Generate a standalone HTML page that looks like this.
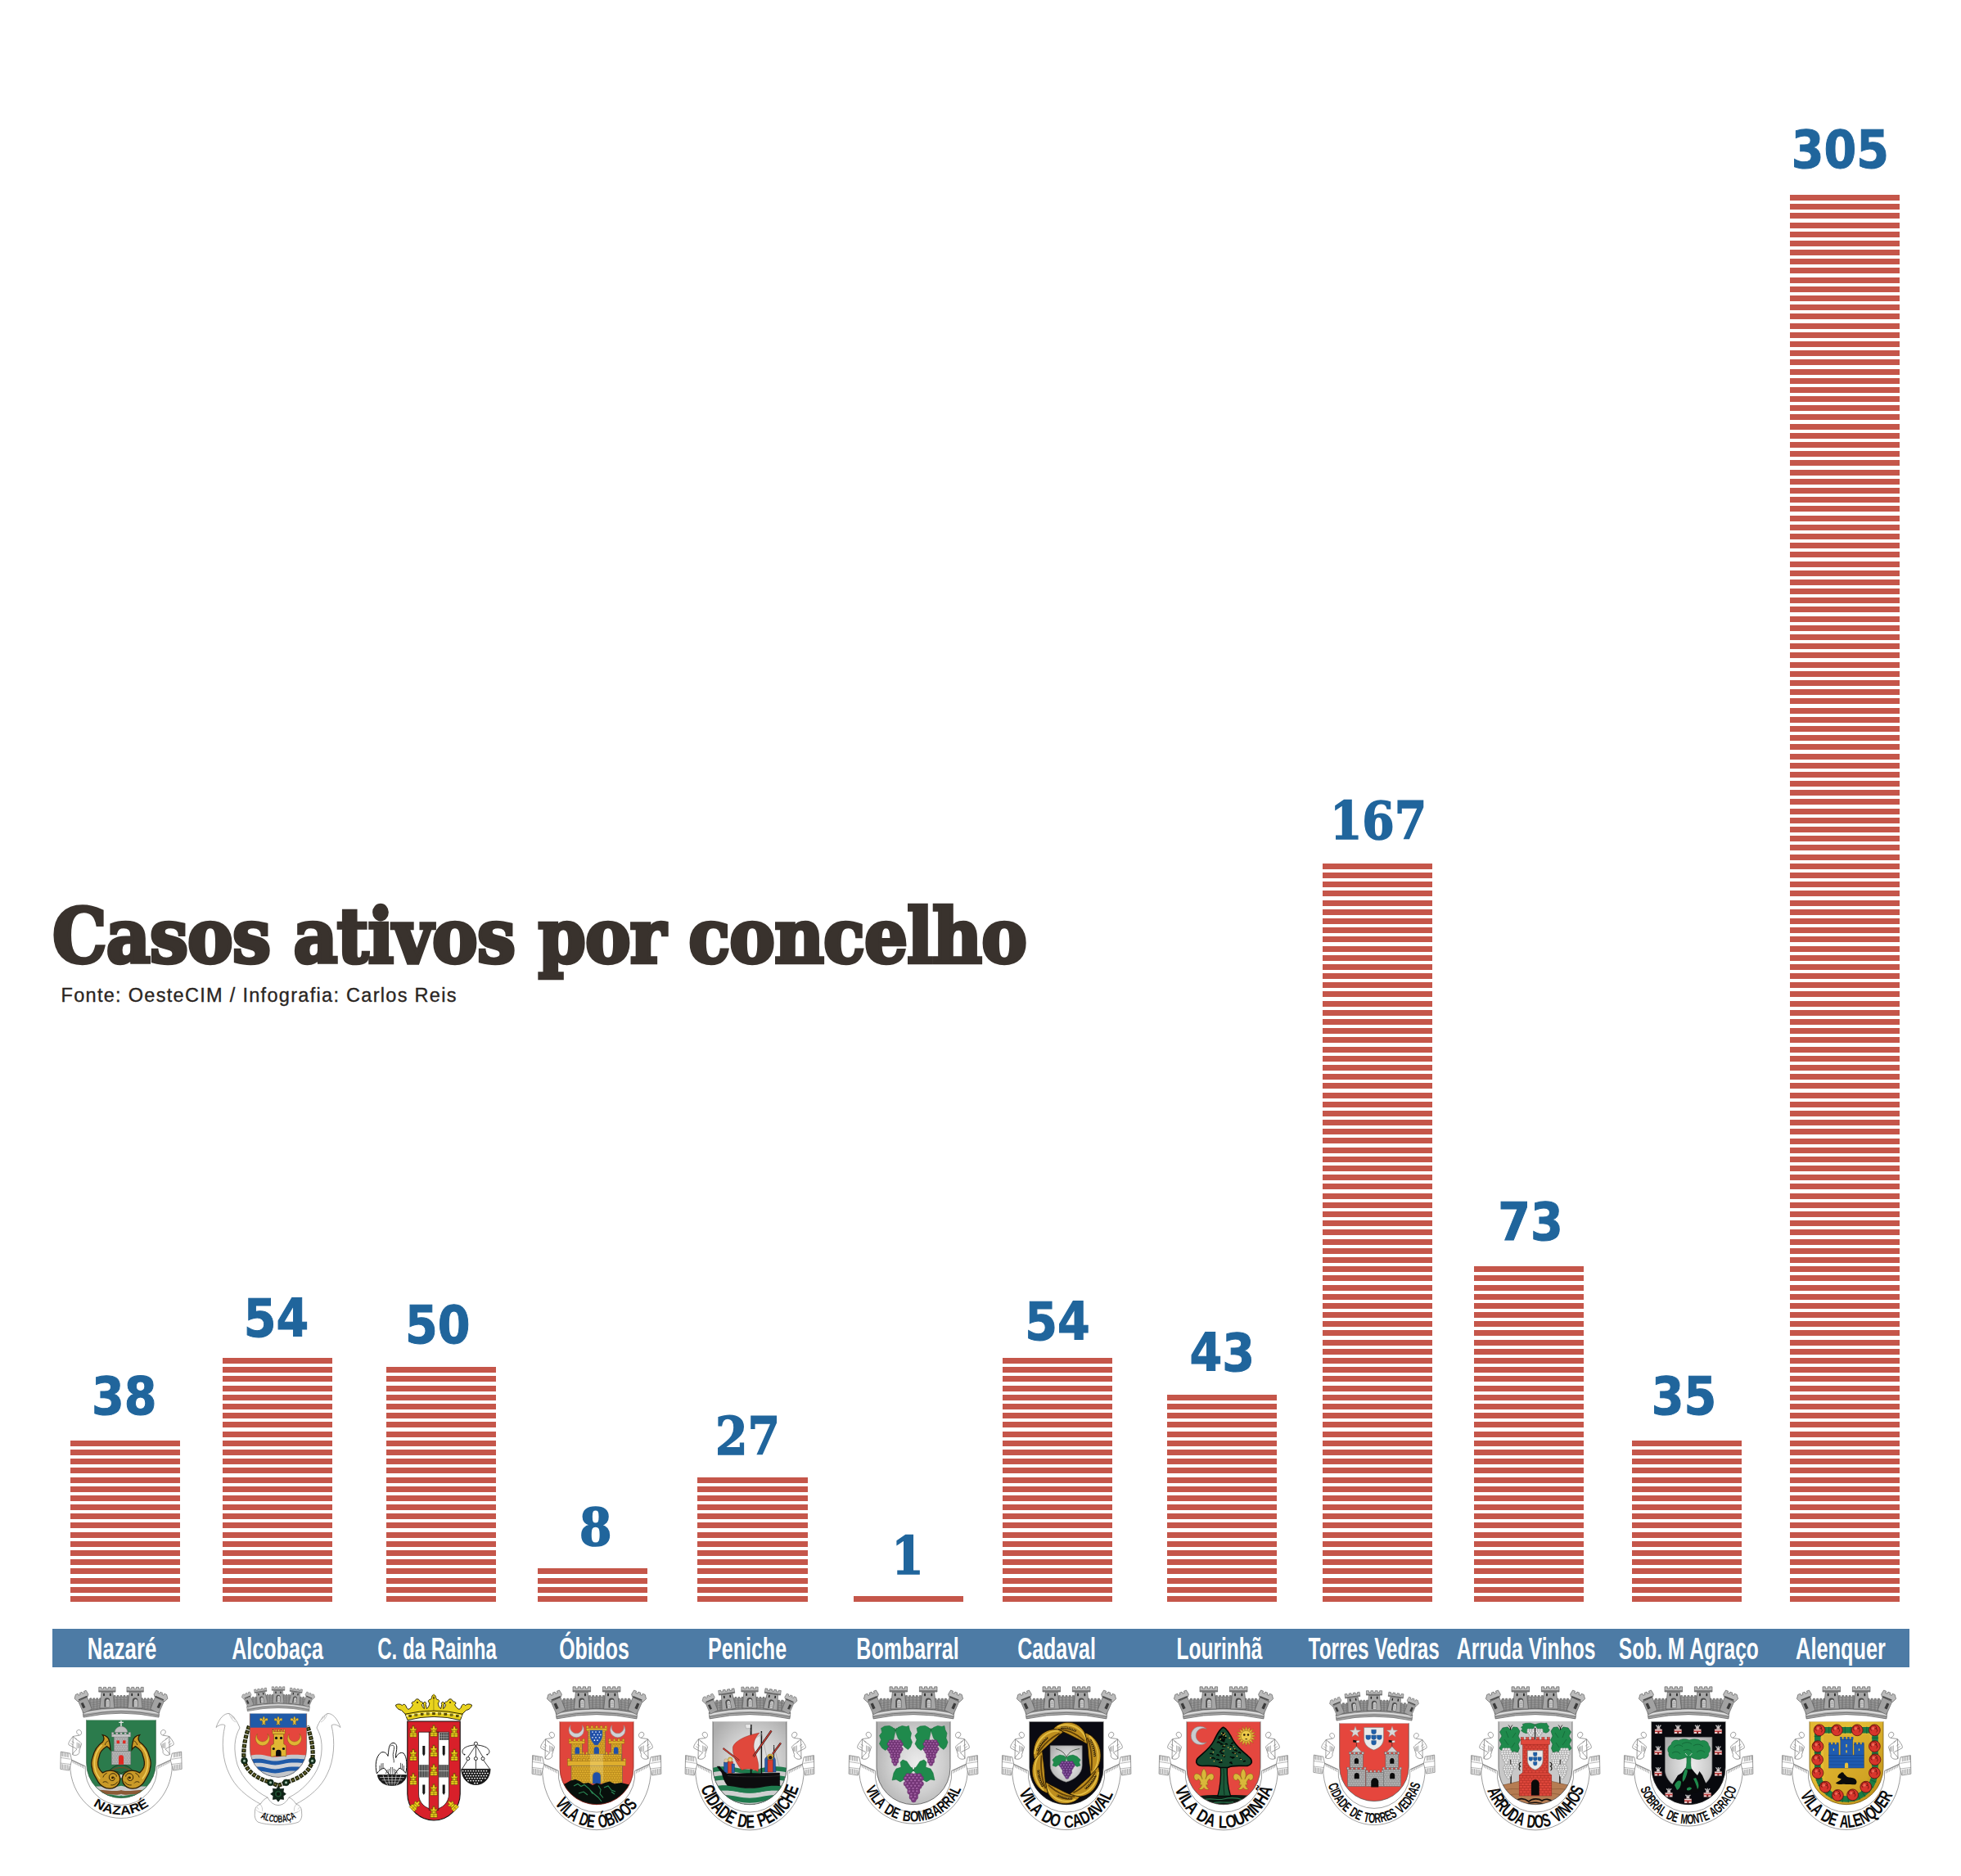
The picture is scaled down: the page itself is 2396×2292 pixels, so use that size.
<!DOCTYPE html><html lang="pt"><head><meta charset="utf-8"><title>Casos ativos por concelho</title><style>
html,body{margin:0;padding:0;background:#fff;}
#pg{position:relative;width:2396px;height:2292px;overflow:hidden;background:#fff;font-family:"Liberation Sans",sans-serif;}
.bar{position:absolute;width:134.3px;background:repeating-linear-gradient(to top,#c5564a 0,#c5564a 7.0px,rgba(255,255,255,0) 7.0px,rgba(255,255,255,0) 11.19px);}
#band{position:absolute;left:63.5px;top:1989.5px;width:2269px;height:47.7px;background:#4d7ba5;}
.lb{position:absolute;top:1993.4px;height:44px;line-height:44px;width:300px;margin-left:-150px;text-align:center;color:#fff;font-size:36px;white-space:nowrap;font-weight:700;}
.lb span{display:inline-block;transform:scaleX(.695);transform-origin:50% 50%;}
.num{position:absolute;width:300px;margin-left:-150px;text-align:center;color:#20659c;white-space:nowrap;line-height:1;}
.num.s{font-family:"DejaVu Sans Condensed","DejaVu Sans","Liberation Sans",sans-serif;font-weight:700;font-size:63.5px;-webkit-text-stroke:1px #20659c;}
.num.f{font-family:"DejaVu Serif Condensed","DejaVu Serif","Liberation Serif",serif;font-weight:700;font-size:63px;-webkit-text-stroke:1.5px #20659c;}
#title{position:absolute;left:64px;top:1089.6px;font-family:"DejaVu Serif","Liberation Serif",serif;font-weight:700;font-size:104px;line-height:normal;color:#39322d;white-space:nowrap;transform-origin:0 0;transform:scale(.8026,.875);-webkit-text-stroke:5.2px #39322d;letter-spacing:-1px;}
#src{position:absolute;left:74.5px;top:1205.2px;-webkit-text-stroke:.35px #2a2522;font-size:23.5px;line-height:1;color:#2a2522;white-space:nowrap;letter-spacing:1.3px;}
.coa{position:absolute;overflow:visible;}
</style></head><body><div id="pg">
<div id="title">Casos ativos por concelho</div>
<div id="src">Fonte: OesteCIM / Infografia: Carlos Reis</div>
<div class="bar" style="left:86.0px;top:1759.77px;height:197.23px"></div>
<div class="bar" style="left:272.0px;top:1659.06px;height:297.94px"></div>
<div class="bar" style="left:472.0px;top:1670.25px;height:286.75px"></div>
<div class="bar" style="left:656.6px;top:1916.43px;height:40.57px"></div>
<div class="bar" style="left:852.4px;top:1804.53px;height:152.47px"></div>
<div class="bar" style="left:1042.8px;top:1950.00px;height:7.00px"></div>
<div class="bar" style="left:1225.1px;top:1659.06px;height:297.94px"></div>
<div class="bar" style="left:1426.1px;top:1703.82px;height:253.18px"></div>
<div class="bar" style="left:1616.2px;top:1054.80px;height:902.20px"></div>
<div class="bar" style="left:1801.2px;top:1547.16px;height:409.84px"></div>
<div class="bar" style="left:1994.0px;top:1759.77px;height:197.23px"></div>
<div class="bar" style="left:2187.1px;top:237.93px;height:1719.07px"></div>
<div id="band"></div>
<div class="lb" style="left:148.9px"><span style="transform:scaleX(0.715)">Nazaré</span></div>
<div class="lb" style="left:339.3px"><span style="transform:scaleX(0.698)">Alcobaça</span></div>
<div class="lb" style="left:534.5px"><span style="transform:scaleX(0.668)">C. da Rainha</span></div>
<div class="lb" style="left:725.6px"><span style="transform:scaleX(0.69)">Óbidos</span></div>
<div class="lb" style="left:912.6px"><span style="transform:scaleX(0.696)">Peniche</span></div>
<div class="lb" style="left:1109.0px"><span style="transform:scaleX(0.696)">Bombarral</span></div>
<div class="lb" style="left:1291.5px"><span style="transform:scaleX(0.693)">Cadaval</span></div>
<div class="lb" style="left:1490.3px"><span style="transform:scaleX(0.682)">Lourinhã</span></div>
<div class="lb" style="left:1679.2px"><span style="transform:scaleX(0.675)">Torres Vedras</span></div>
<div class="lb" style="left:1865.2px"><span style="transform:scaleX(0.686)">Arruda Vinhos</span></div>
<div class="lb" style="left:2062.9px"><span style="transform:scaleX(0.682)">Sob. M Agraço</span></div>
<div class="lb" style="left:2249.5px"><span style="transform:scaleX(0.704)">Alenquer</span></div>
<div class="num s" style="left:151.8px;top:1675.4px">38</div>
<div class="num s" style="left:337.5px;top:1579.8px">54</div>
<div class="num s" style="left:534.8px;top:1588.0px">50</div>
<div class="num f" style="left:727.7px;top:1834.8px">8</div>
<div class="num f" style="left:913.4px;top:1723.7px">27</div>
<div class="num f" style="left:1109.0px;top:1869.8px">1</div>
<div class="num s" style="left:1292.0px;top:1584.4px">54</div>
<div class="num s" style="left:1493.3px;top:1621.7px">43</div>
<div class="num f" style="left:1684.1px;top:971.5px">167</div>
<div class="num s" style="left:1870.0px;top:1462.1px">73</div>
<div class="num s" style="left:2057.5px;top:1675.4px">35</div>
<div class="num s" style="left:2248.3px;top:152.0px">305</div>
<svg class="coa" style="left:42.7px;top:2036.2px" width="210" height="250" viewBox="-105 -65 210 250"><g transform="scale(0.94)"><path d="M-65.93,51.5 A66.3,69.3 0 1 0 65.93,51.5 L46.54,60.5 A46.7,46.7 0 1 1 -46.54,60.5 Z" fill="#fff" stroke="#6f6f6f" stroke-width=".7"/><g transform="scale(-1,1)" fill="#fff" stroke="#6e6e6e" stroke-width=".7" stroke-linejoin="round"><path d="M-66.2,43.8 L-78.4,41.6 L-78.9,64.2 L-67.8,66 L-64.2,53 Z"/><path d="M-77.6,42 v5.6 M-77.6,57.6 v6 M-76.05,42.28 v5.6 M-76.05,57.84 v6 M-74.5,42.56 v5.6 M-74.5,58.08 v6 M-72.95,42.84 v5.6 M-72.95,58.32 v6 M-71.4,43.12 v5.6 M-71.4,58.56 v6 M-69.85,43.4 v5.6 M-69.85,58.8 v6 M-68.3,43.68 v5.6 M-68.3,59.04 v6 " fill="none" stroke-width=".55"/><path d="M-78.6,49.4 L-65.4,51.4 M-78.8,56.4 L-65.6,58" fill="none" stroke-width=".5"/><path d="M-63,45.5 C-58,48 -53,44 -54.5,40.5 L-51.5,31.5 C-53,28 -58,27 -62.5,21.8 C-58,20.5 -54,21 -52.5,19.5 C-49.5,16 -54,11.5 -57,14 C-59,16 -57,19 -54.5,19.8 M-62.5,21.8 C-66,26 -69,30 -68.2,32.5 C-65,35 -60,36 -57.5,38.5 C-60,41 -63,43 -63,45.5Z"/><path d="M-57.4,29.4 v8 M-56,30 v7.4 M-54.6,30.6 v6.4 M-53.4,31.2 v5 M-66,30.5 l3.4,2.4 M-64.4,27.8 l3.6,2.6 M-60.5,23.6 l3,1.8" fill="none" stroke-width=".5"/><path d="M-63,53.6 l.7,3 M-61,54.6 l.7,3 M-59,55.6 l.7,3 M-57,56.6 l.7,3 M-55,57.6 l.7,3 M-53,58.6 l.7,3 M-51,59.6 l.7,3 M-49,60.6 l.7,3 " fill="none" stroke-width=".55"/><path d="M-64.5,52.6 C-60,54.5 -54,57.6 -47.8,60.4" fill="none"/></g><g transform="scale(1,1)" fill="#fff" stroke="#6e6e6e" stroke-width=".7" stroke-linejoin="round"><path d="M-66.2,43.8 L-78.4,41.6 L-78.9,64.2 L-67.8,66 L-64.2,53 Z"/><path d="M-77.6,42 v5.6 M-77.6,57.6 v6 M-76.05,42.28 v5.6 M-76.05,57.84 v6 M-74.5,42.56 v5.6 M-74.5,58.08 v6 M-72.95,42.84 v5.6 M-72.95,58.32 v6 M-71.4,43.12 v5.6 M-71.4,58.56 v6 M-69.85,43.4 v5.6 M-69.85,58.8 v6 M-68.3,43.68 v5.6 M-68.3,59.04 v6 " fill="none" stroke-width=".55"/><path d="M-78.6,49.4 L-65.4,51.4 M-78.8,56.4 L-65.6,58" fill="none" stroke-width=".5"/><path d="M-63,45.5 C-58,48 -53,44 -54.5,40.5 L-51.5,31.5 C-53,28 -58,27 -62.5,21.8 C-58,20.5 -54,21 -52.5,19.5 C-49.5,16 -54,11.5 -57,14 C-59,16 -57,19 -54.5,19.8 M-62.5,21.8 C-66,26 -69,30 -68.2,32.5 C-65,35 -60,36 -57.5,38.5 C-60,41 -63,43 -63,45.5Z"/><path d="M-57.4,29.4 v8 M-56,30 v7.4 M-54.6,30.6 v6.4 M-53.4,31.2 v5 M-66,30.5 l3.4,2.4 M-64.4,27.8 l3.6,2.6 M-60.5,23.6 l3,1.8" fill="none" stroke-width=".5"/><path d="M-63,53.6 l.7,3 M-61,54.6 l.7,3 M-59,55.6 l.7,3 M-57,56.6 l.7,3 M-55,57.6 l.7,3 M-53,58.6 l.7,3 M-51,59.6 l.7,3 M-49,60.6 l.7,3 " fill="none" stroke-width=".55"/><path d="M-64.5,52.6 C-60,54.5 -54,57.6 -47.8,60.4" fill="none"/></g><defs><clipPath id="ct1"><path d="M-45,0H45V56.7A45,45 0 0 1 -45,56.7Z"/></clipPath></defs><path d="M-45,0H45V56.7A45,45 0 0 1 -45,56.7Z" fill="#2b7b4c"/><g clip-path="url(#ct1)"><path d="M-46,88 C-30,85 -10,89 0,86 C10,89 30,85 46,88 V110 H-46Z" fill="#c9c9c9" /><path d="M-40,92 C-25,89 -8,95 0,91.5 C8,95 25,89 40,92 L34,98 C20,94 8,100 0,96.5 C-8,100 -20,94 -34,98Z" fill="#8a5a36" /><path d="M-24,98 C-12,95 -4,101 0,98.5 C4,101 12,95 24,98 L18,103 H-18Z" fill="#2f7d4f" /><path d="M-17,68 C-10,60 -4,58.5 0,58.5 C4,58.5 10,60 17,68 C10,66 4,67 0,70 C-4,67 -10,66 -17,68Z" fill="#2a6b3f" stroke="#1a2a18" stroke-width="0.8" /><path d="M-12,66 C-6,61 6,61 12,66" fill="none" stroke="#7a4a2a" stroke-width="1.2" /><ellipse cx="0" cy="73.5" rx="5" ry="2.2" fill="#dcdcdc" stroke="#777" stroke-width="0.4"/><rect x="-12.6" y="41" width="25.2" height="17.5" fill="#bcbcbc" stroke="#555" stroke-width="0.5" /><path d="M-12.6,43.5 h25.2 M-12.6,46 h25.2 M-12.6,48.5 h25.2 M-12.6,51 h25.2 M-12.6,53.5 h25.2 M-12.6,56 h25.2 M-9.45,41 v2.5 M-6.3,41 v2.5 M-3.15,41 v2.5 M0,41 v2.5 M3.15,41 v2.5 M6.3,41 v2.5 M9.45,41 v2.5 M-11.03,43.5 v2.5 M-7.87,43.5 v2.5 M-4.72,43.5 v2.5 M-1.58,43.5 v2.5 M1.57,43.5 v2.5 M4.73,43.5 v2.5 M7.87,43.5 v2.5 M11.03,43.5 v2.5 M-9.45,46 v2.5 M-6.3,46 v2.5 M-3.15,46 v2.5 M0,46 v2.5 M3.15,46 v2.5 M6.3,46 v2.5 M9.45,46 v2.5 M-11.03,48.5 v2.5 M-7.87,48.5 v2.5 M-4.72,48.5 v2.5 M-1.58,48.5 v2.5 M1.57,48.5 v2.5 M4.73,48.5 v2.5 M7.87,48.5 v2.5 M11.03,48.5 v2.5 M-9.45,51 v2.5 M-6.3,51 v2.5 M-3.15,51 v2.5 M0,51 v2.5 M3.15,51 v2.5 M6.3,51 v2.5 M9.45,51 v2.5 M-11.03,53.5 v2.5 M-7.87,53.5 v2.5 M-4.72,53.5 v2.5 M-1.58,53.5 v2.5 M1.57,53.5 v2.5 M4.73,53.5 v2.5 M7.87,53.5 v2.5 M11.03,53.5 v2.5 M-9.45,56 v2.5 M-6.3,56 v2.5 M-3.15,56 v2.5 M0,56 v2.5 M3.15,56 v2.5 M6.3,56 v2.5 M9.45,56 v2.5 " fill="none" stroke="#7a7a7a" stroke-width="0.35"/><rect x="-9.4" y="21.5" width="18.8" height="19.5" fill="#bcbcbc" stroke="#555" stroke-width="0.5" /><path d="M-9.4,23.94 h18.8 M-9.4,26.38 h18.8 M-9.4,28.81 h18.8 M-9.4,31.25 h18.8 M-9.4,33.69 h18.8 M-9.4,36.12 h18.8 M-9.4,38.56 h18.8 M-6.27,21.5 v2.44 M-3.13,21.5 v2.44 M0,21.5 v2.44 M3.13,21.5 v2.44 M6.27,21.5 v2.44 M-7.83,23.94 v2.44 M-4.7,23.94 v2.44 M-1.57,23.94 v2.44 M1.57,23.94 v2.44 M4.7,23.94 v2.44 M7.83,23.94 v2.44 M-6.27,26.38 v2.44 M-3.13,26.38 v2.44 M0,26.38 v2.44 M3.13,26.38 v2.44 M6.27,26.38 v2.44 M-7.83,28.81 v2.44 M-4.7,28.81 v2.44 M-1.57,28.81 v2.44 M1.57,28.81 v2.44 M4.7,28.81 v2.44 M7.83,28.81 v2.44 M-6.27,31.25 v2.44 M-3.13,31.25 v2.44 M0,31.25 v2.44 M3.13,31.25 v2.44 M6.27,31.25 v2.44 M-7.83,33.69 v2.44 M-4.7,33.69 v2.44 M-1.57,33.69 v2.44 M1.57,33.69 v2.44 M4.7,33.69 v2.44 M7.83,33.69 v2.44 M-6.27,36.12 v2.44 M-3.13,36.12 v2.44 M0,36.12 v2.44 M3.13,36.12 v2.44 M6.27,36.12 v2.44 M-7.83,38.56 v2.44 M-4.7,38.56 v2.44 M-1.57,38.56 v2.44 M1.57,38.56 v2.44 M4.7,38.56 v2.44 M7.83,38.56 v2.44 " fill="none" stroke="#7a7a7a" stroke-width="0.35"/><rect x="-12.4" y="19" width="24.8" height="3.4" fill="#c6c6c6" stroke="#666" stroke-width="0.4" /><rect x="-12.4" y="16.4" width="2.76" height="2.8" fill="#c6c6c6" stroke="#666" stroke-width="0.35" /><rect x="-6.89" y="16.4" width="2.76" height="2.8" fill="#c6c6c6" stroke="#666" stroke-width="0.35" /><rect x="-1.38" y="16.4" width="2.76" height="2.8" fill="#c6c6c6" stroke="#666" stroke-width="0.35" /><rect x="4.13" y="16.4" width="2.76" height="2.8" fill="#c6c6c6" stroke="#666" stroke-width="0.35" /><rect x="9.64" y="16.4" width="2.76" height="2.8" fill="#c6c6c6" stroke="#666" stroke-width="0.35" /><path d="M-8.6,16.6 C-8,11 -3,8.6 0,8.6 C3,8.6 8,11 8.6,16.6Z" fill="#bdbdbd" stroke="#666" stroke-width="0.5" /><path d="M0,8.6 V1.2 M-3,3.6 H3" fill="none" stroke="#e6e6e6" stroke-width="1.5" /><rect x="-5.8" y="27" width="3.6" height="4" fill="#e02a22" /><rect x="2.2" y="27" width="3.6" height="4" fill="#e02a22" /><path d="M-3.2,58.3 v-9.2 a3.2,3.2 0 0 1 6.4,0 v9.2Z" fill="#e02a22" /><g transform="scale(-1,1)"><path d="M24.1,19.8 C20,20.5 16.5,23 15.5,27.3 C14.5,31 14,35 13.9,39.1 C16,36.5 18,35 18.8,34.8 C24,38 28,43 28.4,47.7 C30.4,53 30.6,58 29.5,61.6 C28,65 26,67.5 24.1,69 C20,66.5 14,65.5 9,67 C4,69 1,73 1.5,78 C2,84 7,89.5 14,89.5 C18,89.8 21,88.8 23,87.4 C27,85 30,81.5 31.6,77.7 C35,72 37.6,68 37.5,63.8 C39.2,58 38.6,53 37,48.8 C35,40 30,33 24,29 C22,26 22,22.5 24.1,19.8Z" fill="#c99a28" stroke="#2a1c05" stroke-width="1.4" /><path d="M25,33 C31,39 34.5,47 34.6,55 C35,63 32.5,71 27.5,77" fill="none" stroke="#ecca58" stroke-width="1.8" /><path d="M6,74 C6,70.5 10,69 13,70.5 C16,72 16.5,76.5 14,78.5 C12,80 9,79.5 8.5,77 C8.2,75.4 9.6,74.2 11,74.6" fill="none" stroke="#2a1c05" stroke-width="1.0" /><path d="M17,82.5 C19,80 22.5,80 24,82 M4.5,80.5 C6.5,84 10,85.5 13.5,85 M18.5,69.5 C21,70.5 23,72.5 23.5,75" fill="none" stroke="#2a1c05" stroke-width="0.9" /><circle cx="11.2" cy="75.4" r="1.4" fill="#2a1c05"/><path d="M16.2,27.5 C18.5,28 20.5,30 21,33" fill="none" stroke="#2a1c05" stroke-width="0.8" /></g><g transform="scale(1,1)"><path d="M24.1,19.8 C20,20.5 16.5,23 15.5,27.3 C14.5,31 14,35 13.9,39.1 C16,36.5 18,35 18.8,34.8 C24,38 28,43 28.4,47.7 C30.4,53 30.6,58 29.5,61.6 C28,65 26,67.5 24.1,69 C20,66.5 14,65.5 9,67 C4,69 1,73 1.5,78 C2,84 7,89.5 14,89.5 C18,89.8 21,88.8 23,87.4 C27,85 30,81.5 31.6,77.7 C35,72 37.6,68 37.5,63.8 C39.2,58 38.6,53 37,48.8 C35,40 30,33 24,29 C22,26 22,22.5 24.1,19.8Z" fill="#c99a28" stroke="#2a1c05" stroke-width="1.4" /><path d="M25,33 C31,39 34.5,47 34.6,55 C35,63 32.5,71 27.5,77" fill="none" stroke="#ecca58" stroke-width="1.8" /><path d="M6,74 C6,70.5 10,69 13,70.5 C16,72 16.5,76.5 14,78.5 C12,80 9,79.5 8.5,77 C8.2,75.4 9.6,74.2 11,74.6" fill="none" stroke="#2a1c05" stroke-width="1.0" /><path d="M17,82.5 C19,80 22.5,80 24,82 M4.5,80.5 C6.5,84 10,85.5 13.5,85 M18.5,69.5 C21,70.5 23,72.5 23.5,75" fill="none" stroke="#2a1c05" stroke-width="0.9" /><circle cx="11.2" cy="75.4" r="1.4" fill="#2a1c05"/><path d="M16.2,27.5 C18.5,28 20.5,30 21,33" fill="none" stroke="#2a1c05" stroke-width="0.8" /></g></g><path d="M-45,0H45V56.7A45,45 0 0 1 -45,56.7Z" fill="none" stroke="#2d5a3c" stroke-width="0.8"/><g><path d="M-48.8,-3.2Q0,-13.6 48.8,-3.2L45,0.6H-45Z" fill="#fff"/><path d="M-49.5,-10 L-40.5,-27.8 h2.07 v1.7 h2.07 v-1.7 h2.07 v1.7 h2.07 v-1.7 h2.07 v1.7 h2.07 v-1.7 h2.07 L-26,-14 H-9.5 V-31.4 h2.11 v1.7 h2.11 v-1.7 h2.11 v1.7 h2.11 v-1.7 h2.11 v1.7 h2.11 v-1.7 h2.11 v1.7 h2.11 v-1.7 h2.11 V-14 H26 V-27.8 h2.07 v1.7 h2.07 v-1.7 h2.07 v1.7 h2.07 v-1.7 h2.07 v1.7 h2.07 v-1.7 h2.07 L49.5,-10 Q0,-20.5 -49.5,-10Z" fill="#989898" stroke="#5a5a5a" stroke-width=".6"/><clipPath id="cw4"><path d="M-49.5,-10 L-40.5,-27.8 h2.07 v1.7 h2.07 v-1.7 h2.07 v1.7 h2.07 v-1.7 h2.07 v1.7 h2.07 v-1.7 h2.07 L-26,-14 H-9.5 V-31.4 h2.11 v1.7 h2.11 v-1.7 h2.11 v1.7 h2.11 v-1.7 h2.11 v1.7 h2.11 v-1.7 h2.11 v1.7 h2.11 v-1.7 h2.11 V-14 H26 V-27.8 h2.07 v1.7 h2.07 v-1.7 h2.07 v1.7 h2.07 v-1.7 h2.07 v1.7 h2.07 v-1.7 h2.07 L49.5,-10 Q0,-20.5 -49.5,-10Z"/></clipPath><path d="M-45,-20.8 Q0,-31.2 45,-20.8 M-45,-18 Q0,-28.4 45,-18 M-45,-15.2 Q0,-25.6 45,-15.2 M-45,-12.4 Q0,-22.8 45,-12.4 M-45,-9.6 Q0,-20 45,-9.6 M-44,-12 v-20 M-40.7,-12 v-20 M-39.6,-12 v-20 M-36.3,-12 v-20 M-35.2,-12 v-20 M-31.9,-12 v-20 M-30.8,-12 v-20 M-27.5,-12 v-20 M-26.4,-12 v-20 M-23.1,-12 v-20 M-22,-12 v-20 M-18.7,-12 v-20 M-17.6,-12 v-20 M-14.3,-12 v-20 M-13.2,-12 v-20 M-9.9,-12 v-20 M-8.8,-12 v-20 M-5.5,-12 v-20 M-4.4,-12 v-20 M-1.1,-12 v-20 M0,-12 v-20 M3.3,-12 v-20 M4.4,-12 v-20 M7.7,-12 v-20 M8.8,-12 v-20 M12.1,-12 v-20 M13.2,-12 v-20 M16.5,-12 v-20 M17.6,-12 v-20 M20.9,-12 v-20 M22,-12 v-20 M25.3,-12 v-20 M26.4,-12 v-20 M29.7,-12 v-20 M30.8,-12 v-20 M34.1,-12 v-20 M35.2,-12 v-20 M38.5,-12 v-20 M39.6,-12 v-20 M42.9,-12 v-20 M44,-12 v-20 " fill="none" stroke="#6c6c6c" stroke-width=".5" clip-path="url(#cw4)"/><path d="M-49.8,-10.4 Q0,-21 49.8,-10.4 L48.9,-3.1 Q0,-13.6 -48.9,-3.1Z" fill="#acacac" stroke="#4e4e4e" stroke-width=".7"/><path d="M-49.4,-8.0 Q0,-18.5 49.4,-8.0" fill="none" stroke="#e4e4e4" stroke-width="1.4"/><path d="M-49.1,-5.4 Q0,-15.9 49.1,-5.4" fill="none" stroke="#747474" stroke-width="1"/><polygon points="48.9,-8.2 56,-24.5 44.2,-29.4 38,-13.6" fill="#a2a2a2" stroke="#505050" stroke-width=".6"/><polygon points="60.6,-27.4 59.2,-32.6 56.2,-33.8 55.4,-31.7 53.1,-32.6 53.9,-34.7 50.9,-35.9 50.1,-33.8 47.8,-34.7 48.6,-36.8 45.6,-38 42.6,-33 43.6,-29.8 56.4,-23.6" fill="#bcbcbc" stroke="#4c4c4c" stroke-width=".6"/><polygon points="49.6,-14.6 52.4,-21.2 49.4,-22.4 46.4,-16" fill="#3c3c3c"/><polygon points="55.6,-26.4 44.6,-31 44,-29.6 55,-25" fill="#4a4a4a"/><polygon points="-48.9,-8.2 -56,-24.5 -44.2,-29.4 -38,-13.6" fill="#a2a2a2" stroke="#505050" stroke-width=".6"/><polygon points="-60.6,-27.4 -59.2,-32.6 -56.2,-33.8 -55.4,-31.7 -53.1,-32.6 -53.9,-34.7 -50.9,-35.9 -50.1,-33.8 -47.8,-34.7 -48.6,-36.8 -45.6,-38 -42.6,-33 -43.6,-29.8 -56.4,-23.6" fill="#bcbcbc" stroke="#4c4c4c" stroke-width=".6"/><polygon points="-49.6,-14.6 -52.4,-21.2 -49.4,-22.4 -46.4,-16" fill="#3c3c3c"/><polygon points="-55.6,-26.4 -44.6,-31 -44,-29.6 -55,-25" fill="#4a4a4a"/><path d="M-27.8,-15 L-25.6,-36 H-10.8 L-8.6,-15Z" fill="#a6a6a6" stroke="#505050" stroke-width=".6"/><path d="M-29,-36 V-42.2 h3.3 v2.2 h2.8 v-2.2 h3.3 v2.2 h2.8 v-2.2 h3.3 v2.2 h2.8 v-2.2 h3.3 V-36Z" fill="#bababa" stroke="#4c4c4c" stroke-width=".6"/><rect x="-29" y="-37.8" width="21.6" height="1.6" fill="#6e6e6e"/><path d="M-21.8,-16.5 v-8 a3.6,4 0 0 1 7.2,0 v8Z" fill="#4e4e4e"/><path d="M-19.8,-16.8 v-7 a2.3,2.8 0 0 1 4.6,0 v7Z" fill="#cfcfcf"/><path d="M-19.2,-19h3.4M-19.2,-21.4h3.4M-19,-23.6h3" stroke="#777" stroke-width=".6" fill="none"/><rect x="-23.2" y="-34.2" width="1.7" height="3.4" fill="#222"/><rect x="-14.9" y="-34.2" width="1.7" height="3.4" fill="#222"/><path d="M8.6,-15 L10.8,-36 H25.6 L27.8,-15Z" fill="#a6a6a6" stroke="#505050" stroke-width=".6"/><path d="M7.4,-36 V-42.2 h3.3 v2.2 h2.8 v-2.2 h3.3 v2.2 h2.8 v-2.2 h3.3 v2.2 h2.8 v-2.2 h3.3 V-36Z" fill="#bababa" stroke="#4c4c4c" stroke-width=".6"/><rect x="7.4" y="-37.8" width="21.6" height="1.6" fill="#6e6e6e"/><path d="M14.6,-16.5 v-8 a3.6,4 0 0 1 7.2,0 v8Z" fill="#4e4e4e"/><path d="M16.6,-16.8 v-7 a2.3,2.8 0 0 1 4.6,0 v7Z" fill="#cfcfcf"/><path d="M17.2,-19h3.4M17.2,-21.4h3.4M17.4,-23.6h3" stroke="#777" stroke-width=".6" fill="none"/><rect x="13.2" y="-34.2" width="1.7" height="3.4" fill="#222"/><rect x="21.5" y="-34.2" width="1.7" height="3.4" fill="#222"/></g><path id="t1" d="M-47.85,100.78 A63.3,65.8 0 0 0 47.85,100.78" fill="none"/><text font-family="'Liberation Sans',sans-serif" font-size="16.4" font-weight="700" fill="#0c0c0c" text-anchor="middle" word-spacing="0"><textPath href="#t1" startOffset="50%" textLength="77.77" lengthAdjust="spacingAndGlyphs">NAZARÉ</textPath></text></g></svg>
<svg class="coa" style="left:623.7px;top:2038.2px" width="210" height="250" viewBox="-105 -65 210 250"><g transform="scale(1)"><path d="M-65.98,51.5 A66.3,73.9 0 1 0 65.98,51.5 L46.54,60.5 A46.7,46.7 0 1 1 -46.54,60.5 Z" fill="#fff" stroke="#6f6f6f" stroke-width=".7"/><g transform="scale(-1,1)" fill="#fff" stroke="#6e6e6e" stroke-width=".7" stroke-linejoin="round"><path d="M-66.2,43.8 L-78.4,41.6 L-78.9,64.2 L-67.8,66 L-64.2,53 Z"/><path d="M-77.6,42 v5.6 M-77.6,57.6 v6 M-76.05,42.28 v5.6 M-76.05,57.84 v6 M-74.5,42.56 v5.6 M-74.5,58.08 v6 M-72.95,42.84 v5.6 M-72.95,58.32 v6 M-71.4,43.12 v5.6 M-71.4,58.56 v6 M-69.85,43.4 v5.6 M-69.85,58.8 v6 M-68.3,43.68 v5.6 M-68.3,59.04 v6 " fill="none" stroke-width=".55"/><path d="M-78.6,49.4 L-65.4,51.4 M-78.8,56.4 L-65.6,58" fill="none" stroke-width=".5"/><path d="M-63,45.5 C-58,48 -53,44 -54.5,40.5 L-51.5,31.5 C-53,28 -58,27 -62.5,21.8 C-58,20.5 -54,21 -52.5,19.5 C-49.5,16 -54,11.5 -57,14 C-59,16 -57,19 -54.5,19.8 M-62.5,21.8 C-66,26 -69,30 -68.2,32.5 C-65,35 -60,36 -57.5,38.5 C-60,41 -63,43 -63,45.5Z"/><path d="M-57.4,29.4 v8 M-56,30 v7.4 M-54.6,30.6 v6.4 M-53.4,31.2 v5 M-66,30.5 l3.4,2.4 M-64.4,27.8 l3.6,2.6 M-60.5,23.6 l3,1.8" fill="none" stroke-width=".5"/><path d="M-63,53.6 l.7,3 M-61,54.6 l.7,3 M-59,55.6 l.7,3 M-57,56.6 l.7,3 M-55,57.6 l.7,3 M-53,58.6 l.7,3 M-51,59.6 l.7,3 M-49,60.6 l.7,3 " fill="none" stroke-width=".55"/><path d="M-64.5,52.6 C-60,54.5 -54,57.6 -47.8,60.4" fill="none"/></g><g transform="scale(1,1)" fill="#fff" stroke="#6e6e6e" stroke-width=".7" stroke-linejoin="round"><path d="M-66.2,43.8 L-78.4,41.6 L-78.9,64.2 L-67.8,66 L-64.2,53 Z"/><path d="M-77.6,42 v5.6 M-77.6,57.6 v6 M-76.05,42.28 v5.6 M-76.05,57.84 v6 M-74.5,42.56 v5.6 M-74.5,58.08 v6 M-72.95,42.84 v5.6 M-72.95,58.32 v6 M-71.4,43.12 v5.6 M-71.4,58.56 v6 M-69.85,43.4 v5.6 M-69.85,58.8 v6 M-68.3,43.68 v5.6 M-68.3,59.04 v6 " fill="none" stroke-width=".55"/><path d="M-78.6,49.4 L-65.4,51.4 M-78.8,56.4 L-65.6,58" fill="none" stroke-width=".5"/><path d="M-63,45.5 C-58,48 -53,44 -54.5,40.5 L-51.5,31.5 C-53,28 -58,27 -62.5,21.8 C-58,20.5 -54,21 -52.5,19.5 C-49.5,16 -54,11.5 -57,14 C-59,16 -57,19 -54.5,19.8 M-62.5,21.8 C-66,26 -69,30 -68.2,32.5 C-65,35 -60,36 -57.5,38.5 C-60,41 -63,43 -63,45.5Z"/><path d="M-57.4,29.4 v8 M-56,30 v7.4 M-54.6,30.6 v6.4 M-53.4,31.2 v5 M-66,30.5 l3.4,2.4 M-64.4,27.8 l3.6,2.6 M-60.5,23.6 l3,1.8" fill="none" stroke-width=".5"/><path d="M-63,53.6 l.7,3 M-61,54.6 l.7,3 M-59,55.6 l.7,3 M-57,56.6 l.7,3 M-55,57.6 l.7,3 M-53,58.6 l.7,3 M-51,59.6 l.7,3 M-49,60.6 l.7,3 " fill="none" stroke-width=".55"/><path d="M-64.5,52.6 C-60,54.5 -54,57.6 -47.8,60.4" fill="none"/></g><defs><clipPath id="ct4"><path d="M-45,0H45V56.7A45,45 0 0 1 -45,56.7Z"/></clipPath></defs><path d="M-45,0H45V56.7A45,45 0 0 1 -45,56.7Z" fill="#e0453c"/><g clip-path="url(#ct4)"><path d="M-7.11,-5.84 A9.2,9.2 0 1 0 7.11,-5.84 A7.54,7.54 0 1 1 -7.11,-5.84 Z" transform="translate(-24.8,10.6) rotate(0)" fill="#cfd2d6" stroke="#8a8a8a" stroke-width="0.5"/><path d="M-7.11,-5.84 A9.2,9.2 0 1 0 7.11,-5.84 A7.54,7.54 0 1 1 -7.11,-5.84 Z" transform="translate(25.8,10.6) rotate(0)" fill="#cfd2d6" stroke="#8a8a8a" stroke-width="0.5"/><rect x="-10.6" y="11" width="21.2" height="38" fill="#dfae2d" stroke="#555" stroke-width="0.5" /><path d="M-10.6,13.53 h21.2 M-10.6,16.07 h21.2 M-10.6,18.6 h21.2 M-10.6,21.13 h21.2 M-10.6,23.67 h21.2 M-10.6,26.2 h21.2 M-10.6,28.73 h21.2 M-10.6,31.27 h21.2 M-10.6,33.8 h21.2 M-10.6,36.33 h21.2 M-10.6,38.87 h21.2 M-10.6,41.4 h21.2 M-10.6,43.93 h21.2 M-10.6,46.47 h21.2 M-7.57,11 v2.53 M-4.54,11 v2.53 M-1.51,11 v2.53 M1.51,11 v2.53 M4.54,11 v2.53 M7.57,11 v2.53 M-9.09,13.53 v2.53 M-6.06,13.53 v2.53 M-3.03,13.53 v2.53 M0,13.53 v2.53 M3.03,13.53 v2.53 M6.06,13.53 v2.53 M9.09,13.53 v2.53 M-7.57,16.07 v2.53 M-4.54,16.07 v2.53 M-1.51,16.07 v2.53 M1.51,16.07 v2.53 M4.54,16.07 v2.53 M7.57,16.07 v2.53 M-9.09,18.6 v2.53 M-6.06,18.6 v2.53 M-3.03,18.6 v2.53 M0,18.6 v2.53 M3.03,18.6 v2.53 M6.06,18.6 v2.53 M9.09,18.6 v2.53 M-7.57,21.13 v2.53 M-4.54,21.13 v2.53 M-1.51,21.13 v2.53 M1.51,21.13 v2.53 M4.54,21.13 v2.53 M7.57,21.13 v2.53 M-9.09,23.67 v2.53 M-6.06,23.67 v2.53 M-3.03,23.67 v2.53 M0,23.67 v2.53 M3.03,23.67 v2.53 M6.06,23.67 v2.53 M9.09,23.67 v2.53 M-7.57,26.2 v2.53 M-4.54,26.2 v2.53 M-1.51,26.2 v2.53 M1.51,26.2 v2.53 M4.54,26.2 v2.53 M7.57,26.2 v2.53 M-9.09,28.73 v2.53 M-6.06,28.73 v2.53 M-3.03,28.73 v2.53 M0,28.73 v2.53 M3.03,28.73 v2.53 M6.06,28.73 v2.53 M9.09,28.73 v2.53 M-7.57,31.27 v2.53 M-4.54,31.27 v2.53 M-1.51,31.27 v2.53 M1.51,31.27 v2.53 M4.54,31.27 v2.53 M7.57,31.27 v2.53 M-9.09,33.8 v2.53 M-6.06,33.8 v2.53 M-3.03,33.8 v2.53 M0,33.8 v2.53 M3.03,33.8 v2.53 M6.06,33.8 v2.53 M9.09,33.8 v2.53 M-7.57,36.33 v2.53 M-4.54,36.33 v2.53 M-1.51,36.33 v2.53 M1.51,36.33 v2.53 M4.54,36.33 v2.53 M7.57,36.33 v2.53 M-9.09,38.87 v2.53 M-6.06,38.87 v2.53 M-3.03,38.87 v2.53 M0,38.87 v2.53 M3.03,38.87 v2.53 M6.06,38.87 v2.53 M9.09,38.87 v2.53 M-7.57,41.4 v2.53 M-4.54,41.4 v2.53 M-1.51,41.4 v2.53 M1.51,41.4 v2.53 M4.54,41.4 v2.53 M7.57,41.4 v2.53 M-9.09,43.93 v2.53 M-6.06,43.93 v2.53 M-3.03,43.93 v2.53 M0,43.93 v2.53 M3.03,43.93 v2.53 M6.06,43.93 v2.53 M9.09,43.93 v2.53 M-7.57,46.47 v2.53 M-4.54,46.47 v2.53 M-1.51,46.47 v2.53 M1.51,46.47 v2.53 M4.54,46.47 v2.53 M7.57,46.47 v2.53 " fill="none" stroke="#8a5f0c" stroke-width="0.35"/><rect x="-12.7" y="8.4" width="25.4" height="3.4" fill="#dfae2d" stroke="#8a5f0c" stroke-width="0.4" /><rect x="-12.7" y="5.6" width="2.82" height="3" fill="#dfae2d" stroke="#8a5f0c" stroke-width="0.35" /><rect x="-7.06" y="5.6" width="2.82" height="3" fill="#dfae2d" stroke="#8a5f0c" stroke-width="0.35" /><rect x="-1.41" y="5.6" width="2.82" height="3" fill="#dfae2d" stroke="#8a5f0c" stroke-width="0.35" /><rect x="4.23" y="5.6" width="2.82" height="3" fill="#dfae2d" stroke="#8a5f0c" stroke-width="0.35" /><rect x="9.88" y="5.6" width="2.82" height="3" fill="#dfae2d" stroke="#8a5f0c" stroke-width="0.35" /><rect x="-30.9" y="26.5" width="13.2" height="22.5" fill="#dfae2d" stroke="#555" stroke-width="0.5" /><path d="M-30.9,29 h13.2 M-30.9,31.5 h13.2 M-30.9,34 h13.2 M-30.9,36.5 h13.2 M-30.9,39 h13.2 M-30.9,41.5 h13.2 M-30.9,44 h13.2 M-30.9,46.5 h13.2 M-27.6,26.5 v2.5 M-24.3,26.5 v2.5 M-21,26.5 v2.5 M-29.25,29 v2.5 M-25.95,29 v2.5 M-22.65,29 v2.5 M-19.35,29 v2.5 M-27.6,31.5 v2.5 M-24.3,31.5 v2.5 M-21,31.5 v2.5 M-29.25,34 v2.5 M-25.95,34 v2.5 M-22.65,34 v2.5 M-19.35,34 v2.5 M-27.6,36.5 v2.5 M-24.3,36.5 v2.5 M-21,36.5 v2.5 M-29.25,39 v2.5 M-25.95,39 v2.5 M-22.65,39 v2.5 M-19.35,39 v2.5 M-27.6,41.5 v2.5 M-24.3,41.5 v2.5 M-21,41.5 v2.5 M-29.25,44 v2.5 M-25.95,44 v2.5 M-22.65,44 v2.5 M-19.35,44 v2.5 M-27.6,46.5 v2.5 M-24.3,46.5 v2.5 M-21,46.5 v2.5 " fill="none" stroke="#8a5f0c" stroke-width="0.35"/><rect x="-33.9" y="24" width="19.2" height="3.2" fill="#dfae2d" stroke="#8a5f0c" stroke-width="0.4" /><rect x="-33.9" y="21.4" width="2.74" height="2.8" fill="#dfae2d" stroke="#8a5f0c" stroke-width="0.35" /><rect x="-28.41" y="21.4" width="2.74" height="2.8" fill="#dfae2d" stroke="#8a5f0c" stroke-width="0.35" /><rect x="-22.93" y="21.4" width="2.74" height="2.8" fill="#dfae2d" stroke="#8a5f0c" stroke-width="0.35" /><rect x="-17.44" y="21.4" width="2.74" height="2.8" fill="#dfae2d" stroke="#8a5f0c" stroke-width="0.35" /><path d="M-26.5,39.8 v-5.6 a2.8,2.8 0 0 1 5.6,0 v5.6Z" fill="#1f4fa8" /><rect x="17.7" y="26.5" width="13.2" height="22.5" fill="#dfae2d" stroke="#555" stroke-width="0.5" /><path d="M17.7,29 h13.2 M17.7,31.5 h13.2 M17.7,34 h13.2 M17.7,36.5 h13.2 M17.7,39 h13.2 M17.7,41.5 h13.2 M17.7,44 h13.2 M17.7,46.5 h13.2 M21,26.5 v2.5 M24.3,26.5 v2.5 M27.6,26.5 v2.5 M19.35,29 v2.5 M22.65,29 v2.5 M25.95,29 v2.5 M29.25,29 v2.5 M21,31.5 v2.5 M24.3,31.5 v2.5 M27.6,31.5 v2.5 M19.35,34 v2.5 M22.65,34 v2.5 M25.95,34 v2.5 M29.25,34 v2.5 M21,36.5 v2.5 M24.3,36.5 v2.5 M27.6,36.5 v2.5 M19.35,39 v2.5 M22.65,39 v2.5 M25.95,39 v2.5 M29.25,39 v2.5 M21,41.5 v2.5 M24.3,41.5 v2.5 M27.6,41.5 v2.5 M19.35,44 v2.5 M22.65,44 v2.5 M25.95,44 v2.5 M29.25,44 v2.5 M21,46.5 v2.5 M24.3,46.5 v2.5 M27.6,46.5 v2.5 " fill="none" stroke="#8a5f0c" stroke-width="0.35"/><rect x="14.7" y="24" width="19.2" height="3.2" fill="#dfae2d" stroke="#8a5f0c" stroke-width="0.4" /><rect x="14.7" y="21.4" width="2.74" height="2.8" fill="#dfae2d" stroke="#8a5f0c" stroke-width="0.35" /><rect x="20.19" y="21.4" width="2.74" height="2.8" fill="#dfae2d" stroke="#8a5f0c" stroke-width="0.35" /><rect x="25.67" y="21.4" width="2.74" height="2.8" fill="#dfae2d" stroke="#8a5f0c" stroke-width="0.35" /><rect x="31.16" y="21.4" width="2.74" height="2.8" fill="#dfae2d" stroke="#8a5f0c" stroke-width="0.35" /><path d="M20.9,39.8 v-5.6 a2.8,2.8 0 0 1 5.6,0 v5.6Z" fill="#1f4fa8" /><rect x="-30.2" y="40.5" width="60.4" height="8.5" fill="#dfae2d" stroke="#555" stroke-width="0.5" /><path d="M-30.2,43.33 h60.4 M-30.2,46.17 h60.4 M-27.02,40.5 v2.83 M-23.84,40.5 v2.83 M-20.66,40.5 v2.83 M-17.48,40.5 v2.83 M-14.31,40.5 v2.83 M-11.13,40.5 v2.83 M-7.95,40.5 v2.83 M-4.77,40.5 v2.83 M-1.59,40.5 v2.83 M1.59,40.5 v2.83 M4.77,40.5 v2.83 M7.95,40.5 v2.83 M11.13,40.5 v2.83 M14.31,40.5 v2.83 M17.48,40.5 v2.83 M20.66,40.5 v2.83 M23.84,40.5 v2.83 M27.02,40.5 v2.83 M-28.61,43.33 v2.83 M-25.43,43.33 v2.83 M-22.25,43.33 v2.83 M-19.07,43.33 v2.83 M-15.89,43.33 v2.83 M-12.72,43.33 v2.83 M-9.54,43.33 v2.83 M-6.36,43.33 v2.83 M-3.18,43.33 v2.83 M0,43.33 v2.83 M3.18,43.33 v2.83 M6.36,43.33 v2.83 M9.54,43.33 v2.83 M12.72,43.33 v2.83 M15.89,43.33 v2.83 M19.07,43.33 v2.83 M22.25,43.33 v2.83 M25.43,43.33 v2.83 M28.61,43.33 v2.83 M-27.02,46.17 v2.83 M-23.84,46.17 v2.83 M-20.66,46.17 v2.83 M-17.48,46.17 v2.83 M-14.31,46.17 v2.83 M-11.13,46.17 v2.83 M-7.95,46.17 v2.83 M-4.77,46.17 v2.83 M-1.59,46.17 v2.83 M1.59,46.17 v2.83 M4.77,46.17 v2.83 M7.95,46.17 v2.83 M11.13,46.17 v2.83 M14.31,46.17 v2.83 M17.48,46.17 v2.83 M20.66,46.17 v2.83 M23.84,46.17 v2.83 M27.02,46.17 v2.83 " fill="none" stroke="#8a5f0c" stroke-width="0.35"/><rect x="-17.5" y="37.6" width="2.17" height="3" fill="#dfae2d" stroke="#8a5f0c" stroke-width="0.35" /><rect x="-13.17" y="37.6" width="2.17" height="3" fill="#dfae2d" stroke="#8a5f0c" stroke-width="0.35" /><rect x="11" y="37.6" width="2.17" height="3" fill="#dfae2d" stroke="#8a5f0c" stroke-width="0.35" /><rect x="15.33" y="37.6" width="2.17" height="3" fill="#dfae2d" stroke="#8a5f0c" stroke-width="0.35" /><rect x="-35.6" y="48.4" width="71.2" height="6" fill="#dfae2d" stroke="#8a5f0c" stroke-width="0.5" /><rect x="-35.6" y="45.6" width="3.1" height="3" fill="#dfae2d" stroke="#8a5f0c" stroke-width="0.35" /><rect x="-29.41" y="45.6" width="3.1" height="3" fill="#dfae2d" stroke="#8a5f0c" stroke-width="0.35" /><rect x="-23.22" y="45.6" width="3.1" height="3" fill="#dfae2d" stroke="#8a5f0c" stroke-width="0.35" /><rect x="-17.03" y="45.6" width="3.1" height="3" fill="#dfae2d" stroke="#8a5f0c" stroke-width="0.35" /><rect x="-10.83" y="45.6" width="3.1" height="3" fill="#dfae2d" stroke="#8a5f0c" stroke-width="0.35" /><rect x="-4.64" y="45.6" width="3.1" height="3" fill="#dfae2d" stroke="#8a5f0c" stroke-width="0.35" /><rect x="1.55" y="45.6" width="3.1" height="3" fill="#dfae2d" stroke="#8a5f0c" stroke-width="0.35" /><rect x="7.74" y="45.6" width="3.1" height="3" fill="#dfae2d" stroke="#8a5f0c" stroke-width="0.35" /><rect x="13.93" y="45.6" width="3.1" height="3" fill="#dfae2d" stroke="#8a5f0c" stroke-width="0.35" /><rect x="20.12" y="45.6" width="3.1" height="3" fill="#dfae2d" stroke="#8a5f0c" stroke-width="0.35" /><rect x="26.31" y="45.6" width="3.1" height="3" fill="#dfae2d" stroke="#8a5f0c" stroke-width="0.35" /><rect x="32.5" y="45.6" width="3.1" height="3" fill="#dfae2d" stroke="#8a5f0c" stroke-width="0.35" /><rect x="-31" y="54.2" width="62.4" height="21.8" fill="#dfae2d" stroke="#555" stroke-width="0.5" /><path d="M-31,56.93 h62.4 M-31,59.65 h62.4 M-31,62.38 h62.4 M-31,65.1 h62.4 M-31,67.83 h62.4 M-31,70.55 h62.4 M-31,73.28 h62.4 M-27.88,54.2 v2.72 M-24.76,54.2 v2.72 M-21.64,54.2 v2.72 M-18.52,54.2 v2.72 M-15.4,54.2 v2.72 M-12.28,54.2 v2.72 M-9.16,54.2 v2.72 M-6.04,54.2 v2.72 M-2.92,54.2 v2.72 M0.2,54.2 v2.72 M3.32,54.2 v2.72 M6.44,54.2 v2.72 M9.56,54.2 v2.72 M12.68,54.2 v2.72 M15.8,54.2 v2.72 M18.92,54.2 v2.72 M22.04,54.2 v2.72 M25.16,54.2 v2.72 M28.28,54.2 v2.72 M-29.44,56.93 v2.72 M-26.32,56.93 v2.72 M-23.2,56.93 v2.72 M-20.08,56.93 v2.72 M-16.96,56.93 v2.72 M-13.84,56.93 v2.72 M-10.72,56.93 v2.72 M-7.6,56.93 v2.72 M-4.48,56.93 v2.72 M-1.36,56.93 v2.72 M1.76,56.93 v2.72 M4.88,56.93 v2.72 M8,56.93 v2.72 M11.12,56.93 v2.72 M14.24,56.93 v2.72 M17.36,56.93 v2.72 M20.48,56.93 v2.72 M23.6,56.93 v2.72 M26.72,56.93 v2.72 M29.84,56.93 v2.72 M-27.88,59.65 v2.72 M-24.76,59.65 v2.72 M-21.64,59.65 v2.72 M-18.52,59.65 v2.72 M-15.4,59.65 v2.72 M-12.28,59.65 v2.72 M-9.16,59.65 v2.72 M-6.04,59.65 v2.72 M-2.92,59.65 v2.72 M0.2,59.65 v2.72 M3.32,59.65 v2.72 M6.44,59.65 v2.72 M9.56,59.65 v2.72 M12.68,59.65 v2.72 M15.8,59.65 v2.72 M18.92,59.65 v2.72 M22.04,59.65 v2.72 M25.16,59.65 v2.72 M28.28,59.65 v2.72 M-29.44,62.38 v2.72 M-26.32,62.38 v2.72 M-23.2,62.38 v2.72 M-20.08,62.38 v2.72 M-16.96,62.38 v2.72 M-13.84,62.38 v2.72 M-10.72,62.38 v2.72 M-7.6,62.38 v2.72 M-4.48,62.38 v2.72 M-1.36,62.38 v2.72 M1.76,62.38 v2.72 M4.88,62.38 v2.72 M8,62.38 v2.72 M11.12,62.38 v2.72 M14.24,62.38 v2.72 M17.36,62.38 v2.72 M20.48,62.38 v2.72 M23.6,62.38 v2.72 M26.72,62.38 v2.72 M29.84,62.38 v2.72 M-27.88,65.1 v2.72 M-24.76,65.1 v2.72 M-21.64,65.1 v2.72 M-18.52,65.1 v2.72 M-15.4,65.1 v2.72 M-12.28,65.1 v2.72 M-9.16,65.1 v2.72 M-6.04,65.1 v2.72 M-2.92,65.1 v2.72 M0.2,65.1 v2.72 M3.32,65.1 v2.72 M6.44,65.1 v2.72 M9.56,65.1 v2.72 M12.68,65.1 v2.72 M15.8,65.1 v2.72 M18.92,65.1 v2.72 M22.04,65.1 v2.72 M25.16,65.1 v2.72 M28.28,65.1 v2.72 M-29.44,67.83 v2.72 M-26.32,67.83 v2.72 M-23.2,67.83 v2.72 M-20.08,67.83 v2.72 M-16.96,67.83 v2.72 M-13.84,67.83 v2.72 M-10.72,67.83 v2.72 M-7.6,67.83 v2.72 M-4.48,67.83 v2.72 M-1.36,67.83 v2.72 M1.76,67.83 v2.72 M4.88,67.83 v2.72 M8,67.83 v2.72 M11.12,67.83 v2.72 M14.24,67.83 v2.72 M17.36,67.83 v2.72 M20.48,67.83 v2.72 M23.6,67.83 v2.72 M26.72,67.83 v2.72 M29.84,67.83 v2.72 M-27.88,70.55 v2.72 M-24.76,70.55 v2.72 M-21.64,70.55 v2.72 M-18.52,70.55 v2.72 M-15.4,70.55 v2.72 M-12.28,70.55 v2.72 M-9.16,70.55 v2.72 M-6.04,70.55 v2.72 M-2.92,70.55 v2.72 M0.2,70.55 v2.72 M3.32,70.55 v2.72 M6.44,70.55 v2.72 M9.56,70.55 v2.72 M12.68,70.55 v2.72 M15.8,70.55 v2.72 M18.92,70.55 v2.72 M22.04,70.55 v2.72 M25.16,70.55 v2.72 M28.28,70.55 v2.72 M-29.44,73.28 v2.72 M-26.32,73.28 v2.72 M-23.2,73.28 v2.72 M-20.08,73.28 v2.72 M-16.96,73.28 v2.72 M-13.84,73.28 v2.72 M-10.72,73.28 v2.72 M-7.6,73.28 v2.72 M-4.48,73.28 v2.72 M-1.36,73.28 v2.72 M1.76,73.28 v2.72 M4.88,73.28 v2.72 M8,73.28 v2.72 M11.12,73.28 v2.72 M14.24,73.28 v2.72 M17.36,73.28 v2.72 M20.48,73.28 v2.72 M23.6,73.28 v2.72 M26.72,73.28 v2.72 M29.84,73.28 v2.72 " fill="none" stroke="#8a5f0c" stroke-width="0.35"/><path d="M-8,40 H8 V74 H-8Z" fill="#fff3b0" opacity=".28"/><path d="M-8.6,10.4 H7.4 V17 C7.4,23 3.4,26 1.6,29.4 H-2.8 C-4.6,26 -8.6,23 -8.6,17Z" fill="#1f4fa8" stroke="#c9a23a" stroke-width="0.8" /><circle cx="-5" cy="13" r="0.85" fill="#e9eef8"/><circle cx="-1" cy="13" r="0.85" fill="#e9eef8"/><circle cx="3.4" cy="13" r="0.85" fill="#e9eef8"/><circle cx="-3" cy="16.4" r="0.85" fill="#e9eef8"/><circle cx="1.4" cy="16.4" r="0.85" fill="#e9eef8"/><circle cx="5" cy="16.4" r="0.85" fill="#e9eef8"/><circle cx="-5" cy="19.8" r="0.85" fill="#e9eef8"/><circle cx="-1" cy="19.8" r="0.85" fill="#e9eef8"/><circle cx="3.4" cy="19.8" r="0.85" fill="#e9eef8"/><circle cx="-2.6" cy="23.2" r="0.85" fill="#e9eef8"/><circle cx="1" cy="23.2" r="0.85" fill="#e9eef8"/><path d="M-3.3,39.8 v-5.5 a3.1,3.1 0 0 1 6.2,0 v5.5Z" fill="#1f4fa8" /><path d="M-6.2,76 v-9.2 a6.2,6.2 0 0 1 12.4,0 v9.2Z" fill="#c9a23a" /><path d="M-4.8,76 v-9 a4.8,4.8 0 0 1 9.6,0 v9Z" fill="#1f4fa8" /><path d="M-46,78 L-38,76 L-32,72.5 L-26,71 L-21,73 L-16,76 L-10,75 L-5,78 L0,75.5 L6,77 L10,75 L16,73.5 L22,76.5 L30,75 L38,77 L46,76 V110 H-46Z" fill="#08100c" /><path d="M-28,79 l5,-2.5 l4,3 l4,-2 l6,5 l4,6 M-22,88 l6,-2 l5,4 M2,78.5 l3,5 l-1,5 l4,5 M9,81 l5,-2 l4,5 l5,2 M-8,84 l4,4 l6,5 l4,5 M18,86 l4,3" fill="none" stroke="#2b8a55" stroke-width="1.1" /></g><path d="M-45,0H45V56.7A45,45 0 0 1 -45,56.7Z" fill="none" stroke="#8a2a22" stroke-width="0.8"/><g><path d="M-48.8,-3.2Q0,-13.6 48.8,-3.2L45,0.6H-45Z" fill="#fff"/><path d="M-49.5,-10 L-40.5,-27.8 h2.07 v1.7 h2.07 v-1.7 h2.07 v1.7 h2.07 v-1.7 h2.07 v1.7 h2.07 v-1.7 h2.07 L-26,-14 H-9.5 V-31.4 h2.11 v1.7 h2.11 v-1.7 h2.11 v1.7 h2.11 v-1.7 h2.11 v1.7 h2.11 v-1.7 h2.11 v1.7 h2.11 v-1.7 h2.11 V-14 H26 V-27.8 h2.07 v1.7 h2.07 v-1.7 h2.07 v1.7 h2.07 v-1.7 h2.07 v1.7 h2.07 v-1.7 h2.07 L49.5,-10 Q0,-20.5 -49.5,-10Z" fill="#989898" stroke="#5a5a5a" stroke-width=".6"/><clipPath id="cw4"><path d="M-49.5,-10 L-40.5,-27.8 h2.07 v1.7 h2.07 v-1.7 h2.07 v1.7 h2.07 v-1.7 h2.07 v1.7 h2.07 v-1.7 h2.07 L-26,-14 H-9.5 V-31.4 h2.11 v1.7 h2.11 v-1.7 h2.11 v1.7 h2.11 v-1.7 h2.11 v1.7 h2.11 v-1.7 h2.11 v1.7 h2.11 v-1.7 h2.11 V-14 H26 V-27.8 h2.07 v1.7 h2.07 v-1.7 h2.07 v1.7 h2.07 v-1.7 h2.07 v1.7 h2.07 v-1.7 h2.07 L49.5,-10 Q0,-20.5 -49.5,-10Z"/></clipPath><path d="M-45,-20.8 Q0,-31.2 45,-20.8 M-45,-18 Q0,-28.4 45,-18 M-45,-15.2 Q0,-25.6 45,-15.2 M-45,-12.4 Q0,-22.8 45,-12.4 M-45,-9.6 Q0,-20 45,-9.6 M-44,-12 v-20 M-40.7,-12 v-20 M-39.6,-12 v-20 M-36.3,-12 v-20 M-35.2,-12 v-20 M-31.9,-12 v-20 M-30.8,-12 v-20 M-27.5,-12 v-20 M-26.4,-12 v-20 M-23.1,-12 v-20 M-22,-12 v-20 M-18.7,-12 v-20 M-17.6,-12 v-20 M-14.3,-12 v-20 M-13.2,-12 v-20 M-9.9,-12 v-20 M-8.8,-12 v-20 M-5.5,-12 v-20 M-4.4,-12 v-20 M-1.1,-12 v-20 M0,-12 v-20 M3.3,-12 v-20 M4.4,-12 v-20 M7.7,-12 v-20 M8.8,-12 v-20 M12.1,-12 v-20 M13.2,-12 v-20 M16.5,-12 v-20 M17.6,-12 v-20 M20.9,-12 v-20 M22,-12 v-20 M25.3,-12 v-20 M26.4,-12 v-20 M29.7,-12 v-20 M30.8,-12 v-20 M34.1,-12 v-20 M35.2,-12 v-20 M38.5,-12 v-20 M39.6,-12 v-20 M42.9,-12 v-20 M44,-12 v-20 " fill="none" stroke="#6c6c6c" stroke-width=".5" clip-path="url(#cw4)"/><path d="M-49.8,-10.4 Q0,-21 49.8,-10.4 L48.9,-3.1 Q0,-13.6 -48.9,-3.1Z" fill="#acacac" stroke="#4e4e4e" stroke-width=".7"/><path d="M-49.4,-8.0 Q0,-18.5 49.4,-8.0" fill="none" stroke="#e4e4e4" stroke-width="1.4"/><path d="M-49.1,-5.4 Q0,-15.9 49.1,-5.4" fill="none" stroke="#747474" stroke-width="1"/><polygon points="48.9,-8.2 56,-24.5 44.2,-29.4 38,-13.6" fill="#a2a2a2" stroke="#505050" stroke-width=".6"/><polygon points="60.6,-27.4 59.2,-32.6 56.2,-33.8 55.4,-31.7 53.1,-32.6 53.9,-34.7 50.9,-35.9 50.1,-33.8 47.8,-34.7 48.6,-36.8 45.6,-38 42.6,-33 43.6,-29.8 56.4,-23.6" fill="#bcbcbc" stroke="#4c4c4c" stroke-width=".6"/><polygon points="49.6,-14.6 52.4,-21.2 49.4,-22.4 46.4,-16" fill="#3c3c3c"/><polygon points="55.6,-26.4 44.6,-31 44,-29.6 55,-25" fill="#4a4a4a"/><polygon points="-48.9,-8.2 -56,-24.5 -44.2,-29.4 -38,-13.6" fill="#a2a2a2" stroke="#505050" stroke-width=".6"/><polygon points="-60.6,-27.4 -59.2,-32.6 -56.2,-33.8 -55.4,-31.7 -53.1,-32.6 -53.9,-34.7 -50.9,-35.9 -50.1,-33.8 -47.8,-34.7 -48.6,-36.8 -45.6,-38 -42.6,-33 -43.6,-29.8 -56.4,-23.6" fill="#bcbcbc" stroke="#4c4c4c" stroke-width=".6"/><polygon points="-49.6,-14.6 -52.4,-21.2 -49.4,-22.4 -46.4,-16" fill="#3c3c3c"/><polygon points="-55.6,-26.4 -44.6,-31 -44,-29.6 -55,-25" fill="#4a4a4a"/><path d="M-27.8,-15 L-25.6,-36 H-10.8 L-8.6,-15Z" fill="#a6a6a6" stroke="#505050" stroke-width=".6"/><path d="M-29,-36 V-42.2 h3.3 v2.2 h2.8 v-2.2 h3.3 v2.2 h2.8 v-2.2 h3.3 v2.2 h2.8 v-2.2 h3.3 V-36Z" fill="#bababa" stroke="#4c4c4c" stroke-width=".6"/><rect x="-29" y="-37.8" width="21.6" height="1.6" fill="#6e6e6e"/><path d="M-21.8,-16.5 v-8 a3.6,4 0 0 1 7.2,0 v8Z" fill="#4e4e4e"/><path d="M-19.8,-16.8 v-7 a2.3,2.8 0 0 1 4.6,0 v7Z" fill="#cfcfcf"/><path d="M-19.2,-19h3.4M-19.2,-21.4h3.4M-19,-23.6h3" stroke="#777" stroke-width=".6" fill="none"/><rect x="-23.2" y="-34.2" width="1.7" height="3.4" fill="#222"/><rect x="-14.9" y="-34.2" width="1.7" height="3.4" fill="#222"/><path d="M8.6,-15 L10.8,-36 H25.6 L27.8,-15Z" fill="#a6a6a6" stroke="#505050" stroke-width=".6"/><path d="M7.4,-36 V-42.2 h3.3 v2.2 h2.8 v-2.2 h3.3 v2.2 h2.8 v-2.2 h3.3 v2.2 h2.8 v-2.2 h3.3 V-36Z" fill="#bababa" stroke="#4c4c4c" stroke-width=".6"/><rect x="7.4" y="-37.8" width="21.6" height="1.6" fill="#6e6e6e"/><path d="M14.6,-16.5 v-8 a3.6,4 0 0 1 7.2,0 v8Z" fill="#4e4e4e"/><path d="M16.6,-16.8 v-7 a2.3,2.8 0 0 1 4.6,0 v7Z" fill="#cfcfcf"/><path d="M17.2,-19h3.4M17.2,-21.4h3.4M17.4,-23.6h3" stroke="#777" stroke-width=".6" fill="none"/><rect x="13.2" y="-34.2" width="1.7" height="3.4" fill="#222"/><rect x="21.5" y="-34.2" width="1.7" height="3.4" fill="#222"/></g><path id="t4" d="M-58.31,85.89 A63.3,72.4 0 0 0 57.74,87.37" fill="none"/><text font-family="'Liberation Sans',sans-serif" font-size="22.6" font-weight="700" fill="#0c0c0c" text-anchor="middle" word-spacing="3"><textPath href="#t4" startOffset="50%" textLength="121.92" lengthAdjust="spacingAndGlyphs">VILA DE ÓBIDOS</textPath></text></g></svg>
<svg class="coa" style="left:235.2px;top:2038px" width="210" height="260" viewBox="-105 -55 210 260"><g transform="scale(1)"><path d="M-47,18 C-50,10 -55,3 -60,.5 C-66,0 -72,6 -76,17.5 C-72,14 -68,13 -65,15 C-70,35 -68,58 -60,74 C-53,90 -38,103 -20,112 L-13,103 C-28,96 -44,80 -50,63 C-55,45 -54,30 -47,18Z" fill="#fff" stroke="#8a8a8a" stroke-width="0.7" /><path d="M-47,18 C-50,10 -55,3 -60,.5 C-66,0 -72,6 -76,17.5 C-72,14 -68,13 -65,15 C-70,35 -68,58 -60,74 C-53,90 -38,103 -20,112 L-13,103 C-28,96 -44,80 -50,63 C-55,45 -54,30 -47,18Z" fill="#fff" stroke="#8a8a8a" stroke-width="0.7" transform="scale(-1,1)"/><path d="M-60,.8 C-58,6 -56,9 -52,11 M-57,2.5 l1.2,4 M-54.6,4.2 l1.2,3.6" fill="none" stroke="#9a9a9a" stroke-width="0.5" /><path d="M60,.8 C58,6 56,9 52,11 M57,2.5 l-1.2,4 M54.6,4.2 l-1.2,3.6" fill="none" stroke="#9a9a9a" stroke-width="0.5" /><path d="M-28.6,122 C-29,116 -26,112 -22,111.5 C-20,108 -17,104.5 -13,103 C-10,109 -5,112.5 0,112.5 C5,112.5 10,109 13,103 C17,104.5 20,108 22,111.5 C26,112 29,116 28.6,122 C29.4,127 27.5,131 25,133 C15,137.6 -15,137.6 -25,133 C-27.5,131 -29.4,127 -28.6,122Z" fill="#fff" stroke="#8a8a8a" stroke-width="0.7" /><path d="M-22,111.5 c2,2 3,5 2.5,8 M22,111.5 c-2,2 -3,5 -2.5,8 M-26,115 l2,2.6 M-27.4,118 l2.2,2 M26,115 l-2,2.6 M27.4,118 l-2.2,2" fill="none" stroke="#9a9a9a" stroke-width="0.5" /><path d="M-24.5,120.5 C-14,125.5 14,125.5 24.5,120.5" fill="none" stroke="#8a8a8a" stroke-width="0.6" /><path d="M-35.5,15.7 C-41,30 -43.5,48 -41.5,58 C-39,72 -25,80 -9,85 L0,88.5 L9,85 C25,80 39,72 41.5,58 C43.5,48 41,30 35.5,15.7" fill="none" stroke="#23280f" stroke-width="5.2" stroke-dasharray="4.6 1.1"/><path d="M-35.5,15.7 C-41,30 -43.5,48 -41.5,58 C-39,72 -25,80 -9,85 L0,88.5 L9,85 C25,80 39,72 41.5,58 C43.5,48 41,30 35.5,15.7" fill="none" stroke="#6f6a2c" stroke-width="2.0" stroke-dasharray="2.2 3.5" stroke-dashoffset="-1.2"/><circle cx="-41.5" cy="58.2" r="3.9" fill="#12301c" stroke="#0a140c" stroke-width="0.6"/><circle cx="-41.5" cy="58.2" r="1.5" fill="#a8c0ae"/><circle cx="41.5" cy="58.2" r="3.9" fill="#12301c" stroke="#0a140c" stroke-width="0.6"/><circle cx="41.5" cy="58.2" r="1.5" fill="#a8c0ae"/><circle cx="-9.5" cy="84.8" r="3.9" fill="#12301c" stroke="#0a140c" stroke-width="0.6"/><circle cx="-9.5" cy="84.8" r="1.5" fill="#a8c0ae"/><circle cx="9.5" cy="84.8" r="3.9" fill="#12301c" stroke="#0a140c" stroke-width="0.6"/><circle cx="9.5" cy="84.8" r="1.5" fill="#a8c0ae"/><polygon points="9.4,98.8 6.1,101.33 6.65,105.45 2.53,104.9 0,108.2 -2.53,104.9 -6.65,105.45 -6.1,101.33 -9.4,98.8 -6.1,96.27 -6.65,92.15 -2.53,92.7 -0,89.4 2.53,92.7 6.65,92.15 6.1,96.27" fill="#10281a" stroke="#060c08" stroke-width="0.6" /><circle cx="0" cy="98.8" r="4.6" fill="#1d4a2e" stroke="#060c08" stroke-width="0.6"/><circle cx="0" cy="98.8" r="2.2" fill="#0a140c"/><path d="M0,88.5 V91" fill="none" stroke="#23280f" stroke-width="1.6" /><g transform="scale(.77)"><defs><clipPath id="ct2"><path d="M-45,0H45V56.7A45,45 0 0 1 -45,56.7Z"/></clipPath></defs><path d="M-45,0H45V56.7A45,45 0 0 1 -45,56.7Z" fill="#e5463d"/><g clip-path="url(#ct2)"><rect x="-46" y="0" width="92" height="23" fill="#1f5aa8" /><path d="M0,-8 C2.2,-5.5 2.4,-2.5 1.2,0 C2,-2.5 4,-4.5 6,-4 C8,-3.4 8,0 6,.8 C5,1.2 4.2,.6 4.4,-.2 C3.2,.4 2.6,1.8 2.4,3 H3 V4.4 H1.6 C2,6 3,7 4,7.4 C2.6,8.4 1,8 0,6.6 C-1,8 -2.6,8.4 -4,7.4 C-3,7 -2,6 -1.6,4.4 H-3 V3 H-2.4 C-2.6,1.8 -3.2,.4 -4.4,-.2 C-4.2,.6 -5,1.2 -6,.8 C-8,0 -8,-3.4 -6,-4 C-4,-4.5 -2,-2.5 -1.2,0 C-2.4,-2.5 -2.2,-5.5 0,-8Z" transform="translate(-23,11.6) scale(0.86)" fill="#e3bd3a" stroke="#6b4a08" stroke-width="0.47"/><path d="M0,-8 C2.2,-5.5 2.4,-2.5 1.2,0 C2,-2.5 4,-4.5 6,-4 C8,-3.4 8,0 6,.8 C5,1.2 4.2,.6 4.4,-.2 C3.2,.4 2.6,1.8 2.4,3 H3 V4.4 H1.6 C2,6 3,7 4,7.4 C2.6,8.4 1,8 0,6.6 C-1,8 -2.6,8.4 -4,7.4 C-3,7 -2,6 -1.6,4.4 H-3 V3 H-2.4 C-2.6,1.8 -3.2,.4 -4.4,-.2 C-4.2,.6 -5,1.2 -6,.8 C-8,0 -8,-3.4 -6,-4 C-4,-4.5 -2,-2.5 -1.2,0 C-2.4,-2.5 -2.2,-5.5 0,-8Z" transform="translate(0,11.6) scale(0.86)" fill="#e3bd3a" stroke="#6b4a08" stroke-width="0.47"/><path d="M0,-8 C2.2,-5.5 2.4,-2.5 1.2,0 C2,-2.5 4,-4.5 6,-4 C8,-3.4 8,0 6,.8 C5,1.2 4.2,.6 4.4,-.2 C3.2,.4 2.6,1.8 2.4,3 H3 V4.4 H1.6 C2,6 3,7 4,7.4 C2.6,8.4 1,8 0,6.6 C-1,8 -2.6,8.4 -4,7.4 C-3,7 -2,6 -1.6,4.4 H-3 V3 H-2.4 C-2.6,1.8 -3.2,.4 -4.4,-.2 C-4.2,.6 -5,1.2 -6,.8 C-8,0 -8,-3.4 -6,-4 C-4,-4.5 -2,-2.5 -1.2,0 C-2.4,-2.5 -2.2,-5.5 0,-8Z" transform="translate(25.7,11.6) scale(0.86)" fill="#e3bd3a" stroke="#6b4a08" stroke-width="0.47"/><path d="M-46,67.8 C-36,65.4 -28,65.4 -18,67.8 S-2,70.2 8,67.8 S28,65.4 46,66.84 V110 H-46Z" fill="#c4c6ca" /><path d="M-46,74.2 C-36,71.8 -28,71.8 -18,74.2 S-2,76.6 8,74.2 S28,71.8 46,73.24 V110 H-46Z" fill="#1f5aa8" /><path d="M-46,80.6 C-36,78.2 -28,78.2 -18,80.6 S-2,83 8,80.6 S28,78.2 46,79.64 V110 H-46Z" fill="#d0d2d6" /><path d="M-46,87 C-36,84.6 -28,84.6 -18,87 S-2,89.4 8,87 S28,84.6 46,86.04 V110 H-46Z" fill="#1f5aa8" /><path d="M-46,93.6 C-36,91.2 -28,91.2 -18,93.6 S-2,96 8,93.6 S28,91.2 46,92.64 V110 H-46Z" fill="#c4c6ca" /><path d="M-8.21,-7.62 A11.2,11.2 0 1 0 8.21,-7.62 A8.96,8.96 0 1 1 -8.21,-7.62 Z" transform="translate(-25,40.4) rotate(0)" fill="#e0b634" stroke="#7a5c10" stroke-width="0.5"/><path d="M-8.21,-7.62 A11.2,11.2 0 1 0 8.21,-7.62 A8.96,8.96 0 1 1 -8.21,-7.62 Z" transform="translate(25.7,40.4) rotate(0)" fill="#e0b634" stroke="#7a5c10" stroke-width="0.5"/><path d="M-11.8,68.8 V51.5 L-7.2,48.8 V33 H8.6 V48.8 L12.5,51.5 V68.8 C8,66.5 4,69.5 0,68 C-4,66.5 -8,70 -11.8,68.8Z" fill="#e0b634" stroke="#6b4a08" stroke-width="0.6" /><rect x="-9.2" y="29.4" width="19.7" height="3.8" fill="#e0b634" stroke="#6b4a08" stroke-width="0.5" /><rect x="-9.2" y="25.8" width="2.19" height="3.8" fill="#e0b634" stroke="#6b4a08" stroke-width="0.4" /><rect x="-4.82" y="25.8" width="2.19" height="3.8" fill="#e0b634" stroke="#6b4a08" stroke-width="0.4" /><rect x="-0.44" y="25.8" width="2.19" height="3.8" fill="#e0b634" stroke="#6b4a08" stroke-width="0.4" /><rect x="3.93" y="25.8" width="2.19" height="3.8" fill="#e0b634" stroke="#6b4a08" stroke-width="0.4" /><rect x="8.31" y="25.8" width="2.19" height="3.8" fill="#e0b634" stroke="#6b4a08" stroke-width="0.4" /><circle cx="-3.2" cy="39.5" r="2.1" fill="#111"/><circle cx="4.6" cy="39.5" r="2.1" fill="#111"/><circle cx="-7.4" cy="56.5" r="2.1" fill="#111"/><circle cx="8.4" cy="56.5" r="2.1" fill="#111"/><path d="M-3.8,68.6 v-6.2 a4.2,4.2 0 0 1 8.4,0 v6.2Z" fill="#0c0c0c" /></g><path d="M-45,0H45V56.7A45,45 0 0 1 -45,56.7Z" fill="none" stroke="#5a5a5a" stroke-width="0.8"/><g><path d="M-48.8,-3.2Q0,-13.6 48.8,-3.2L45,0.6H-45Z" fill="#fff"/><path d="M-49.5,-10 L-41,-25.8 h2.2 v1.7 h2.2 v-1.7 h2.2 v1.7 h2.2 v-1.7 h2.2  V-14 H-22 V-29.6 h2 v1.7 h2 v-1.7 h2 v1.7 h2 v-1.7 h2 v1.7 h2 v-1.7 h2  V-14 H8 V-29.6 h2 v1.7 h2 v-1.7 h2 v1.7 h2 v-1.7 h2 v1.7 h2 v-1.7 h2 V-14 H30 V-25.8 h2.2 v1.7 h2.2 v-1.7 h2.2 v1.7 h2.2 v-1.7 h2.2  L49.5,-10 Q0,-20.5 -49.5,-10Z" fill="#989898" stroke="#5a5a5a" stroke-width=".6"/><clipPath id="cw5"><path d="M-49.5,-10 L-41,-25.8 h2.2 v1.7 h2.2 v-1.7 h2.2 v1.7 h2.2 v-1.7 h2.2  V-14 H-22 V-29.6 h2 v1.7 h2 v-1.7 h2 v1.7 h2 v-1.7 h2 v1.7 h2 v-1.7 h2  V-14 H8 V-29.6 h2 v1.7 h2 v-1.7 h2 v1.7 h2 v-1.7 h2 v1.7 h2 v-1.7 h2 V-14 H30 V-25.8 h2.2 v1.7 h2.2 v-1.7 h2.2 v1.7 h2.2 v-1.7 h2.2  L49.5,-10 Q0,-20.5 -49.5,-10Z"/></clipPath><path d="M-45,-20.8 Q0,-31.2 45,-20.8 M-45,-18 Q0,-28.4 45,-18 M-45,-15.2 Q0,-25.6 45,-15.2 M-45,-12.4 Q0,-22.8 45,-12.4 M-45,-9.6 Q0,-20 45,-9.6 M-44,-12 v-20 M-40.7,-12 v-20 M-39.6,-12 v-20 M-36.3,-12 v-20 M-35.2,-12 v-20 M-31.9,-12 v-20 M-30.8,-12 v-20 M-27.5,-12 v-20 M-26.4,-12 v-20 M-23.1,-12 v-20 M-22,-12 v-20 M-18.7,-12 v-20 M-17.6,-12 v-20 M-14.3,-12 v-20 M-13.2,-12 v-20 M-9.9,-12 v-20 M-8.8,-12 v-20 M-5.5,-12 v-20 M-4.4,-12 v-20 M-1.1,-12 v-20 M0,-12 v-20 M3.3,-12 v-20 M4.4,-12 v-20 M7.7,-12 v-20 M8.8,-12 v-20 M12.1,-12 v-20 M13.2,-12 v-20 M16.5,-12 v-20 M17.6,-12 v-20 M20.9,-12 v-20 M22,-12 v-20 M25.3,-12 v-20 M26.4,-12 v-20 M29.7,-12 v-20 M30.8,-12 v-20 M34.1,-12 v-20 M35.2,-12 v-20 M38.5,-12 v-20 M39.6,-12 v-20 M42.9,-12 v-20 M44,-12 v-20 " fill="none" stroke="#6c6c6c" stroke-width=".5" clip-path="url(#cw5)"/><path d="M-49.8,-10.4 Q0,-21 49.8,-10.4 L48.9,-3.1 Q0,-13.6 -48.9,-3.1Z" fill="#acacac" stroke="#4e4e4e" stroke-width=".7"/><path d="M-49.4,-8.0 Q0,-18.5 49.4,-8.0" fill="none" stroke="#e4e4e4" stroke-width="1.4"/><path d="M-49.1,-5.4 Q0,-15.9 49.1,-5.4" fill="none" stroke="#747474" stroke-width="1"/><g transform="translate(-44,-12) scale(.84) translate(44,12)"><polygon points="-48.9,-8.2 -56,-24.5 -44.2,-29.4 -38,-13.6" fill="#a2a2a2" stroke="#505050" stroke-width=".6"/><polygon points="-60.6,-27.4 -59.2,-32.6 -56.2,-33.8 -55.4,-31.7 -53.1,-32.6 -53.9,-34.7 -50.9,-35.9 -50.1,-33.8 -47.8,-34.7 -48.6,-36.8 -45.6,-38 -42.6,-33 -43.6,-29.8 -56.4,-23.6" fill="#bcbcbc" stroke="#4c4c4c" stroke-width=".6"/><polygon points="-49.6,-14.6 -52.4,-21.2 -49.4,-22.4 -46.4,-16" fill="#3c3c3c"/><polygon points="-55.6,-26.4 -44.6,-31 -44,-29.6 -55,-25" fill="#4a4a4a"/></g><g transform="translate(44,-12) scale(.84) translate(-44,12)"><polygon points="48.9,-8.2 56,-24.5 44.2,-29.4 38,-13.6" fill="#a2a2a2" stroke="#505050" stroke-width=".6"/><polygon points="60.6,-27.4 59.2,-32.6 56.2,-33.8 55.4,-31.7 53.1,-32.6 53.9,-34.7 50.9,-35.9 50.1,-33.8 47.8,-34.7 48.6,-36.8 45.6,-38 42.6,-33 43.6,-29.8 56.4,-23.6" fill="#bcbcbc" stroke="#4c4c4c" stroke-width=".6"/><polygon points="49.6,-14.6 52.4,-21.2 49.4,-22.4 46.4,-16" fill="#3c3c3c"/><polygon points="55.6,-26.4 44.6,-31 44,-29.6 55,-25" fill="#4a4a4a"/></g><g transform="translate(-23.4,-1.2) rotate(-8) scale(.9)"><path d="M-9.6,-15 L-7.4,-36 H7.4 L9.6,-15Z" fill="#a6a6a6" stroke="#505050" stroke-width=".6"/><path d="M-10.8,-36 V-42.2 h3.3 v2.2 h2.8 v-2.2 h3.3 v2.2 h2.8 v-2.2 h3.3 v2.2 h2.8 v-2.2 h3.3 V-36Z" fill="#bababa" stroke="#4c4c4c" stroke-width=".6"/><rect x="-10.8" y="-37.8" width="21.6" height="1.6" fill="#6e6e6e"/><path d="M-3.6,-16.5 v-8 a3.6,4 0 0 1 7.2,0 v8Z" fill="#4e4e4e"/><path d="M-1.6,-16.8 v-7 a2.3,2.8 0 0 1 4.6,0 v7Z" fill="#cfcfcf"/><path d="M-1,-19h3.4M-1,-21.4h3.4M-0.8,-23.6h3" stroke="#777" stroke-width=".6" fill="none"/><rect x="-5" y="-34.2" width="1.7" height="3.4" fill="#222"/><rect x="3.3" y="-34.2" width="1.7" height="3.4" fill="#222"/></g><g transform="translate(23.4,-1.2) rotate(8) scale(.9)"><path d="M-9.6,-15 L-7.4,-36 H7.4 L9.6,-15Z" fill="#a6a6a6" stroke="#505050" stroke-width=".6"/><path d="M-10.8,-36 V-42.2 h3.3 v2.2 h2.8 v-2.2 h3.3 v2.2 h2.8 v-2.2 h3.3 v2.2 h2.8 v-2.2 h3.3 V-36Z" fill="#bababa" stroke="#4c4c4c" stroke-width=".6"/><rect x="-10.8" y="-37.8" width="21.6" height="1.6" fill="#6e6e6e"/><path d="M-3.6,-16.5 v-8 a3.6,4 0 0 1 7.2,0 v8Z" fill="#4e4e4e"/><path d="M-1.6,-16.8 v-7 a2.3,2.8 0 0 1 4.6,0 v7Z" fill="#cfcfcf"/><path d="M-1,-19h3.4M-1,-21.4h3.4M-0.8,-23.6h3" stroke="#777" stroke-width=".6" fill="none"/><rect x="-5" y="-34.2" width="1.7" height="3.4" fill="#222"/><rect x="3.3" y="-34.2" width="1.7" height="3.4" fill="#222"/></g><g transform="translate(0,-2.2) scale(.94)"><path d="M-9.6,-15 L-7.4,-36 H7.4 L9.6,-15Z" fill="#a6a6a6" stroke="#505050" stroke-width=".6"/><path d="M-10.8,-36 V-42.2 h3.3 v2.2 h2.8 v-2.2 h3.3 v2.2 h2.8 v-2.2 h3.3 v2.2 h2.8 v-2.2 h3.3 V-36Z" fill="#bababa" stroke="#4c4c4c" stroke-width=".6"/><rect x="-10.8" y="-37.8" width="21.6" height="1.6" fill="#6e6e6e"/><path d="M-3.6,-16.5 v-8 a3.6,4 0 0 1 7.2,0 v8Z" fill="#4e4e4e"/><path d="M-1.6,-16.8 v-7 a2.3,2.8 0 0 1 4.6,0 v7Z" fill="#cfcfcf"/><path d="M-1,-19h3.4M-1,-21.4h3.4M-0.8,-23.6h3" stroke="#777" stroke-width=".6" fill="none"/><rect x="-5" y="-34.2" width="1.7" height="3.4" fill="#222"/><rect x="3.3" y="-34.2" width="1.7" height="3.4" fill="#222"/></g></g></g><path id="t2" d="M-28.31,123.54 A44.5,44.5 0 0 0 28.31,123.54" fill="none"/><text font-family="'Liberation Sans',sans-serif" font-size="12.2" font-weight="700" fill="#0c0c0c" text-anchor="middle" word-spacing="0"><textPath href="#t2" startOffset="50%" textLength="45.82" lengthAdjust="spacingAndGlyphs">ALCOBAÇA</textPath></text></g></svg>
<svg class="coa" style="left:424.9px;top:2038.2px" width="210" height="250" viewBox="-105 -65 210 250"><g transform="scale(1)"><path d="M-32.2,0 H32.2 V88.8 A32.2,32.2 0 0 1 -32.2,88.8Z" fill="#d8202a" stroke="#111" stroke-width="1.1" /><path d="M-18.5,13.2 H18.5 V89 A18.5,18.5 0 0 1 -18.5,89Z" fill="#fff" stroke="#111" stroke-width="0.7" /><rect x="-5.9" y="13.2" width="11.8" height="95.2" fill="#d8202a" stroke="#111" stroke-width="0.6" /><path d="M-13.7,29.9 h3 v10 l-1.5,2.6 l-1.5,-2.6Z" fill="#151515" /><path d="M-13.7,77.5 h3 v10 l-1.5,2.6 l-1.5,-2.6Z" fill="#151515" /><rect x="-18.4" y="53.2" width="12.2" height="15.2" fill="#2a2a2a" /><path d="M-17.4,53.2 v15.2 M-15.35,53.2 v15.2 M-13.3,53.2 v15.2 M-11.25,53.2 v15.2 M-9.2,53.2 v15.2 M-7.15,53.2 v15.2" fill="none" stroke="#fff" stroke-width="0.55" /><path d="M-18.4,60.6 h12.2" fill="none" stroke="#fff" stroke-width="0.5" /><path d="M10.7,29.9 h3 v10 l-1.5,2.6 l-1.5,-2.6Z" fill="#151515" /><path d="M10.7,77.5 h3 v10 l-1.5,2.6 l-1.5,-2.6Z" fill="#151515" /><rect x="6" y="53.2" width="12.2" height="15.2" fill="#2a2a2a" /><path d="M7,53.2 v15.2 M9.05,53.2 v15.2 M11.1,53.2 v15.2 M13.15,53.2 v15.2 M15.2,53.2 v15.2 M17.25,53.2 v15.2" fill="none" stroke="#fff" stroke-width="0.55" /><path d="M6,60.6 h12.2" fill="none" stroke="#fff" stroke-width="0.5" /><rect x="6.8" y="14.2" width="11.2" height="8.6" fill="#222" /><path d="M7.7,14.2 v8.6 M9.56,14.2 v8.6 M11.42,14.2 v8.6 M13.28,14.2 v8.6 M15.14,14.2 v8.6 M17,14.2 v8.6 M6.8,17 h11.2 M6.8,20 h11.2" fill="none" stroke="#fff" stroke-width="0.45" /><g transform="translate(-25.1,12.2) rotate(0) scale(1)"><path d="M-4,7 V1.5 H-2.6 V-2 H-3.6 V-4.6 H-2.4 V-3.6 H-1.2 V-4.6 H-.4 V-7 H-1.6 V-4.6 H-.4 M-4,7 H4 V1.5 H2.6 V-2 H3.6 V-4.6 H2.4 V-3.6 H1.2 V-4.6 H-1.2" fill="none" /><polygon points="-4.2,7 -4.2,2 -2.8,2 -2.8,-1 -3.8,-1 -3.8,-4 -2.6,-4 -2.6,-3 -1.6,-3 -1.6,-4 -1.2,-4 -1.2,-7 -0.4,-7 -0.4,-6 0.4,-6 0.4,-7 1.2,-7 1.2,-4 1.6,-4 1.6,-3 2.6,-3 2.6,-4 3.8,-4 3.8,-1 2.8,-1 2.8,2 4.2,2 4.2,7" fill="#f0d21c" stroke="#3a2a00" stroke-width="0.45" /><path d="M-2.8,2 H2.8 M-2.8,-1 H2.8 M-4.2,4.4 H4.2 M0,2 V7 M-1.4,-1 V2 M1.4,-1 V2" fill="none" stroke="#3a2a00" stroke-width="0.4" /></g><g transform="translate(-25.1,41) rotate(0) scale(1)"><path d="M-4,7 V1.5 H-2.6 V-2 H-3.6 V-4.6 H-2.4 V-3.6 H-1.2 V-4.6 H-.4 V-7 H-1.6 V-4.6 H-.4 M-4,7 H4 V1.5 H2.6 V-2 H3.6 V-4.6 H2.4 V-3.6 H1.2 V-4.6 H-1.2" fill="none" /><polygon points="-4.2,7 -4.2,2 -2.8,2 -2.8,-1 -3.8,-1 -3.8,-4 -2.6,-4 -2.6,-3 -1.6,-3 -1.6,-4 -1.2,-4 -1.2,-7 -0.4,-7 -0.4,-6 0.4,-6 0.4,-7 1.2,-7 1.2,-4 1.6,-4 1.6,-3 2.6,-3 2.6,-4 3.8,-4 3.8,-1 2.8,-1 2.8,2 4.2,2 4.2,7" fill="#f0d21c" stroke="#3a2a00" stroke-width="0.45" /><path d="M-2.8,2 H2.8 M-2.8,-1 H2.8 M-4.2,4.4 H4.2 M0,2 V7 M-1.4,-1 V2 M1.4,-1 V2" fill="none" stroke="#3a2a00" stroke-width="0.4" /></g><g transform="translate(-25.1,70.4) rotate(0) scale(1)"><path d="M-4,7 V1.5 H-2.6 V-2 H-3.6 V-4.6 H-2.4 V-3.6 H-1.2 V-4.6 H-.4 V-7 H-1.6 V-4.6 H-.4 M-4,7 H4 V1.5 H2.6 V-2 H3.6 V-4.6 H2.4 V-3.6 H1.2 V-4.6 H-1.2" fill="none" /><polygon points="-4.2,7 -4.2,2 -2.8,2 -2.8,-1 -3.8,-1 -3.8,-4 -2.6,-4 -2.6,-3 -1.6,-3 -1.6,-4 -1.2,-4 -1.2,-7 -0.4,-7 -0.4,-6 0.4,-6 0.4,-7 1.2,-7 1.2,-4 1.6,-4 1.6,-3 2.6,-3 2.6,-4 3.8,-4 3.8,-1 2.8,-1 2.8,2 4.2,2 4.2,7" fill="#f0d21c" stroke="#3a2a00" stroke-width="0.45" /><path d="M-2.8,2 H2.8 M-2.8,-1 H2.8 M-4.2,4.4 H4.2 M0,2 V7 M-1.4,-1 V2 M1.4,-1 V2" fill="none" stroke="#3a2a00" stroke-width="0.4" /></g><g transform="translate(-22,102.6) rotate(45) scale(1)"><path d="M-4,7 V1.5 H-2.6 V-2 H-3.6 V-4.6 H-2.4 V-3.6 H-1.2 V-4.6 H-.4 V-7 H-1.6 V-4.6 H-.4 M-4,7 H4 V1.5 H2.6 V-2 H3.6 V-4.6 H2.4 V-3.6 H1.2 V-4.6 H-1.2" fill="none" /><polygon points="-4.2,7 -4.2,2 -2.8,2 -2.8,-1 -3.8,-1 -3.8,-4 -2.6,-4 -2.6,-3 -1.6,-3 -1.6,-4 -1.2,-4 -1.2,-7 -0.4,-7 -0.4,-6 0.4,-6 0.4,-7 1.2,-7 1.2,-4 1.6,-4 1.6,-3 2.6,-3 2.6,-4 3.8,-4 3.8,-1 2.8,-1 2.8,2 4.2,2 4.2,7" fill="#f0d21c" stroke="#3a2a00" stroke-width="0.45" /><path d="M-2.8,2 H2.8 M-2.8,-1 H2.8 M-4.2,4.4 H4.2 M0,2 V7 M-1.4,-1 V2 M1.4,-1 V2" fill="none" stroke="#3a2a00" stroke-width="0.4" /></g><g transform="translate(0,11.6) rotate(0) scale(1)"><path d="M-4,7 V1.5 H-2.6 V-2 H-3.6 V-4.6 H-2.4 V-3.6 H-1.2 V-4.6 H-.4 V-7 H-1.6 V-4.6 H-.4 M-4,7 H4 V1.5 H2.6 V-2 H3.6 V-4.6 H2.4 V-3.6 H1.2 V-4.6 H-1.2" fill="none" /><polygon points="-4.2,7 -4.2,2 -2.8,2 -2.8,-1 -3.8,-1 -3.8,-4 -2.6,-4 -2.6,-3 -1.6,-3 -1.6,-4 -1.2,-4 -1.2,-7 -0.4,-7 -0.4,-6 0.4,-6 0.4,-7 1.2,-7 1.2,-4 1.6,-4 1.6,-3 2.6,-3 2.6,-4 3.8,-4 3.8,-1 2.8,-1 2.8,2 4.2,2 4.2,7" fill="#f0d21c" stroke="#3a2a00" stroke-width="0.45" /><path d="M-2.8,2 H2.8 M-2.8,-1 H2.8 M-4.2,4.4 H4.2 M0,2 V7 M-1.4,-1 V2 M1.4,-1 V2" fill="none" stroke="#3a2a00" stroke-width="0.4" /></g><g transform="translate(0,36) rotate(0) scale(1)"><path d="M-4,7 V1.5 H-2.6 V-2 H-3.6 V-4.6 H-2.4 V-3.6 H-1.2 V-4.6 H-.4 V-7 H-1.6 V-4.6 H-.4 M-4,7 H4 V1.5 H2.6 V-2 H3.6 V-4.6 H2.4 V-3.6 H1.2 V-4.6 H-1.2" fill="none" /><polygon points="-4.2,7 -4.2,2 -2.8,2 -2.8,-1 -3.8,-1 -3.8,-4 -2.6,-4 -2.6,-3 -1.6,-3 -1.6,-4 -1.2,-4 -1.2,-7 -0.4,-7 -0.4,-6 0.4,-6 0.4,-7 1.2,-7 1.2,-4 1.6,-4 1.6,-3 2.6,-3 2.6,-4 3.8,-4 3.8,-1 2.8,-1 2.8,2 4.2,2 4.2,7" fill="#f0d21c" stroke="#3a2a00" stroke-width="0.45" /><path d="M-2.8,2 H2.8 M-2.8,-1 H2.8 M-4.2,4.4 H4.2 M0,2 V7 M-1.4,-1 V2 M1.4,-1 V2" fill="none" stroke="#3a2a00" stroke-width="0.4" /></g><g transform="translate(0,59.3) rotate(0) scale(1)"><path d="M-4,7 V1.5 H-2.6 V-2 H-3.6 V-4.6 H-2.4 V-3.6 H-1.2 V-4.6 H-.4 V-7 H-1.6 V-4.6 H-.4 M-4,7 H4 V1.5 H2.6 V-2 H3.6 V-4.6 H2.4 V-3.6 H1.2 V-4.6 H-1.2" fill="none" /><polygon points="-4.2,7 -4.2,2 -2.8,2 -2.8,-1 -3.8,-1 -3.8,-4 -2.6,-4 -2.6,-3 -1.6,-3 -1.6,-4 -1.2,-4 -1.2,-7 -0.4,-7 -0.4,-6 0.4,-6 0.4,-7 1.2,-7 1.2,-4 1.6,-4 1.6,-3 2.6,-3 2.6,-4 3.8,-4 3.8,-1 2.8,-1 2.8,2 4.2,2 4.2,7" fill="#f0d21c" stroke="#3a2a00" stroke-width="0.45" /><path d="M-2.8,2 H2.8 M-2.8,-1 H2.8 M-4.2,4.4 H4.2 M0,2 V7 M-1.4,-1 V2 M1.4,-1 V2" fill="none" stroke="#3a2a00" stroke-width="0.4" /></g><g transform="translate(0,83.6) rotate(0) scale(1)"><path d="M-4,7 V1.5 H-2.6 V-2 H-3.6 V-4.6 H-2.4 V-3.6 H-1.2 V-4.6 H-.4 V-7 H-1.6 V-4.6 H-.4 M-4,7 H4 V1.5 H2.6 V-2 H3.6 V-4.6 H2.4 V-3.6 H1.2 V-4.6 H-1.2" fill="none" /><polygon points="-4.2,7 -4.2,2 -2.8,2 -2.8,-1 -3.8,-1 -3.8,-4 -2.6,-4 -2.6,-3 -1.6,-3 -1.6,-4 -1.2,-4 -1.2,-7 -0.4,-7 -0.4,-6 0.4,-6 0.4,-7 1.2,-7 1.2,-4 1.6,-4 1.6,-3 2.6,-3 2.6,-4 3.8,-4 3.8,-1 2.8,-1 2.8,2 4.2,2 4.2,7" fill="#f0d21c" stroke="#3a2a00" stroke-width="0.45" /><path d="M-2.8,2 H2.8 M-2.8,-1 H2.8 M-4.2,4.4 H4.2 M0,2 V7 M-1.4,-1 V2 M1.4,-1 V2" fill="none" stroke="#3a2a00" stroke-width="0.4" /></g><g transform="translate(0,110.6) rotate(0) scale(1)"><path d="M-4,7 V1.5 H-2.6 V-2 H-3.6 V-4.6 H-2.4 V-3.6 H-1.2 V-4.6 H-.4 V-7 H-1.6 V-4.6 H-.4 M-4,7 H4 V1.5 H2.6 V-2 H3.6 V-4.6 H2.4 V-3.6 H1.2 V-4.6 H-1.2" fill="none" /><polygon points="-4.2,7 -4.2,2 -2.8,2 -2.8,-1 -3.8,-1 -3.8,-4 -2.6,-4 -2.6,-3 -1.6,-3 -1.6,-4 -1.2,-4 -1.2,-7 -0.4,-7 -0.4,-6 0.4,-6 0.4,-7 1.2,-7 1.2,-4 1.6,-4 1.6,-3 2.6,-3 2.6,-4 3.8,-4 3.8,-1 2.8,-1 2.8,2 4.2,2 4.2,7" fill="#f0d21c" stroke="#3a2a00" stroke-width="0.45" /><path d="M-2.8,2 H2.8 M-2.8,-1 H2.8 M-4.2,4.4 H4.2 M0,2 V7 M-1.4,-1 V2 M1.4,-1 V2" fill="none" stroke="#3a2a00" stroke-width="0.4" /></g><g transform="translate(25.1,12.2) rotate(0) scale(1)"><path d="M-4,7 V1.5 H-2.6 V-2 H-3.6 V-4.6 H-2.4 V-3.6 H-1.2 V-4.6 H-.4 V-7 H-1.6 V-4.6 H-.4 M-4,7 H4 V1.5 H2.6 V-2 H3.6 V-4.6 H2.4 V-3.6 H1.2 V-4.6 H-1.2" fill="none" /><polygon points="-4.2,7 -4.2,2 -2.8,2 -2.8,-1 -3.8,-1 -3.8,-4 -2.6,-4 -2.6,-3 -1.6,-3 -1.6,-4 -1.2,-4 -1.2,-7 -0.4,-7 -0.4,-6 0.4,-6 0.4,-7 1.2,-7 1.2,-4 1.6,-4 1.6,-3 2.6,-3 2.6,-4 3.8,-4 3.8,-1 2.8,-1 2.8,2 4.2,2 4.2,7" fill="#f0d21c" stroke="#3a2a00" stroke-width="0.45" /><path d="M-2.8,2 H2.8 M-2.8,-1 H2.8 M-4.2,4.4 H4.2 M0,2 V7 M-1.4,-1 V2 M1.4,-1 V2" fill="none" stroke="#3a2a00" stroke-width="0.4" /></g><g transform="translate(25.1,41) rotate(0) scale(1)"><path d="M-4,7 V1.5 H-2.6 V-2 H-3.6 V-4.6 H-2.4 V-3.6 H-1.2 V-4.6 H-.4 V-7 H-1.6 V-4.6 H-.4 M-4,7 H4 V1.5 H2.6 V-2 H3.6 V-4.6 H2.4 V-3.6 H1.2 V-4.6 H-1.2" fill="none" /><polygon points="-4.2,7 -4.2,2 -2.8,2 -2.8,-1 -3.8,-1 -3.8,-4 -2.6,-4 -2.6,-3 -1.6,-3 -1.6,-4 -1.2,-4 -1.2,-7 -0.4,-7 -0.4,-6 0.4,-6 0.4,-7 1.2,-7 1.2,-4 1.6,-4 1.6,-3 2.6,-3 2.6,-4 3.8,-4 3.8,-1 2.8,-1 2.8,2 4.2,2 4.2,7" fill="#f0d21c" stroke="#3a2a00" stroke-width="0.45" /><path d="M-2.8,2 H2.8 M-2.8,-1 H2.8 M-4.2,4.4 H4.2 M0,2 V7 M-1.4,-1 V2 M1.4,-1 V2" fill="none" stroke="#3a2a00" stroke-width="0.4" /></g><g transform="translate(25.1,70.4) rotate(0) scale(1)"><path d="M-4,7 V1.5 H-2.6 V-2 H-3.6 V-4.6 H-2.4 V-3.6 H-1.2 V-4.6 H-.4 V-7 H-1.6 V-4.6 H-.4 M-4,7 H4 V1.5 H2.6 V-2 H3.6 V-4.6 H2.4 V-3.6 H1.2 V-4.6 H-1.2" fill="none" /><polygon points="-4.2,7 -4.2,2 -2.8,2 -2.8,-1 -3.8,-1 -3.8,-4 -2.6,-4 -2.6,-3 -1.6,-3 -1.6,-4 -1.2,-4 -1.2,-7 -0.4,-7 -0.4,-6 0.4,-6 0.4,-7 1.2,-7 1.2,-4 1.6,-4 1.6,-3 2.6,-3 2.6,-4 3.8,-4 3.8,-1 2.8,-1 2.8,2 4.2,2 4.2,7" fill="#f0d21c" stroke="#3a2a00" stroke-width="0.45" /><path d="M-2.8,2 H2.8 M-2.8,-1 H2.8 M-4.2,4.4 H4.2 M0,2 V7 M-1.4,-1 V2 M1.4,-1 V2" fill="none" stroke="#3a2a00" stroke-width="0.4" /></g><g transform="translate(22.5,102.6) rotate(-45) scale(1)"><path d="M-4,7 V1.5 H-2.6 V-2 H-3.6 V-4.6 H-2.4 V-3.6 H-1.2 V-4.6 H-.4 V-7 H-1.6 V-4.6 H-.4 M-4,7 H4 V1.5 H2.6 V-2 H3.6 V-4.6 H2.4 V-3.6 H1.2 V-4.6 H-1.2" fill="none" /><polygon points="-4.2,7 -4.2,2 -2.8,2 -2.8,-1 -3.8,-1 -3.8,-4 -2.6,-4 -2.6,-3 -1.6,-3 -1.6,-4 -1.2,-4 -1.2,-7 -0.4,-7 -0.4,-6 0.4,-6 0.4,-7 1.2,-7 1.2,-4 1.6,-4 1.6,-3 2.6,-3 2.6,-4 3.8,-4 3.8,-1 2.8,-1 2.8,2 4.2,2 4.2,7" fill="#f0d21c" stroke="#3a2a00" stroke-width="0.45" /><path d="M-2.8,2 H2.8 M-2.8,-1 H2.8 M-4.2,4.4 H4.2 M0,2 V7 M-1.4,-1 V2 M1.4,-1 V2" fill="none" stroke="#3a2a00" stroke-width="0.4" /></g><g id="crw"><path d="M-34.7,-8.6 L-39.5,-13.5 C-43,-14 -46,-16.5 -46.6,-19.8 C-44,-21.6 -40.5,-21.4 -38.6,-19.4 C-37.6,-21 -35.4,-21.2 -34.4,-19.6 C-33.6,-17.6 -33,-15.6 -31,-14.6 C-28.5,-15.6 -26.6,-17.8 -25.6,-20.4 C-27.2,-21 -27.4,-23 -25.8,-23.8 C-24.2,-23.6 -23,-24.6 -22.6,-26 C-21.4,-27.6 -19,-27.6 -17.6,-26 C-17.2,-24.6 -16,-23.6 -14.4,-23.8 C-12.8,-23 -13,-21 -14.6,-20.4 C-14.2,-18 -13.2,-16.4 -11.6,-15.4 L-12.4,-20.6 C-13.4,-22 -12.4,-23.8 -10.8,-23.6 C-9.4,-23.4 -8.8,-21.6 -9.8,-20.6 L-8.6,-15.4 C-6.6,-16.6 -5.4,-19.4 -5.2,-22.4 C-7,-23.2 -7.2,-25.6 -5.4,-26.4 C-3.6,-26.4 -2.6,-27.8 -2.6,-29.4 C-2,-31.6 -.8,-32.6 0,-33 L0,-8 Z" fill="#e9d31e" stroke="#1a1400" stroke-width="0.9" /><g transform="scale(-1,1)"><path d="M-34.7,-8.6 L-39.5,-13.5 C-43,-14 -46,-16.5 -46.6,-19.8 C-44,-21.6 -40.5,-21.4 -38.6,-19.4 C-37.6,-21 -35.4,-21.2 -34.4,-19.6 C-33.6,-17.6 -33,-15.6 -31,-14.6 C-28.5,-15.6 -26.6,-17.8 -25.6,-20.4 C-27.2,-21 -27.4,-23 -25.8,-23.8 C-24.2,-23.6 -23,-24.6 -22.6,-26 C-21.4,-27.6 -19,-27.6 -17.6,-26 C-17.2,-24.6 -16,-23.6 -14.4,-23.8 C-12.8,-23 -13,-21 -14.6,-20.4 C-14.2,-18 -13.2,-16.4 -11.6,-15.4 L-12.4,-20.6 C-13.4,-22 -12.4,-23.8 -10.8,-23.6 C-9.4,-23.4 -8.8,-21.6 -9.8,-20.6 L-8.6,-15.4 C-6.6,-16.6 -5.4,-19.4 -5.2,-22.4 C-7,-23.2 -7.2,-25.6 -5.4,-26.4 C-3.6,-26.4 -2.6,-27.8 -2.6,-29.4 C-2,-31.6 -.8,-32.6 0,-33 L0,-8 Z" fill="#e9d31e" stroke="#1a1400" stroke-width="0.9" /></g><path d="M0,-33 V-8" fill="none" stroke="#e9d31e" stroke-width="1.4" /></g><path d="M-34.9,-8.8 Q0,-17 35.2,-8.8 L32.4,-1.4 Q0,-9.8 -32,-1.4Z" fill="#e9d31e" stroke="#1a1400" stroke-width="0.9" /><path d="M-34,-6.4 Q0,-14.6 34.2,-6.4" fill="none" stroke="#f7f2c2" stroke-width="1.2" /><rect x="-30.4" y="-7.76" width="3.2" height="2.6" fill="#5a4a00" stroke="#1a1400" stroke-width="0.3" /><rect x="-23.2" y="-9.05" width="3.2" height="2.6" fill="#8a7a10" stroke="#1a1400" stroke-width="0.3" /><rect x="-16" y="-9.96" width="3.2" height="2.6" fill="#5a4a00" stroke="#1a1400" stroke-width="0.3" /><rect x="-8.8" y="-10.52" width="3.2" height="2.6" fill="#8a7a10" stroke="#1a1400" stroke-width="0.3" /><rect x="-1.6" y="-10.7" width="3.2" height="2.6" fill="#5a4a00" stroke="#1a1400" stroke-width="0.3" /><rect x="5.6" y="-10.52" width="3.2" height="2.6" fill="#8a7a10" stroke="#1a1400" stroke-width="0.3" /><rect x="12.8" y="-9.96" width="3.2" height="2.6" fill="#5a4a00" stroke="#1a1400" stroke-width="0.3" /><rect x="20" y="-9.05" width="3.2" height="2.6" fill="#8a7a10" stroke="#1a1400" stroke-width="0.3" /><rect x="27.2" y="-7.76" width="3.2" height="2.6" fill="#5a4a00" stroke="#1a1400" stroke-width="0.3" /><circle cx="0" cy="-28.5" r="1.1" fill="#3a2a00"/><circle cx="-20" cy="-23" r="1.1" fill="#3a2a00"/><circle cx="20" cy="-23" r="1.1" fill="#3a2a00"/><path d="M-68.6,65.6 H-33.4 C-34,73.5 -41.5,78.5 -51,78.5 C-60.5,78.5 -68,73.5 -68.6,65.6Z" fill="#1a1a1a" stroke="#111" stroke-width="0.8" /><path d="M-66,68.6 H-36 M-63.4,71.8 H-38.6 M-59,75 H-43 M-62,65.6 C-61,70 -59,75 -56,78 M-56,65.6 C-55.6,70 -54.6,75 -53.4,78.4 M-51,65.6 V78.5 M-46,65.6 C-46.4,70 -47.4,75 -48.6,78.4 M-40,65.6 C-41,70 -43,75 -46,78" fill="none" stroke="#f4f4f4" stroke-width="0.6" /><path d="M-69.6,64 C-72,54 -71,43 -64.5,38.2 C-61,36.6 -57.5,38.6 -56,42.5 C-55,37 -55.6,31 -52.4,27.6 C-49.4,25 -45.6,27 -45.2,31 C-44.8,36 -47.2,40.5 -46.4,44.6 C-44.6,40 -40.6,37.2 -37,39 C-32.6,43 -32.4,55 -34.2,63.4 C-36.6,60 -39.6,57.6 -42.2,57.2 C-44,60 -46.4,62.4 -48.4,65.4 H-54 C-56,62.4 -58.6,60 -60.6,57.2 C-63.6,57.6 -67,60 -69.6,64Z" fill="#fff" stroke="#111" stroke-width="1.0" /><path d="M-52.6,30.4 C-51.4,28.6 -48.8,29 -48.4,31.4 C-48.2,35.4 -50.6,39.4 -49.6,43.6 C-49.2,46 -48.4,48 -48.8,50.4" fill="none" stroke="#111" stroke-width="0.8" /><path d="M-66,60 v-6 M-64,58 v-6.6 M-62,57 v-6 M-40.4,57.4 v-6.6 M-38.4,58.4 v-6.6 M-36.6,60 v-6 M-56,65 l1.6,-7 M-53,65 l.6,-9 M-50,65 l-.4,-9 M-47,65 l-1.6,-7 M-58.6,64 l2,-5 M-44.6,64 l-2,-5" fill="none" stroke="#111" stroke-width="0.7" /><path d="M33.7,58.4 H69.1 C68.6,70 61,77.5 51.4,77.5 C41.8,77.5 34.2,70 33.7,58.4Z" fill="#171717" stroke="#111" stroke-width="0.8" /><circle cx="35.6" cy="60.6" r="0.95" fill="#fff"/><circle cx="38.8" cy="60.6" r="0.95" fill="#fff"/><circle cx="42" cy="60.6" r="0.95" fill="#fff"/><circle cx="45.2" cy="60.6" r="0.95" fill="#fff"/><circle cx="48.4" cy="60.6" r="0.95" fill="#fff"/><circle cx="51.6" cy="60.6" r="0.95" fill="#fff"/><circle cx="54.8" cy="60.6" r="0.95" fill="#fff"/><circle cx="58" cy="60.6" r="0.95" fill="#fff"/><circle cx="61.2" cy="60.6" r="0.95" fill="#fff"/><circle cx="64.4" cy="60.6" r="0.95" fill="#fff"/><circle cx="37.2" cy="63.6" r="0.95" fill="#fff"/><circle cx="40.4" cy="63.6" r="0.95" fill="#fff"/><circle cx="43.6" cy="63.6" r="0.95" fill="#fff"/><circle cx="46.8" cy="63.6" r="0.95" fill="#fff"/><circle cx="50" cy="63.6" r="0.95" fill="#fff"/><circle cx="53.2" cy="63.6" r="0.95" fill="#fff"/><circle cx="56.4" cy="63.6" r="0.95" fill="#fff"/><circle cx="59.6" cy="63.6" r="0.95" fill="#fff"/><circle cx="62.8" cy="63.6" r="0.95" fill="#fff"/><circle cx="66" cy="63.6" r="0.95" fill="#fff"/><circle cx="38.8" cy="66.6" r="0.95" fill="#fff"/><circle cx="42" cy="66.6" r="0.95" fill="#fff"/><circle cx="45.2" cy="66.6" r="0.95" fill="#fff"/><circle cx="48.4" cy="66.6" r="0.95" fill="#fff"/><circle cx="51.6" cy="66.6" r="0.95" fill="#fff"/><circle cx="54.8" cy="66.6" r="0.95" fill="#fff"/><circle cx="58" cy="66.6" r="0.95" fill="#fff"/><circle cx="61.2" cy="66.6" r="0.95" fill="#fff"/><circle cx="64.4" cy="66.6" r="0.95" fill="#fff"/><circle cx="40.4" cy="69.6" r="0.95" fill="#fff"/><circle cx="43.6" cy="69.6" r="0.95" fill="#fff"/><circle cx="46.8" cy="69.6" r="0.95" fill="#fff"/><circle cx="50" cy="69.6" r="0.95" fill="#fff"/><circle cx="53.2" cy="69.6" r="0.95" fill="#fff"/><circle cx="56.4" cy="69.6" r="0.95" fill="#fff"/><circle cx="59.6" cy="69.6" r="0.95" fill="#fff"/><circle cx="62.8" cy="69.6" r="0.95" fill="#fff"/><circle cx="42" cy="72.6" r="0.95" fill="#fff"/><circle cx="45.2" cy="72.6" r="0.95" fill="#fff"/><circle cx="48.4" cy="72.6" r="0.95" fill="#fff"/><circle cx="51.6" cy="72.6" r="0.95" fill="#fff"/><circle cx="54.8" cy="72.6" r="0.95" fill="#fff"/><circle cx="58" cy="72.6" r="0.95" fill="#fff"/><circle cx="50" cy="75.6" r="0.95" fill="#fff"/><circle cx="53.2" cy="75.6" r="0.95" fill="#fff"/><path d="M51.4,29.4 L41.8,43.6 M51.4,29.4 V43.6 M51.4,29.4 L60,43.6 M41.4,47.4 L34.6,58.2 M51.4,47.6 V58.2 M60.6,47.4 L68.4,58.2" fill="none" stroke="#111" stroke-width="0.8" /><circle cx="51.4" cy="27.3" r="2.1" fill="#fff" stroke="#111" stroke-width="0.9"/><circle cx="41.8" cy="45.6" r="2" fill="#fff" stroke="#111" stroke-width="0.9"/><circle cx="51.4" cy="45.6" r="2" fill="#fff" stroke="#111" stroke-width="0.9"/><circle cx="60" cy="45.6" r="2" fill="#fff" stroke="#111" stroke-width="0.9"/><path d="M49.4,29 C44,29.5 38,31 35.6,34.6 C34,37.4 35.4,40 37.4,40.6 M53.4,29 C58.6,29.5 64.6,31 67.2,34.6 C68.8,37.4 67.4,40 65.4,40.6" fill="none" stroke="#111" stroke-width="0.9" /><circle cx="37.6" cy="40.6" r="0.9" fill="#111"/><circle cx="65.2" cy="40.6" r="0.9" fill="#111"/></g></svg>
<svg class="coa" style="left:811.1px;top:2038px" width="210" height="250" viewBox="-105 -65 210 250"><g transform="scale(1)"><path d="M-65.98,51.5 A66.3,74.1 0 1 0 65.98,51.5 L46.54,60.5 A46.7,46.7 0 1 1 -46.54,60.5 Z" fill="#fff" stroke="#6f6f6f" stroke-width=".7"/><g transform="scale(-1,1)" fill="#fff" stroke="#6e6e6e" stroke-width=".7" stroke-linejoin="round"><path d="M-66.2,43.8 L-78.4,41.6 L-78.9,64.2 L-67.8,66 L-64.2,53 Z"/><path d="M-77.6,42 v5.6 M-77.6,57.6 v6 M-76.05,42.28 v5.6 M-76.05,57.84 v6 M-74.5,42.56 v5.6 M-74.5,58.08 v6 M-72.95,42.84 v5.6 M-72.95,58.32 v6 M-71.4,43.12 v5.6 M-71.4,58.56 v6 M-69.85,43.4 v5.6 M-69.85,58.8 v6 M-68.3,43.68 v5.6 M-68.3,59.04 v6 " fill="none" stroke-width=".55"/><path d="M-78.6,49.4 L-65.4,51.4 M-78.8,56.4 L-65.6,58" fill="none" stroke-width=".5"/><path d="M-63,45.5 C-58,48 -53,44 -54.5,40.5 L-51.5,31.5 C-53,28 -58,27 -62.5,21.8 C-58,20.5 -54,21 -52.5,19.5 C-49.5,16 -54,11.5 -57,14 C-59,16 -57,19 -54.5,19.8 M-62.5,21.8 C-66,26 -69,30 -68.2,32.5 C-65,35 -60,36 -57.5,38.5 C-60,41 -63,43 -63,45.5Z"/><path d="M-57.4,29.4 v8 M-56,30 v7.4 M-54.6,30.6 v6.4 M-53.4,31.2 v5 M-66,30.5 l3.4,2.4 M-64.4,27.8 l3.6,2.6 M-60.5,23.6 l3,1.8" fill="none" stroke-width=".5"/><path d="M-63,53.6 l.7,3 M-61,54.6 l.7,3 M-59,55.6 l.7,3 M-57,56.6 l.7,3 M-55,57.6 l.7,3 M-53,58.6 l.7,3 M-51,59.6 l.7,3 M-49,60.6 l.7,3 " fill="none" stroke-width=".55"/><path d="M-64.5,52.6 C-60,54.5 -54,57.6 -47.8,60.4" fill="none"/></g><g transform="scale(1,1)" fill="#fff" stroke="#6e6e6e" stroke-width=".7" stroke-linejoin="round"><path d="M-66.2,43.8 L-78.4,41.6 L-78.9,64.2 L-67.8,66 L-64.2,53 Z"/><path d="M-77.6,42 v5.6 M-77.6,57.6 v6 M-76.05,42.28 v5.6 M-76.05,57.84 v6 M-74.5,42.56 v5.6 M-74.5,58.08 v6 M-72.95,42.84 v5.6 M-72.95,58.32 v6 M-71.4,43.12 v5.6 M-71.4,58.56 v6 M-69.85,43.4 v5.6 M-69.85,58.8 v6 M-68.3,43.68 v5.6 M-68.3,59.04 v6 " fill="none" stroke-width=".55"/><path d="M-78.6,49.4 L-65.4,51.4 M-78.8,56.4 L-65.6,58" fill="none" stroke-width=".5"/><path d="M-63,45.5 C-58,48 -53,44 -54.5,40.5 L-51.5,31.5 C-53,28 -58,27 -62.5,21.8 C-58,20.5 -54,21 -52.5,19.5 C-49.5,16 -54,11.5 -57,14 C-59,16 -57,19 -54.5,19.8 M-62.5,21.8 C-66,26 -69,30 -68.2,32.5 C-65,35 -60,36 -57.5,38.5 C-60,41 -63,43 -63,45.5Z"/><path d="M-57.4,29.4 v8 M-56,30 v7.4 M-54.6,30.6 v6.4 M-53.4,31.2 v5 M-66,30.5 l3.4,2.4 M-64.4,27.8 l3.6,2.6 M-60.5,23.6 l3,1.8" fill="none" stroke-width=".5"/><path d="M-63,53.6 l.7,3 M-61,54.6 l.7,3 M-59,55.6 l.7,3 M-57,56.6 l.7,3 M-55,57.6 l.7,3 M-53,58.6 l.7,3 M-51,59.6 l.7,3 M-49,60.6 l.7,3 " fill="none" stroke-width=".55"/><path d="M-64.5,52.6 C-60,54.5 -54,57.6 -47.8,60.4" fill="none"/></g><defs><clipPath id="ct5"><path d="M-45,0H45V56.7A45,45 0 0 1 -45,56.7Z"/></clipPath><radialGradient id="sg5" cx="55%" cy="50%" r="65%"><stop offset="0" stop-color="#ececec"/><stop offset=".55" stop-color="#cfcfcf"/><stop offset="1" stop-color="#adadad"/></radialGradient></defs><path d="M-45,0H45V56.7A45,45 0 0 1 -45,56.7Z" fill="url(#sg5)"/><g clip-path="url(#ct5)"><path d="M-46,57 C-34,54.8 -26,54.8 -15,57 S4,59.2 15,57 S34,54.8 46,57 V110 H-46Z" fill="#1f7a4d" /><path d="M-46,62.5 C-34,60.3 -26,60.3 -15,62.5 S4,64.7 15,62.5 S34,60.3 46,62.5 V110 H-46Z" fill="#c9c9c9" /><path d="M-46,68 C-34,65.8 -26,65.8 -15,68 S4,70.2 15,68 S34,65.8 46,68 V110 H-46Z" fill="#1f7a4d" /><path d="M-46,73.5 C-34,71.3 -26,71.3 -15,73.5 S4,75.7 15,73.5 S34,71.3 46,73.5 V110 H-46Z" fill="#d2d2d2" /><path d="M-46,80 C-34,77.8 -26,77.8 -15,80 S4,82.2 15,80 S34,77.8 46,80 V110 H-46Z" fill="#1f7a4d" /><path d="M-46,86 C-34,83.8 -26,83.8 -15,86 S4,88.2 15,86 S34,83.8 46,86 V110 H-46Z" fill="#cfcfcf" /><path d="M-46,92 C-34,89.8 -26,89.8 -15,92 S4,94.2 15,92 S34,89.8 46,92 V110 H-46Z" fill="#1f7a4d" /><path d="M-46,98 C-34,95.8 -26,95.8 -15,98 S4,100.2 15,98 S34,95.8 46,98 V110 H-46Z" fill="#c4c4c4" /><path d="M1.6,4 V66" fill="none" stroke="#111" stroke-width="1.8" /><path d="M14.4,12 V64" fill="none" stroke="#111" stroke-width="1.4" /><path d="M29.6,29 V60" fill="none" stroke="#222" stroke-width="1" /><polygon points="-5.6,4 1,3.4 1,8.4 -4.4,8.8" fill="#e8e8e8" stroke="#888" stroke-width="0.4" /><path d="M14.4,14 L24,58 M14.4,14 L6,58 M29.6,30 L36,55 M1.6,10 L11,58" fill="none" stroke="#8d8d8d" stroke-width="0.5" /><polygon points="5,22 13,17 12.5,58 4.5,60" fill="#e4e4e4" stroke="#9a9a9a" stroke-width="0.4" /><path d="M11.8,14.2 C-4,17 -19,24 -20.6,32 C-21,44 -14,55 -9.5,59.5 C-3,57 5,58 10,61.5 C13,52 7,40 5,33 C4,26 7,19 11.8,14.2Z" fill="#e0483c" stroke="#9b2a22" stroke-width="0.5" /><path d="M-32.5,33 L-13,48" fill="none" stroke="#2a1010" stroke-width="2.2" /><path d="M-32.5,33 L-13,48" fill="none" stroke="#e0483c" stroke-width="1.2" /><path d="M4.5,43 L26.5,11.5" fill="none" stroke="#2a1010" stroke-width="2.4" /><path d="M4.5,43 L26.5,11.5" fill="none" stroke="#e0483c" stroke-width="1.3" /><path d="M28,40 L38,26.5" fill="none" stroke="#2a1010" stroke-width="2.2" /><path d="M28,40 L38,26.5" fill="none" stroke="#e0483c" stroke-width="1.2" /><rect x="-31.5" y="50" width="5" height="13" fill="#2b5aa6" stroke="#16305c" stroke-width="0.4" /><circle cx="-29" cy="48" r="2.2" fill="#e8c9a0" stroke="#775" stroke-width="0.3"/><rect x="-26.8" y="49" width="6.2" height="14.5" fill="#d8402f" stroke="#7a1d14" stroke-width="0.4" /><circle cx="-23.8" cy="46.6" r="2.8" fill="#d9b23a" stroke="#775" stroke-width="0.3"/><circle cx="-23.8" cy="47" r="1.7" fill="#e8c9a0"/><rect x="-22" y="52" width="3.5" height="11" fill="#2b5aa6" stroke="#16305c" stroke-width="0.4" /><path d="M18.5,48 C18,44 22,42 25,42 C29,42 32,45 31.5,49 L32,62 H18.5Z" fill="#2b5aa6" stroke="#16305c" stroke-width="0.4" /><rect x="22" y="47" width="6.2" height="15" fill="#d8402f" stroke="#7a1d14" stroke-width="0.4" /><circle cx="25.2" cy="43.5" r="3.6" fill="#d9b23a" stroke="#7a5c10" stroke-width="0.4"/><circle cx="25.2" cy="44.2" r="2.2" fill="#2a1a10"/><path d="M-40,55.2 L-36.8,55 C-33,60 -30,63 -27,64 L36.6,63 L36.8,79 C20,82.5 -10,82.5 -26,80 C-30,76 -33,68 -34,63 Z" fill="#0c0c0e" stroke="#000" stroke-width="0.4" /><path d="M-27,66.5 C-10,68.5 20,68 36.6,66.5" fill="none" stroke="#3a3a3a" stroke-width="0.6" /><path d="M-46,80.5 C-34,78.1 -26,78.1 -15,80.5 S4,82.9 15,80.5 S34,78.1 46,80.5 L46,86 C34,84 26,84 15,86 S-4,88 -15,86 S-34,84 -46,86Z" fill="#1f7a4d" /></g><path d="M-45,0H45V56.7A45,45 0 0 1 -45,56.7Z" fill="none" stroke="#555" stroke-width="0.8"/><g><path d="M-48.8,-3.2Q0,-13.6 48.8,-3.2L45,0.6H-45Z" fill="#fff"/><path d="M-49.5,-10 L-41,-25.8 h2.2 v1.7 h2.2 v-1.7 h2.2 v1.7 h2.2 v-1.7 h2.2  V-14 H-22 V-29.6 h2 v1.7 h2 v-1.7 h2 v1.7 h2 v-1.7 h2 v1.7 h2 v-1.7 h2  V-14 H8 V-29.6 h2 v1.7 h2 v-1.7 h2 v1.7 h2 v-1.7 h2 v1.7 h2 v-1.7 h2 V-14 H30 V-25.8 h2.2 v1.7 h2.2 v-1.7 h2.2 v1.7 h2.2 v-1.7 h2.2  L49.5,-10 Q0,-20.5 -49.5,-10Z" fill="#989898" stroke="#5a5a5a" stroke-width=".6"/><clipPath id="cw5"><path d="M-49.5,-10 L-41,-25.8 h2.2 v1.7 h2.2 v-1.7 h2.2 v1.7 h2.2 v-1.7 h2.2  V-14 H-22 V-29.6 h2 v1.7 h2 v-1.7 h2 v1.7 h2 v-1.7 h2 v1.7 h2 v-1.7 h2  V-14 H8 V-29.6 h2 v1.7 h2 v-1.7 h2 v1.7 h2 v-1.7 h2 v1.7 h2 v-1.7 h2 V-14 H30 V-25.8 h2.2 v1.7 h2.2 v-1.7 h2.2 v1.7 h2.2 v-1.7 h2.2  L49.5,-10 Q0,-20.5 -49.5,-10Z"/></clipPath><path d="M-45,-20.8 Q0,-31.2 45,-20.8 M-45,-18 Q0,-28.4 45,-18 M-45,-15.2 Q0,-25.6 45,-15.2 M-45,-12.4 Q0,-22.8 45,-12.4 M-45,-9.6 Q0,-20 45,-9.6 M-44,-12 v-20 M-40.7,-12 v-20 M-39.6,-12 v-20 M-36.3,-12 v-20 M-35.2,-12 v-20 M-31.9,-12 v-20 M-30.8,-12 v-20 M-27.5,-12 v-20 M-26.4,-12 v-20 M-23.1,-12 v-20 M-22,-12 v-20 M-18.7,-12 v-20 M-17.6,-12 v-20 M-14.3,-12 v-20 M-13.2,-12 v-20 M-9.9,-12 v-20 M-8.8,-12 v-20 M-5.5,-12 v-20 M-4.4,-12 v-20 M-1.1,-12 v-20 M0,-12 v-20 M3.3,-12 v-20 M4.4,-12 v-20 M7.7,-12 v-20 M8.8,-12 v-20 M12.1,-12 v-20 M13.2,-12 v-20 M16.5,-12 v-20 M17.6,-12 v-20 M20.9,-12 v-20 M22,-12 v-20 M25.3,-12 v-20 M26.4,-12 v-20 M29.7,-12 v-20 M30.8,-12 v-20 M34.1,-12 v-20 M35.2,-12 v-20 M38.5,-12 v-20 M39.6,-12 v-20 M42.9,-12 v-20 M44,-12 v-20 " fill="none" stroke="#6c6c6c" stroke-width=".5" clip-path="url(#cw5)"/><path d="M-49.8,-10.4 Q0,-21 49.8,-10.4 L48.9,-3.1 Q0,-13.6 -48.9,-3.1Z" fill="#acacac" stroke="#4e4e4e" stroke-width=".7"/><path d="M-49.4,-8.0 Q0,-18.5 49.4,-8.0" fill="none" stroke="#e4e4e4" stroke-width="1.4"/><path d="M-49.1,-5.4 Q0,-15.9 49.1,-5.4" fill="none" stroke="#747474" stroke-width="1"/><g transform="translate(-44,-12) scale(.84) translate(44,12)"><polygon points="-48.9,-8.2 -56,-24.5 -44.2,-29.4 -38,-13.6" fill="#a2a2a2" stroke="#505050" stroke-width=".6"/><polygon points="-60.6,-27.4 -59.2,-32.6 -56.2,-33.8 -55.4,-31.7 -53.1,-32.6 -53.9,-34.7 -50.9,-35.9 -50.1,-33.8 -47.8,-34.7 -48.6,-36.8 -45.6,-38 -42.6,-33 -43.6,-29.8 -56.4,-23.6" fill="#bcbcbc" stroke="#4c4c4c" stroke-width=".6"/><polygon points="-49.6,-14.6 -52.4,-21.2 -49.4,-22.4 -46.4,-16" fill="#3c3c3c"/><polygon points="-55.6,-26.4 -44.6,-31 -44,-29.6 -55,-25" fill="#4a4a4a"/></g><g transform="translate(44,-12) scale(.84) translate(-44,12)"><polygon points="48.9,-8.2 56,-24.5 44.2,-29.4 38,-13.6" fill="#a2a2a2" stroke="#505050" stroke-width=".6"/><polygon points="60.6,-27.4 59.2,-32.6 56.2,-33.8 55.4,-31.7 53.1,-32.6 53.9,-34.7 50.9,-35.9 50.1,-33.8 47.8,-34.7 48.6,-36.8 45.6,-38 42.6,-33 43.6,-29.8 56.4,-23.6" fill="#bcbcbc" stroke="#4c4c4c" stroke-width=".6"/><polygon points="49.6,-14.6 52.4,-21.2 49.4,-22.4 46.4,-16" fill="#3c3c3c"/><polygon points="55.6,-26.4 44.6,-31 44,-29.6 55,-25" fill="#4a4a4a"/></g><g transform="translate(-23.4,-1.2) rotate(-8) scale(.9)"><path d="M-9.6,-15 L-7.4,-36 H7.4 L9.6,-15Z" fill="#a6a6a6" stroke="#505050" stroke-width=".6"/><path d="M-10.8,-36 V-42.2 h3.3 v2.2 h2.8 v-2.2 h3.3 v2.2 h2.8 v-2.2 h3.3 v2.2 h2.8 v-2.2 h3.3 V-36Z" fill="#bababa" stroke="#4c4c4c" stroke-width=".6"/><rect x="-10.8" y="-37.8" width="21.6" height="1.6" fill="#6e6e6e"/><path d="M-3.6,-16.5 v-8 a3.6,4 0 0 1 7.2,0 v8Z" fill="#4e4e4e"/><path d="M-1.6,-16.8 v-7 a2.3,2.8 0 0 1 4.6,0 v7Z" fill="#cfcfcf"/><path d="M-1,-19h3.4M-1,-21.4h3.4M-0.8,-23.6h3" stroke="#777" stroke-width=".6" fill="none"/><rect x="-5" y="-34.2" width="1.7" height="3.4" fill="#222"/><rect x="3.3" y="-34.2" width="1.7" height="3.4" fill="#222"/></g><g transform="translate(23.4,-1.2) rotate(8) scale(.9)"><path d="M-9.6,-15 L-7.4,-36 H7.4 L9.6,-15Z" fill="#a6a6a6" stroke="#505050" stroke-width=".6"/><path d="M-10.8,-36 V-42.2 h3.3 v2.2 h2.8 v-2.2 h3.3 v2.2 h2.8 v-2.2 h3.3 v2.2 h2.8 v-2.2 h3.3 V-36Z" fill="#bababa" stroke="#4c4c4c" stroke-width=".6"/><rect x="-10.8" y="-37.8" width="21.6" height="1.6" fill="#6e6e6e"/><path d="M-3.6,-16.5 v-8 a3.6,4 0 0 1 7.2,0 v8Z" fill="#4e4e4e"/><path d="M-1.6,-16.8 v-7 a2.3,2.8 0 0 1 4.6,0 v7Z" fill="#cfcfcf"/><path d="M-1,-19h3.4M-1,-21.4h3.4M-0.8,-23.6h3" stroke="#777" stroke-width=".6" fill="none"/><rect x="-5" y="-34.2" width="1.7" height="3.4" fill="#222"/><rect x="3.3" y="-34.2" width="1.7" height="3.4" fill="#222"/></g><g transform="translate(0,-2.2) scale(.94)"><path d="M-9.6,-15 L-7.4,-36 H7.4 L9.6,-15Z" fill="#a6a6a6" stroke="#505050" stroke-width=".6"/><path d="M-10.8,-36 V-42.2 h3.3 v2.2 h2.8 v-2.2 h3.3 v2.2 h2.8 v-2.2 h3.3 v2.2 h2.8 v-2.2 h3.3 V-36Z" fill="#bababa" stroke="#4c4c4c" stroke-width=".6"/><rect x="-10.8" y="-37.8" width="21.6" height="1.6" fill="#6e6e6e"/><path d="M-3.6,-16.5 v-8 a3.6,4 0 0 1 7.2,0 v8Z" fill="#4e4e4e"/><path d="M-1.6,-16.8 v-7 a2.3,2.8 0 0 1 4.6,0 v7Z" fill="#cfcfcf"/><path d="M-1,-19h3.4M-1,-21.4h3.4M-0.8,-23.6h3" stroke="#777" stroke-width=".6" fill="none"/><rect x="-5" y="-34.2" width="1.7" height="3.4" fill="#222"/><rect x="3.3" y="-34.2" width="1.7" height="3.4" fill="#222"/></g></g><path id="t5" d="M-62.89,65.98 A63.3,72.6 0 0 0 62.89,65.98" fill="none"/><text font-family="'Liberation Sans',sans-serif" font-size="23" font-weight="700" fill="#0c0c0c" text-anchor="middle" word-spacing="3"><textPath href="#t5" startOffset="50%" textLength="165.89" lengthAdjust="spacingAndGlyphs">CIDADE DE PENICHE</textPath></text></g></svg>
<svg class="coa" style="left:1011px;top:2038px" width="210" height="250" viewBox="-105 -65 210 250"><g transform="scale(1)"><path d="M-65.9,51.5 A66.3,66.3 0 1 0 65.9,51.5 L46.54,60.5 A46.7,46.7 0 1 1 -46.54,60.5 Z" fill="#fff" stroke="#6f6f6f" stroke-width=".7"/><g transform="scale(-1,1)" fill="#fff" stroke="#6e6e6e" stroke-width=".7" stroke-linejoin="round"><path d="M-66.2,43.8 L-78.4,41.6 L-78.9,64.2 L-67.8,66 L-64.2,53 Z"/><path d="M-77.6,42 v5.6 M-77.6,57.6 v6 M-76.05,42.28 v5.6 M-76.05,57.84 v6 M-74.5,42.56 v5.6 M-74.5,58.08 v6 M-72.95,42.84 v5.6 M-72.95,58.32 v6 M-71.4,43.12 v5.6 M-71.4,58.56 v6 M-69.85,43.4 v5.6 M-69.85,58.8 v6 M-68.3,43.68 v5.6 M-68.3,59.04 v6 " fill="none" stroke-width=".55"/><path d="M-78.6,49.4 L-65.4,51.4 M-78.8,56.4 L-65.6,58" fill="none" stroke-width=".5"/><path d="M-63,45.5 C-58,48 -53,44 -54.5,40.5 L-51.5,31.5 C-53,28 -58,27 -62.5,21.8 C-58,20.5 -54,21 -52.5,19.5 C-49.5,16 -54,11.5 -57,14 C-59,16 -57,19 -54.5,19.8 M-62.5,21.8 C-66,26 -69,30 -68.2,32.5 C-65,35 -60,36 -57.5,38.5 C-60,41 -63,43 -63,45.5Z"/><path d="M-57.4,29.4 v8 M-56,30 v7.4 M-54.6,30.6 v6.4 M-53.4,31.2 v5 M-66,30.5 l3.4,2.4 M-64.4,27.8 l3.6,2.6 M-60.5,23.6 l3,1.8" fill="none" stroke-width=".5"/><path d="M-63,53.6 l.7,3 M-61,54.6 l.7,3 M-59,55.6 l.7,3 M-57,56.6 l.7,3 M-55,57.6 l.7,3 M-53,58.6 l.7,3 M-51,59.6 l.7,3 M-49,60.6 l.7,3 " fill="none" stroke-width=".55"/><path d="M-64.5,52.6 C-60,54.5 -54,57.6 -47.8,60.4" fill="none"/></g><g transform="scale(1,1)" fill="#fff" stroke="#6e6e6e" stroke-width=".7" stroke-linejoin="round"><path d="M-66.2,43.8 L-78.4,41.6 L-78.9,64.2 L-67.8,66 L-64.2,53 Z"/><path d="M-77.6,42 v5.6 M-77.6,57.6 v6 M-76.05,42.28 v5.6 M-76.05,57.84 v6 M-74.5,42.56 v5.6 M-74.5,58.08 v6 M-72.95,42.84 v5.6 M-72.95,58.32 v6 M-71.4,43.12 v5.6 M-71.4,58.56 v6 M-69.85,43.4 v5.6 M-69.85,58.8 v6 M-68.3,43.68 v5.6 M-68.3,59.04 v6 " fill="none" stroke-width=".55"/><path d="M-78.6,49.4 L-65.4,51.4 M-78.8,56.4 L-65.6,58" fill="none" stroke-width=".5"/><path d="M-63,45.5 C-58,48 -53,44 -54.5,40.5 L-51.5,31.5 C-53,28 -58,27 -62.5,21.8 C-58,20.5 -54,21 -52.5,19.5 C-49.5,16 -54,11.5 -57,14 C-59,16 -57,19 -54.5,19.8 M-62.5,21.8 C-66,26 -69,30 -68.2,32.5 C-65,35 -60,36 -57.5,38.5 C-60,41 -63,43 -63,45.5Z"/><path d="M-57.4,29.4 v8 M-56,30 v7.4 M-54.6,30.6 v6.4 M-53.4,31.2 v5 M-66,30.5 l3.4,2.4 M-64.4,27.8 l3.6,2.6 M-60.5,23.6 l3,1.8" fill="none" stroke-width=".5"/><path d="M-63,53.6 l.7,3 M-61,54.6 l.7,3 M-59,55.6 l.7,3 M-57,56.6 l.7,3 M-55,57.6 l.7,3 M-53,58.6 l.7,3 M-51,59.6 l.7,3 M-49,60.6 l.7,3 " fill="none" stroke-width=".55"/><path d="M-64.5,52.6 C-60,54.5 -54,57.6 -47.8,60.4" fill="none"/></g><defs><clipPath id="ct6"><path d="M-45,0H45V56.7A45,45 0 0 1 -45,56.7Z"/></clipPath><radialGradient id="sg6" cx="55%" cy="50%" r="65%"><stop offset="0" stop-color="#ececec"/><stop offset=".55" stop-color="#cfcfcf"/><stop offset="1" stop-color="#adadad"/></radialGradient></defs><path d="M-45,0H45V56.7A45,45 0 0 1 -45,56.7Z" fill="url(#sg6)"/><g clip-path="url(#ct6)"><polygon points="-22,11.5 -25.08,7.5 -29.18,5.5 -35.34,6 -39.45,8.5 -38.42,13.5 -41.5,17.5 -39.45,22.5 -41.5,27.5 -38.42,32.5 -34.32,35.5 -30.21,32.5 -27.13,27.5 -24.05,21.5" fill="#1f8a4c" stroke="#126b36" stroke-width="0.5" /><polygon points="-22,11.5 -18.92,7.5 -13.79,5.5 -8.66,6.5 -5.58,5.5 -4.55,10.5 -2.5,14.5 -3.53,20.5 -1.47,25.5 -3.53,31.5 -6.61,34.5 -10.71,31.5 -14.82,26.5 -18.92,20.5" fill="#1f8a4c" stroke="#126b36" stroke-width="0.5" /><path d="M-22,11.5 l-2.05,-3.5 M-22,11.5 l2.05,-3.5 M-22,11.5 v-3" fill="none" stroke="#126b36" stroke-width="0.9236842105263159" /><polygon points="21.5,11.5 18.42,7.5 14.32,5.5 8.16,6 4.05,8.5 5.08,13.5 2,17.5 4.05,22.5 2,27.5 5.08,32.5 9.18,35.5 13.29,32.5 16.37,27.5 19.45,21.5" fill="#1f8a4c" stroke="#126b36" stroke-width="0.5" /><polygon points="21.5,11.5 24.58,7.5 29.71,5.5 34.84,6.5 37.92,5.5 38.95,10.5 41,14.5 39.97,20.5 42.03,25.5 39.97,31.5 36.89,34.5 32.79,31.5 28.68,26.5 24.58,20.5" fill="#1f8a4c" stroke="#126b36" stroke-width="0.5" /><path d="M21.5,11.5 l-2.05,-3.5 M21.5,11.5 l2.05,-3.5 M21.5,11.5 v-3" fill="none" stroke="#126b36" stroke-width="0.9236842105263159" /><g><circle cx="-27.78" cy="24.94" r="2.44" fill="#7d3c80" stroke="#5a2a5e" stroke-width="0.35"/><circle cx="-28.32" cy="24.33" r="0.93" fill="#a566a6"/><circle cx="-24.13" cy="24.94" r="2.44" fill="#7d3c80" stroke="#5a2a5e" stroke-width="0.35"/><circle cx="-24.66" cy="24.33" r="0.93" fill="#a566a6"/><circle cx="-20.47" cy="24.94" r="2.44" fill="#7d3c80" stroke="#5a2a5e" stroke-width="0.35"/><circle cx="-21.01" cy="24.33" r="0.93" fill="#a566a6"/><circle cx="-16.82" cy="24.94" r="2.44" fill="#7d3c80" stroke="#5a2a5e" stroke-width="0.35"/><circle cx="-17.35" cy="24.33" r="0.93" fill="#a566a6"/><circle cx="-29.61" cy="27.95" r="2.44" fill="#7d3c80" stroke="#5a2a5e" stroke-width="0.35"/><circle cx="-30.15" cy="27.34" r="0.93" fill="#a566a6"/><circle cx="-25.96" cy="27.95" r="2.44" fill="#7d3c80" stroke="#5a2a5e" stroke-width="0.35"/><circle cx="-26.49" cy="27.34" r="0.93" fill="#a566a6"/><circle cx="-22.3" cy="27.95" r="2.44" fill="#7d3c80" stroke="#5a2a5e" stroke-width="0.35"/><circle cx="-22.84" cy="27.34" r="0.93" fill="#a566a6"/><circle cx="-18.64" cy="27.95" r="2.44" fill="#7d3c80" stroke="#5a2a5e" stroke-width="0.35"/><circle cx="-19.18" cy="27.34" r="0.93" fill="#a566a6"/><circle cx="-14.99" cy="27.95" r="2.44" fill="#7d3c80" stroke="#5a2a5e" stroke-width="0.35"/><circle cx="-15.52" cy="27.34" r="0.93" fill="#a566a6"/><circle cx="-27.78" cy="30.97" r="2.44" fill="#7d3c80" stroke="#5a2a5e" stroke-width="0.35"/><circle cx="-28.32" cy="30.36" r="0.93" fill="#a566a6"/><circle cx="-24.13" cy="30.97" r="2.44" fill="#7d3c80" stroke="#5a2a5e" stroke-width="0.35"/><circle cx="-24.66" cy="30.36" r="0.93" fill="#a566a6"/><circle cx="-20.47" cy="30.97" r="2.44" fill="#7d3c80" stroke="#5a2a5e" stroke-width="0.35"/><circle cx="-21.01" cy="30.36" r="0.93" fill="#a566a6"/><circle cx="-16.82" cy="30.97" r="2.44" fill="#7d3c80" stroke="#5a2a5e" stroke-width="0.35"/><circle cx="-17.35" cy="30.36" r="0.93" fill="#a566a6"/><circle cx="-29.61" cy="33.98" r="2.44" fill="#7d3c80" stroke="#5a2a5e" stroke-width="0.35"/><circle cx="-30.15" cy="33.37" r="0.93" fill="#a566a6"/><circle cx="-25.96" cy="33.98" r="2.44" fill="#7d3c80" stroke="#5a2a5e" stroke-width="0.35"/><circle cx="-26.49" cy="33.37" r="0.93" fill="#a566a6"/><circle cx="-22.3" cy="33.98" r="2.44" fill="#7d3c80" stroke="#5a2a5e" stroke-width="0.35"/><circle cx="-22.84" cy="33.37" r="0.93" fill="#a566a6"/><circle cx="-18.64" cy="33.98" r="2.44" fill="#7d3c80" stroke="#5a2a5e" stroke-width="0.35"/><circle cx="-19.18" cy="33.37" r="0.93" fill="#a566a6"/><circle cx="-14.99" cy="33.98" r="2.44" fill="#7d3c80" stroke="#5a2a5e" stroke-width="0.35"/><circle cx="-15.52" cy="33.37" r="0.93" fill="#a566a6"/><circle cx="-27.78" cy="36.99" r="2.44" fill="#7d3c80" stroke="#5a2a5e" stroke-width="0.35"/><circle cx="-28.32" cy="36.38" r="0.93" fill="#a566a6"/><circle cx="-24.13" cy="36.99" r="2.44" fill="#7d3c80" stroke="#5a2a5e" stroke-width="0.35"/><circle cx="-24.66" cy="36.38" r="0.93" fill="#a566a6"/><circle cx="-20.47" cy="36.99" r="2.44" fill="#7d3c80" stroke="#5a2a5e" stroke-width="0.35"/><circle cx="-21.01" cy="36.38" r="0.93" fill="#a566a6"/><circle cx="-16.82" cy="36.99" r="2.44" fill="#7d3c80" stroke="#5a2a5e" stroke-width="0.35"/><circle cx="-17.35" cy="36.38" r="0.93" fill="#a566a6"/><circle cx="-25.96" cy="40.01" r="2.44" fill="#7d3c80" stroke="#5a2a5e" stroke-width="0.35"/><circle cx="-26.49" cy="39.4" r="0.93" fill="#a566a6"/><circle cx="-22.3" cy="40.01" r="2.44" fill="#7d3c80" stroke="#5a2a5e" stroke-width="0.35"/><circle cx="-22.84" cy="39.4" r="0.93" fill="#a566a6"/><circle cx="-18.64" cy="40.01" r="2.44" fill="#7d3c80" stroke="#5a2a5e" stroke-width="0.35"/><circle cx="-19.18" cy="39.4" r="0.93" fill="#a566a6"/><circle cx="-25.96" cy="43.02" r="2.44" fill="#7d3c80" stroke="#5a2a5e" stroke-width="0.35"/><circle cx="-26.49" cy="42.41" r="0.93" fill="#a566a6"/><circle cx="-22.3" cy="43.02" r="2.44" fill="#7d3c80" stroke="#5a2a5e" stroke-width="0.35"/><circle cx="-22.84" cy="42.41" r="0.93" fill="#a566a6"/><circle cx="-18.64" cy="43.02" r="2.44" fill="#7d3c80" stroke="#5a2a5e" stroke-width="0.35"/><circle cx="-19.18" cy="42.41" r="0.93" fill="#a566a6"/><circle cx="-24.13" cy="46.03" r="2.44" fill="#7d3c80" stroke="#5a2a5e" stroke-width="0.35"/><circle cx="-24.66" cy="45.43" r="0.93" fill="#a566a6"/><circle cx="-20.47" cy="46.03" r="2.44" fill="#7d3c80" stroke="#5a2a5e" stroke-width="0.35"/><circle cx="-21.01" cy="45.43" r="0.93" fill="#a566a6"/><circle cx="-24.13" cy="49.05" r="2.44" fill="#7d3c80" stroke="#5a2a5e" stroke-width="0.35"/><circle cx="-24.66" cy="48.44" r="0.93" fill="#a566a6"/><circle cx="-20.47" cy="49.05" r="2.44" fill="#7d3c80" stroke="#5a2a5e" stroke-width="0.35"/><circle cx="-21.01" cy="48.44" r="0.93" fill="#a566a6"/><circle cx="-22.3" cy="52.06" r="2.44" fill="#7d3c80" stroke="#5a2a5e" stroke-width="0.35"/><circle cx="-22.84" cy="51.45" r="0.93" fill="#a566a6"/></g><g><circle cx="16.02" cy="24.94" r="2.44" fill="#7d3c80" stroke="#5a2a5e" stroke-width="0.35"/><circle cx="15.48" cy="24.33" r="0.93" fill="#a566a6"/><circle cx="19.67" cy="24.94" r="2.44" fill="#7d3c80" stroke="#5a2a5e" stroke-width="0.35"/><circle cx="19.14" cy="24.33" r="0.93" fill="#a566a6"/><circle cx="23.33" cy="24.94" r="2.44" fill="#7d3c80" stroke="#5a2a5e" stroke-width="0.35"/><circle cx="22.79" cy="24.33" r="0.93" fill="#a566a6"/><circle cx="26.98" cy="24.94" r="2.44" fill="#7d3c80" stroke="#5a2a5e" stroke-width="0.35"/><circle cx="26.45" cy="24.33" r="0.93" fill="#a566a6"/><circle cx="14.19" cy="27.95" r="2.44" fill="#7d3c80" stroke="#5a2a5e" stroke-width="0.35"/><circle cx="13.65" cy="27.34" r="0.93" fill="#a566a6"/><circle cx="17.84" cy="27.95" r="2.44" fill="#7d3c80" stroke="#5a2a5e" stroke-width="0.35"/><circle cx="17.31" cy="27.34" r="0.93" fill="#a566a6"/><circle cx="21.5" cy="27.95" r="2.44" fill="#7d3c80" stroke="#5a2a5e" stroke-width="0.35"/><circle cx="20.96" cy="27.34" r="0.93" fill="#a566a6"/><circle cx="25.16" cy="27.95" r="2.44" fill="#7d3c80" stroke="#5a2a5e" stroke-width="0.35"/><circle cx="24.62" cy="27.34" r="0.93" fill="#a566a6"/><circle cx="28.81" cy="27.95" r="2.44" fill="#7d3c80" stroke="#5a2a5e" stroke-width="0.35"/><circle cx="28.28" cy="27.34" r="0.93" fill="#a566a6"/><circle cx="16.02" cy="30.97" r="2.44" fill="#7d3c80" stroke="#5a2a5e" stroke-width="0.35"/><circle cx="15.48" cy="30.36" r="0.93" fill="#a566a6"/><circle cx="19.67" cy="30.97" r="2.44" fill="#7d3c80" stroke="#5a2a5e" stroke-width="0.35"/><circle cx="19.14" cy="30.36" r="0.93" fill="#a566a6"/><circle cx="23.33" cy="30.97" r="2.44" fill="#7d3c80" stroke="#5a2a5e" stroke-width="0.35"/><circle cx="22.79" cy="30.36" r="0.93" fill="#a566a6"/><circle cx="26.98" cy="30.97" r="2.44" fill="#7d3c80" stroke="#5a2a5e" stroke-width="0.35"/><circle cx="26.45" cy="30.36" r="0.93" fill="#a566a6"/><circle cx="14.19" cy="33.98" r="2.44" fill="#7d3c80" stroke="#5a2a5e" stroke-width="0.35"/><circle cx="13.65" cy="33.37" r="0.93" fill="#a566a6"/><circle cx="17.84" cy="33.98" r="2.44" fill="#7d3c80" stroke="#5a2a5e" stroke-width="0.35"/><circle cx="17.31" cy="33.37" r="0.93" fill="#a566a6"/><circle cx="21.5" cy="33.98" r="2.44" fill="#7d3c80" stroke="#5a2a5e" stroke-width="0.35"/><circle cx="20.96" cy="33.37" r="0.93" fill="#a566a6"/><circle cx="25.16" cy="33.98" r="2.44" fill="#7d3c80" stroke="#5a2a5e" stroke-width="0.35"/><circle cx="24.62" cy="33.37" r="0.93" fill="#a566a6"/><circle cx="28.81" cy="33.98" r="2.44" fill="#7d3c80" stroke="#5a2a5e" stroke-width="0.35"/><circle cx="28.28" cy="33.37" r="0.93" fill="#a566a6"/><circle cx="16.02" cy="36.99" r="2.44" fill="#7d3c80" stroke="#5a2a5e" stroke-width="0.35"/><circle cx="15.48" cy="36.38" r="0.93" fill="#a566a6"/><circle cx="19.67" cy="36.99" r="2.44" fill="#7d3c80" stroke="#5a2a5e" stroke-width="0.35"/><circle cx="19.14" cy="36.38" r="0.93" fill="#a566a6"/><circle cx="23.33" cy="36.99" r="2.44" fill="#7d3c80" stroke="#5a2a5e" stroke-width="0.35"/><circle cx="22.79" cy="36.38" r="0.93" fill="#a566a6"/><circle cx="26.98" cy="36.99" r="2.44" fill="#7d3c80" stroke="#5a2a5e" stroke-width="0.35"/><circle cx="26.45" cy="36.38" r="0.93" fill="#a566a6"/><circle cx="17.84" cy="40.01" r="2.44" fill="#7d3c80" stroke="#5a2a5e" stroke-width="0.35"/><circle cx="17.31" cy="39.4" r="0.93" fill="#a566a6"/><circle cx="21.5" cy="40.01" r="2.44" fill="#7d3c80" stroke="#5a2a5e" stroke-width="0.35"/><circle cx="20.96" cy="39.4" r="0.93" fill="#a566a6"/><circle cx="25.16" cy="40.01" r="2.44" fill="#7d3c80" stroke="#5a2a5e" stroke-width="0.35"/><circle cx="24.62" cy="39.4" r="0.93" fill="#a566a6"/><circle cx="17.84" cy="43.02" r="2.44" fill="#7d3c80" stroke="#5a2a5e" stroke-width="0.35"/><circle cx="17.31" cy="42.41" r="0.93" fill="#a566a6"/><circle cx="21.5" cy="43.02" r="2.44" fill="#7d3c80" stroke="#5a2a5e" stroke-width="0.35"/><circle cx="20.96" cy="42.41" r="0.93" fill="#a566a6"/><circle cx="25.16" cy="43.02" r="2.44" fill="#7d3c80" stroke="#5a2a5e" stroke-width="0.35"/><circle cx="24.62" cy="42.41" r="0.93" fill="#a566a6"/><circle cx="19.67" cy="46.03" r="2.44" fill="#7d3c80" stroke="#5a2a5e" stroke-width="0.35"/><circle cx="19.14" cy="45.43" r="0.93" fill="#a566a6"/><circle cx="23.33" cy="46.03" r="2.44" fill="#7d3c80" stroke="#5a2a5e" stroke-width="0.35"/><circle cx="22.79" cy="45.43" r="0.93" fill="#a566a6"/><circle cx="19.67" cy="49.05" r="2.44" fill="#7d3c80" stroke="#5a2a5e" stroke-width="0.35"/><circle cx="19.14" cy="48.44" r="0.93" fill="#a566a6"/><circle cx="23.33" cy="49.05" r="2.44" fill="#7d3c80" stroke="#5a2a5e" stroke-width="0.35"/><circle cx="22.79" cy="48.44" r="0.93" fill="#a566a6"/><circle cx="21.5" cy="52.06" r="2.44" fill="#7d3c80" stroke="#5a2a5e" stroke-width="0.35"/><circle cx="20.96" cy="51.45" r="0.93" fill="#a566a6"/></g><polygon points="0,60 -4,55 -8,49 -13,47 -16,50 -15,56 -21,58 -24,63 -26,72 -21,71 -16,74 -11,71 -6,67" fill="#1f8a4c" stroke="#126b36" stroke-width="0.5" /><polygon points="0,60 4,55 8,49 13,47 16,50 15,56 21,58 24,63 26,72 21,71 16,74 11,71 6,67" fill="#1f8a4c" stroke="#126b36" stroke-width="0.5" /><path d="M0,61 l-2.2,-5 M0,61 l2.2,-5" fill="none" stroke="#126b36" stroke-width="0.9" /><g><circle cx="-6.59" cy="66.56" r="3.06" fill="#7d3c80" stroke="#5a2a5e" stroke-width="0.35"/><circle cx="-7.26" cy="65.8" r="1.16" fill="#a566a6"/><circle cx="-2" cy="66.56" r="3.06" fill="#7d3c80" stroke="#5a2a5e" stroke-width="0.35"/><circle cx="-2.67" cy="65.8" r="1.16" fill="#a566a6"/><circle cx="2.6" cy="66.56" r="3.06" fill="#7d3c80" stroke="#5a2a5e" stroke-width="0.35"/><circle cx="1.92" cy="65.8" r="1.16" fill="#a566a6"/><circle cx="7.19" cy="66.56" r="3.06" fill="#7d3c80" stroke="#5a2a5e" stroke-width="0.35"/><circle cx="6.52" cy="65.8" r="1.16" fill="#a566a6"/><circle cx="-8.89" cy="69.83" r="3.06" fill="#7d3c80" stroke="#5a2a5e" stroke-width="0.35"/><circle cx="-9.56" cy="69.06" r="1.16" fill="#a566a6"/><circle cx="-4.29" cy="69.83" r="3.06" fill="#7d3c80" stroke="#5a2a5e" stroke-width="0.35"/><circle cx="-4.97" cy="69.06" r="1.16" fill="#a566a6"/><circle cx="0.3" cy="69.83" r="3.06" fill="#7d3c80" stroke="#5a2a5e" stroke-width="0.35"/><circle cx="-0.37" cy="69.06" r="1.16" fill="#a566a6"/><circle cx="4.89" cy="69.83" r="3.06" fill="#7d3c80" stroke="#5a2a5e" stroke-width="0.35"/><circle cx="4.22" cy="69.06" r="1.16" fill="#a566a6"/><circle cx="9.49" cy="69.83" r="3.06" fill="#7d3c80" stroke="#5a2a5e" stroke-width="0.35"/><circle cx="8.81" cy="69.06" r="1.16" fill="#a566a6"/><circle cx="-6.59" cy="73.09" r="3.06" fill="#7d3c80" stroke="#5a2a5e" stroke-width="0.35"/><circle cx="-7.26" cy="72.32" r="1.16" fill="#a566a6"/><circle cx="-2" cy="73.09" r="3.06" fill="#7d3c80" stroke="#5a2a5e" stroke-width="0.35"/><circle cx="-2.67" cy="72.32" r="1.16" fill="#a566a6"/><circle cx="2.6" cy="73.09" r="3.06" fill="#7d3c80" stroke="#5a2a5e" stroke-width="0.35"/><circle cx="1.92" cy="72.32" r="1.16" fill="#a566a6"/><circle cx="7.19" cy="73.09" r="3.06" fill="#7d3c80" stroke="#5a2a5e" stroke-width="0.35"/><circle cx="6.52" cy="72.32" r="1.16" fill="#a566a6"/><circle cx="-8.89" cy="76.35" r="3.06" fill="#7d3c80" stroke="#5a2a5e" stroke-width="0.35"/><circle cx="-9.56" cy="75.59" r="1.16" fill="#a566a6"/><circle cx="-4.29" cy="76.35" r="3.06" fill="#7d3c80" stroke="#5a2a5e" stroke-width="0.35"/><circle cx="-4.97" cy="75.59" r="1.16" fill="#a566a6"/><circle cx="0.3" cy="76.35" r="3.06" fill="#7d3c80" stroke="#5a2a5e" stroke-width="0.35"/><circle cx="-0.37" cy="75.59" r="1.16" fill="#a566a6"/><circle cx="4.89" cy="76.35" r="3.06" fill="#7d3c80" stroke="#5a2a5e" stroke-width="0.35"/><circle cx="4.22" cy="75.59" r="1.16" fill="#a566a6"/><circle cx="9.49" cy="76.35" r="3.06" fill="#7d3c80" stroke="#5a2a5e" stroke-width="0.35"/><circle cx="8.81" cy="75.59" r="1.16" fill="#a566a6"/><circle cx="-6.59" cy="79.62" r="3.06" fill="#7d3c80" stroke="#5a2a5e" stroke-width="0.35"/><circle cx="-7.26" cy="78.85" r="1.16" fill="#a566a6"/><circle cx="-2" cy="79.62" r="3.06" fill="#7d3c80" stroke="#5a2a5e" stroke-width="0.35"/><circle cx="-2.67" cy="78.85" r="1.16" fill="#a566a6"/><circle cx="2.6" cy="79.62" r="3.06" fill="#7d3c80" stroke="#5a2a5e" stroke-width="0.35"/><circle cx="1.92" cy="78.85" r="1.16" fill="#a566a6"/><circle cx="7.19" cy="79.62" r="3.06" fill="#7d3c80" stroke="#5a2a5e" stroke-width="0.35"/><circle cx="6.52" cy="78.85" r="1.16" fill="#a566a6"/><circle cx="-4.29" cy="82.88" r="3.06" fill="#7d3c80" stroke="#5a2a5e" stroke-width="0.35"/><circle cx="-4.97" cy="82.12" r="1.16" fill="#a566a6"/><circle cx="0.3" cy="82.88" r="3.06" fill="#7d3c80" stroke="#5a2a5e" stroke-width="0.35"/><circle cx="-0.37" cy="82.12" r="1.16" fill="#a566a6"/><circle cx="4.89" cy="82.88" r="3.06" fill="#7d3c80" stroke="#5a2a5e" stroke-width="0.35"/><circle cx="4.22" cy="82.12" r="1.16" fill="#a566a6"/><circle cx="-4.29" cy="86.15" r="3.06" fill="#7d3c80" stroke="#5a2a5e" stroke-width="0.35"/><circle cx="-4.97" cy="85.38" r="1.16" fill="#a566a6"/><circle cx="0.3" cy="86.15" r="3.06" fill="#7d3c80" stroke="#5a2a5e" stroke-width="0.35"/><circle cx="-0.37" cy="85.38" r="1.16" fill="#a566a6"/><circle cx="4.89" cy="86.15" r="3.06" fill="#7d3c80" stroke="#5a2a5e" stroke-width="0.35"/><circle cx="4.22" cy="85.38" r="1.16" fill="#a566a6"/><circle cx="-2" cy="89.41" r="3.06" fill="#7d3c80" stroke="#5a2a5e" stroke-width="0.35"/><circle cx="-2.67" cy="88.64" r="1.16" fill="#a566a6"/><circle cx="2.6" cy="89.41" r="3.06" fill="#7d3c80" stroke="#5a2a5e" stroke-width="0.35"/><circle cx="1.92" cy="88.64" r="1.16" fill="#a566a6"/><circle cx="-2" cy="92.67" r="3.06" fill="#7d3c80" stroke="#5a2a5e" stroke-width="0.35"/><circle cx="-2.67" cy="91.91" r="1.16" fill="#a566a6"/><circle cx="2.6" cy="92.67" r="3.06" fill="#7d3c80" stroke="#5a2a5e" stroke-width="0.35"/><circle cx="1.92" cy="91.91" r="1.16" fill="#a566a6"/><circle cx="0.3" cy="95.94" r="3.06" fill="#7d3c80" stroke="#5a2a5e" stroke-width="0.35"/><circle cx="-0.37" cy="95.17" r="1.16" fill="#a566a6"/></g></g><path d="M-45,0H45V56.7A45,45 0 0 1 -45,56.7Z" fill="none" stroke="#555" stroke-width="0.8"/><g><path d="M-48.8,-3.2Q0,-13.6 48.8,-3.2L45,0.6H-45Z" fill="#fff"/><path d="M-49.5,-10 L-40.5,-27.8 h2.07 v1.7 h2.07 v-1.7 h2.07 v1.7 h2.07 v-1.7 h2.07 v1.7 h2.07 v-1.7 h2.07 L-26,-14 H-9.5 V-31.4 h2.11 v1.7 h2.11 v-1.7 h2.11 v1.7 h2.11 v-1.7 h2.11 v1.7 h2.11 v-1.7 h2.11 v1.7 h2.11 v-1.7 h2.11 V-14 H26 V-27.8 h2.07 v1.7 h2.07 v-1.7 h2.07 v1.7 h2.07 v-1.7 h2.07 v1.7 h2.07 v-1.7 h2.07 L49.5,-10 Q0,-20.5 -49.5,-10Z" fill="#989898" stroke="#5a5a5a" stroke-width=".6"/><clipPath id="cw4"><path d="M-49.5,-10 L-40.5,-27.8 h2.07 v1.7 h2.07 v-1.7 h2.07 v1.7 h2.07 v-1.7 h2.07 v1.7 h2.07 v-1.7 h2.07 L-26,-14 H-9.5 V-31.4 h2.11 v1.7 h2.11 v-1.7 h2.11 v1.7 h2.11 v-1.7 h2.11 v1.7 h2.11 v-1.7 h2.11 v1.7 h2.11 v-1.7 h2.11 V-14 H26 V-27.8 h2.07 v1.7 h2.07 v-1.7 h2.07 v1.7 h2.07 v-1.7 h2.07 v1.7 h2.07 v-1.7 h2.07 L49.5,-10 Q0,-20.5 -49.5,-10Z"/></clipPath><path d="M-45,-20.8 Q0,-31.2 45,-20.8 M-45,-18 Q0,-28.4 45,-18 M-45,-15.2 Q0,-25.6 45,-15.2 M-45,-12.4 Q0,-22.8 45,-12.4 M-45,-9.6 Q0,-20 45,-9.6 M-44,-12 v-20 M-40.7,-12 v-20 M-39.6,-12 v-20 M-36.3,-12 v-20 M-35.2,-12 v-20 M-31.9,-12 v-20 M-30.8,-12 v-20 M-27.5,-12 v-20 M-26.4,-12 v-20 M-23.1,-12 v-20 M-22,-12 v-20 M-18.7,-12 v-20 M-17.6,-12 v-20 M-14.3,-12 v-20 M-13.2,-12 v-20 M-9.9,-12 v-20 M-8.8,-12 v-20 M-5.5,-12 v-20 M-4.4,-12 v-20 M-1.1,-12 v-20 M0,-12 v-20 M3.3,-12 v-20 M4.4,-12 v-20 M7.7,-12 v-20 M8.8,-12 v-20 M12.1,-12 v-20 M13.2,-12 v-20 M16.5,-12 v-20 M17.6,-12 v-20 M20.9,-12 v-20 M22,-12 v-20 M25.3,-12 v-20 M26.4,-12 v-20 M29.7,-12 v-20 M30.8,-12 v-20 M34.1,-12 v-20 M35.2,-12 v-20 M38.5,-12 v-20 M39.6,-12 v-20 M42.9,-12 v-20 M44,-12 v-20 " fill="none" stroke="#6c6c6c" stroke-width=".5" clip-path="url(#cw4)"/><path d="M-49.8,-10.4 Q0,-21 49.8,-10.4 L48.9,-3.1 Q0,-13.6 -48.9,-3.1Z" fill="#acacac" stroke="#4e4e4e" stroke-width=".7"/><path d="M-49.4,-8.0 Q0,-18.5 49.4,-8.0" fill="none" stroke="#e4e4e4" stroke-width="1.4"/><path d="M-49.1,-5.4 Q0,-15.9 49.1,-5.4" fill="none" stroke="#747474" stroke-width="1"/><polygon points="48.9,-8.2 56,-24.5 44.2,-29.4 38,-13.6" fill="#a2a2a2" stroke="#505050" stroke-width=".6"/><polygon points="60.6,-27.4 59.2,-32.6 56.2,-33.8 55.4,-31.7 53.1,-32.6 53.9,-34.7 50.9,-35.9 50.1,-33.8 47.8,-34.7 48.6,-36.8 45.6,-38 42.6,-33 43.6,-29.8 56.4,-23.6" fill="#bcbcbc" stroke="#4c4c4c" stroke-width=".6"/><polygon points="49.6,-14.6 52.4,-21.2 49.4,-22.4 46.4,-16" fill="#3c3c3c"/><polygon points="55.6,-26.4 44.6,-31 44,-29.6 55,-25" fill="#4a4a4a"/><polygon points="-48.9,-8.2 -56,-24.5 -44.2,-29.4 -38,-13.6" fill="#a2a2a2" stroke="#505050" stroke-width=".6"/><polygon points="-60.6,-27.4 -59.2,-32.6 -56.2,-33.8 -55.4,-31.7 -53.1,-32.6 -53.9,-34.7 -50.9,-35.9 -50.1,-33.8 -47.8,-34.7 -48.6,-36.8 -45.6,-38 -42.6,-33 -43.6,-29.8 -56.4,-23.6" fill="#bcbcbc" stroke="#4c4c4c" stroke-width=".6"/><polygon points="-49.6,-14.6 -52.4,-21.2 -49.4,-22.4 -46.4,-16" fill="#3c3c3c"/><polygon points="-55.6,-26.4 -44.6,-31 -44,-29.6 -55,-25" fill="#4a4a4a"/><path d="M-27.8,-15 L-25.6,-36 H-10.8 L-8.6,-15Z" fill="#a6a6a6" stroke="#505050" stroke-width=".6"/><path d="M-29,-36 V-42.2 h3.3 v2.2 h2.8 v-2.2 h3.3 v2.2 h2.8 v-2.2 h3.3 v2.2 h2.8 v-2.2 h3.3 V-36Z" fill="#bababa" stroke="#4c4c4c" stroke-width=".6"/><rect x="-29" y="-37.8" width="21.6" height="1.6" fill="#6e6e6e"/><path d="M-21.8,-16.5 v-8 a3.6,4 0 0 1 7.2,0 v8Z" fill="#4e4e4e"/><path d="M-19.8,-16.8 v-7 a2.3,2.8 0 0 1 4.6,0 v7Z" fill="#cfcfcf"/><path d="M-19.2,-19h3.4M-19.2,-21.4h3.4M-19,-23.6h3" stroke="#777" stroke-width=".6" fill="none"/><rect x="-23.2" y="-34.2" width="1.7" height="3.4" fill="#222"/><rect x="-14.9" y="-34.2" width="1.7" height="3.4" fill="#222"/><path d="M8.6,-15 L10.8,-36 H25.6 L27.8,-15Z" fill="#a6a6a6" stroke="#505050" stroke-width=".6"/><path d="M7.4,-36 V-42.2 h3.3 v2.2 h2.8 v-2.2 h3.3 v2.2 h2.8 v-2.2 h3.3 v2.2 h2.8 v-2.2 h3.3 V-36Z" fill="#bababa" stroke="#4c4c4c" stroke-width=".6"/><rect x="7.4" y="-37.8" width="21.6" height="1.6" fill="#6e6e6e"/><path d="M14.6,-16.5 v-8 a3.6,4 0 0 1 7.2,0 v8Z" fill="#4e4e4e"/><path d="M16.6,-16.8 v-7 a2.3,2.8 0 0 1 4.6,0 v7Z" fill="#cfcfcf"/><path d="M17.2,-19h3.4M17.2,-21.4h3.4M17.4,-23.6h3" stroke="#777" stroke-width=".6" fill="none"/><rect x="13.2" y="-34.2" width="1.7" height="3.4" fill="#222"/><rect x="21.5" y="-34.2" width="1.7" height="3.4" fill="#222"/></g><path id="t6" d="M-62.56,67.61 A63.3,64.8 0 0 0 62.56,67.61" fill="none"/><text font-family="'Liberation Sans',sans-serif" font-size="18.5" font-weight="700" fill="#0c0c0c" text-anchor="middle" word-spacing="3"><textPath href="#t6" startOffset="50%" textLength="150.34" lengthAdjust="spacingAndGlyphs">VILA DE BOMBARRAL</textPath></text></g></svg>
<svg class="coa" style="left:1198.2px;top:2038px" width="210" height="250" viewBox="-105 -65 210 250"><g transform="scale(1)"><path d="M-65.97,51.5 A66.3,73.7 0 1 0 65.97,51.5 L46.54,60.5 A46.7,46.7 0 1 1 -46.54,60.5 Z" fill="#fff" stroke="#6f6f6f" stroke-width=".7"/><g transform="scale(-1,1)" fill="#fff" stroke="#6e6e6e" stroke-width=".7" stroke-linejoin="round"><path d="M-66.2,43.8 L-78.4,41.6 L-78.9,64.2 L-67.8,66 L-64.2,53 Z"/><path d="M-77.6,42 v5.6 M-77.6,57.6 v6 M-76.05,42.28 v5.6 M-76.05,57.84 v6 M-74.5,42.56 v5.6 M-74.5,58.08 v6 M-72.95,42.84 v5.6 M-72.95,58.32 v6 M-71.4,43.12 v5.6 M-71.4,58.56 v6 M-69.85,43.4 v5.6 M-69.85,58.8 v6 M-68.3,43.68 v5.6 M-68.3,59.04 v6 " fill="none" stroke-width=".55"/><path d="M-78.6,49.4 L-65.4,51.4 M-78.8,56.4 L-65.6,58" fill="none" stroke-width=".5"/><path d="M-63,45.5 C-58,48 -53,44 -54.5,40.5 L-51.5,31.5 C-53,28 -58,27 -62.5,21.8 C-58,20.5 -54,21 -52.5,19.5 C-49.5,16 -54,11.5 -57,14 C-59,16 -57,19 -54.5,19.8 M-62.5,21.8 C-66,26 -69,30 -68.2,32.5 C-65,35 -60,36 -57.5,38.5 C-60,41 -63,43 -63,45.5Z"/><path d="M-57.4,29.4 v8 M-56,30 v7.4 M-54.6,30.6 v6.4 M-53.4,31.2 v5 M-66,30.5 l3.4,2.4 M-64.4,27.8 l3.6,2.6 M-60.5,23.6 l3,1.8" fill="none" stroke-width=".5"/><path d="M-63,53.6 l.7,3 M-61,54.6 l.7,3 M-59,55.6 l.7,3 M-57,56.6 l.7,3 M-55,57.6 l.7,3 M-53,58.6 l.7,3 M-51,59.6 l.7,3 M-49,60.6 l.7,3 " fill="none" stroke-width=".55"/><path d="M-64.5,52.6 C-60,54.5 -54,57.6 -47.8,60.4" fill="none"/></g><g transform="scale(1,1)" fill="#fff" stroke="#6e6e6e" stroke-width=".7" stroke-linejoin="round"><path d="M-66.2,43.8 L-78.4,41.6 L-78.9,64.2 L-67.8,66 L-64.2,53 Z"/><path d="M-77.6,42 v5.6 M-77.6,57.6 v6 M-76.05,42.28 v5.6 M-76.05,57.84 v6 M-74.5,42.56 v5.6 M-74.5,58.08 v6 M-72.95,42.84 v5.6 M-72.95,58.32 v6 M-71.4,43.12 v5.6 M-71.4,58.56 v6 M-69.85,43.4 v5.6 M-69.85,58.8 v6 M-68.3,43.68 v5.6 M-68.3,59.04 v6 " fill="none" stroke-width=".55"/><path d="M-78.6,49.4 L-65.4,51.4 M-78.8,56.4 L-65.6,58" fill="none" stroke-width=".5"/><path d="M-63,45.5 C-58,48 -53,44 -54.5,40.5 L-51.5,31.5 C-53,28 -58,27 -62.5,21.8 C-58,20.5 -54,21 -52.5,19.5 C-49.5,16 -54,11.5 -57,14 C-59,16 -57,19 -54.5,19.8 M-62.5,21.8 C-66,26 -69,30 -68.2,32.5 C-65,35 -60,36 -57.5,38.5 C-60,41 -63,43 -63,45.5Z"/><path d="M-57.4,29.4 v8 M-56,30 v7.4 M-54.6,30.6 v6.4 M-53.4,31.2 v5 M-66,30.5 l3.4,2.4 M-64.4,27.8 l3.6,2.6 M-60.5,23.6 l3,1.8" fill="none" stroke-width=".5"/><path d="M-63,53.6 l.7,3 M-61,54.6 l.7,3 M-59,55.6 l.7,3 M-57,56.6 l.7,3 M-55,57.6 l.7,3 M-53,58.6 l.7,3 M-51,59.6 l.7,3 M-49,60.6 l.7,3 " fill="none" stroke-width=".55"/><path d="M-64.5,52.6 C-60,54.5 -54,57.6 -47.8,60.4" fill="none"/></g><defs><clipPath id="ct7"><path d="M-45,0H45V56.7A45,45 0 0 1 -45,56.7Z"/></clipPath><radialGradient id="sg7" cx="55%" cy="50%" r="65%"><stop offset="0" stop-color="#ececec"/><stop offset=".55" stop-color="#cfcfcf"/><stop offset="1" stop-color="#adadad"/></radialGradient></defs><path d="M-45,0H45V56.7A45,45 0 0 1 -45,56.7Z" fill="#0a0a12"/><g clip-path="url(#ct7)"><polygon points="-16.52,9.94 -14.89,7.92 -13,6.26 -10.96,4.83 -8.78,3.63 -6.5,2.65 -4.13,1.9 -1.7,1.41 0.76,1.18 3.24,1.22 5.71,1.52 8.13,2.09 10.49,2.92 12.75,4.01 14.9,5.35 16.9,6.91 18.75,8.68 20.41,10.65 21.87,12.79 23.12,15.07 24.15,17.47 24.94,19.97 25.49,22.54 25.77,25.18 25.64,27.95 25.64,27.95 23.67,26.95 21.93,25.93 20.25,24.96 18.62,24.06 17.04,23.22 15.5,22.42 13.99,21.65 12.52,20.91 11.07,20.17 9.63,19.44 8.19,18.71 6.74,17.96 5.26,17.21 3.74,16.44 2.17,15.67 0.52,14.9 -1.2,14.14 -3.03,13.4 -4.95,12.69 -6.99,12.04 -9.15,11.44 -11.44,10.92 -13.87,10.47 -16.52,9.94" fill="#bd8d1e" stroke="#1a1002" stroke-width="0.9" /><polyline points="-10.55,6.32 -8.38,5.52 -6.15,4.91 -3.88,4.49 -1.59,4.28 0.71,4.27 3,4.47 5.26,4.88 7.48,5.49 9.64,6.31 11.73,7.32 13.71,8.52 15.59,9.89 17.34,11.43 18.96,13.13 20.44,14.96 21.75,16.9 22.9,18.96 23.88,21.09" fill="none" stroke="#e3bd42" stroke-width="1.9" stroke-linecap="round"/><polyline points="-9.6,9.79 -7.44,9.93 -5.34,10.18 -3.3,10.52 -1.33,10.96 0.58,11.47 2.43,12.06 4.23,12.71 5.98,13.43 7.67,14.2 9.33,15.03 10.95,15.92 12.53,16.86 14.08,17.85 15.6,18.9 17.09,20.01 18.56,21.18 20,22.41 21.42,23.71" fill="none" stroke="#5e3f08" stroke-width="1.8" stroke-linecap="round"/><circle cx="-5.73" cy="7.67" r="1.5" fill="#3a2606"/><circle cx="-6.13" cy="7.27" r="0.7" fill="#e8c24a"/><circle cx="-3.58" cy="7.65" r="1.5" fill="#3a2606"/><circle cx="-3.98" cy="7.25" r="0.7" fill="#e8c24a"/><circle cx="-1.45" cy="7.78" r="1.5" fill="#3a2606"/><circle cx="-1.85" cy="7.38" r="0.7" fill="#e8c24a"/><circle cx="0.64" cy="8.04" r="1.5" fill="#3a2606"/><circle cx="0.24" cy="7.64" r="0.7" fill="#e8c24a"/><circle cx="2.7" cy="8.44" r="1.5" fill="#3a2606"/><circle cx="2.3" cy="8.04" r="0.7" fill="#e8c24a"/><circle cx="4.72" cy="8.98" r="1.5" fill="#3a2606"/><circle cx="4.32" cy="8.58" r="0.7" fill="#e8c24a"/><circle cx="6.69" cy="9.65" r="1.5" fill="#3a2606"/><circle cx="6.29" cy="9.25" r="0.7" fill="#e8c24a"/><circle cx="8.61" cy="10.44" r="1.5" fill="#3a2606"/><circle cx="8.21" cy="10.04" r="0.7" fill="#e8c24a"/><circle cx="10.47" cy="11.36" r="1.5" fill="#3a2606"/><circle cx="10.07" cy="10.96" r="0.7" fill="#e8c24a"/><polygon points="22.43,13.89 24.88,14.58 27.15,15.67 29.32,17.02 31.39,18.59 33.32,20.38 35.11,22.36 36.72,24.52 38.16,26.84 39.38,29.31 40.38,31.9 41.15,34.59 41.67,37.34 41.94,40.14 41.96,42.96 41.72,45.76 41.23,48.51 40.51,51.2 39.55,53.8 38.37,56.27 37,58.6 35.43,60.76 33.69,62.74 31.78,64.5 29.55,65.97 29.55,65.97 29.19,63.58 28.98,61.35 28.76,59.19 28.53,57.11 28.28,55.08 28.03,53.09 27.78,51.15 27.54,49.23 27.32,47.33 27.11,45.44 26.93,43.54 26.77,41.61 26.62,39.66 26.48,37.66 26.33,35.61 26.16,33.49 25.96,31.31 25.71,29.06 25.39,26.74 24.99,24.35 24.5,21.88 23.89,19.35 23.18,16.73 22.43,13.89" fill="#bd8d1e" stroke="#1a1002" stroke-width="0.9" /><polyline points="28.24,18.11 29.95,19.89 31.54,21.81 32.99,23.87 34.3,26.05 35.46,28.34 36.44,30.73 37.25,33.2 37.88,35.73 38.32,38.3 38.56,40.91 38.62,43.51 38.48,46.11 38.15,48.68 37.64,51.19 36.96,53.64 36.1,56 35.09,58.26 33.93,60.41" fill="none" stroke="#e3bd42" stroke-width="1.9" stroke-linecap="round"/><polyline points="25.71,20.67 26.59,22.91 27.37,25.15 28.06,27.39 28.65,29.62 29.16,31.83 29.59,34.03 29.95,36.22 30.25,38.39 30.5,40.55 30.69,42.69 30.83,44.82 30.92,46.94 30.96,49.05 30.96,51.16 30.91,53.27 30.8,55.37 30.64,57.48 30.43,59.59" fill="none" stroke="#5e3f08" stroke-width="1.8" stroke-linecap="round"/><circle cx="29.36" cy="23.56" r="1.5" fill="#3a2606"/><circle cx="28.96" cy="23.16" r="0.7" fill="#e8c24a"/><circle cx="30.41" cy="25.71" r="1.5" fill="#3a2606"/><circle cx="30.01" cy="25.31" r="0.7" fill="#e8c24a"/><circle cx="31.34" cy="27.92" r="1.5" fill="#3a2606"/><circle cx="30.94" cy="27.52" r="0.7" fill="#e8c24a"/><circle cx="32.16" cy="30.17" r="1.5" fill="#3a2606"/><circle cx="31.76" cy="29.77" r="0.7" fill="#e8c24a"/><circle cx="32.85" cy="32.46" r="1.5" fill="#3a2606"/><circle cx="32.45" cy="32.06" r="0.7" fill="#e8c24a"/><circle cx="33.43" cy="34.78" r="1.5" fill="#3a2606"/><circle cx="33.03" cy="34.38" r="0.7" fill="#e8c24a"/><circle cx="33.88" cy="37.12" r="1.5" fill="#3a2606"/><circle cx="33.48" cy="36.72" r="0.7" fill="#e8c24a"/><circle cx="34.22" cy="39.48" r="1.5" fill="#3a2606"/><circle cx="33.82" cy="39.08" r="0.7" fill="#e8c24a"/><circle cx="34.44" cy="41.84" r="1.5" fill="#3a2606"/><circle cx="34.04" cy="41.44" r="0.7" fill="#e8c24a"/><polygon points="38.95,54.95 39.77,57.66 40.15,60.4 40.28,63.18 40.17,65.97 39.82,68.73 39.24,71.45 38.43,74.11 37.39,76.66 36.14,79.1 34.68,81.38 33.02,83.5 31.18,85.42 29.19,87.13 27.06,88.61 24.82,89.85 22.49,90.83 20.1,91.55 17.68,92.01 15.25,92.2 12.85,92.13 10.49,91.79 8.2,91.2 6.01,90.33 3.91,89.01 3.91,89.01 5.52,87.62 7.06,86.42 8.52,85.23 9.91,84.05 11.24,82.86 12.53,81.68 13.78,80.5 15.02,79.33 16.25,78.16 17.49,77 18.74,75.83 20.03,74.65 21.36,73.45 22.74,72.22 24.16,70.94 25.64,69.6 27.16,68.18 28.73,66.67 30.35,65.05 31.99,63.31 33.65,61.44 35.34,59.43 37.05,57.26 38.95,54.95" fill="#bd8d1e" stroke="#1a1002" stroke-width="0.9" /><polyline points="38.79,62.79 38.33,65.37 37.69,67.9 36.88,70.38 35.89,72.77 34.75,75.07 33.44,77.26 31.99,79.32 30.4,81.24 28.67,83 26.84,84.59 24.91,86 22.89,87.22 20.81,88.24 18.68,89.06 16.52,89.68 14.35,90.1 12.19,90.31 10.05,90.32" fill="none" stroke="#e3bd42" stroke-width="1.9" stroke-linecap="round"/><polyline points="35.31,61.87 34.03,63.97 32.71,65.97 31.36,67.86 29.98,69.66 28.58,71.36 27.16,72.98 25.72,74.51 24.28,75.96 22.82,77.34 21.36,78.66 19.88,79.9 18.39,81.08 16.89,82.2 15.36,83.26 13.82,84.26 12.24,85.19 10.64,86.07 9.01,86.87" fill="none" stroke="#5e3f08" stroke-width="1.8" stroke-linecap="round"/><circle cx="35.08" cy="66.89" r="1.5" fill="#3a2606"/><circle cx="34.68" cy="66.49" r="0.7" fill="#e8c24a"/><circle cx="33.99" cy="69.06" r="1.5" fill="#3a2606"/><circle cx="33.59" cy="68.66" r="0.7" fill="#e8c24a"/><circle cx="32.8" cy="71.14" r="1.5" fill="#3a2606"/><circle cx="32.4" cy="70.74" r="0.7" fill="#e8c24a"/><circle cx="31.52" cy="73.13" r="1.5" fill="#3a2606"/><circle cx="31.12" cy="72.73" r="0.7" fill="#e8c24a"/><circle cx="30.15" cy="75.02" r="1.5" fill="#3a2606"/><circle cx="29.75" cy="74.62" r="0.7" fill="#e8c24a"/><circle cx="28.71" cy="76.8" r="1.5" fill="#3a2606"/><circle cx="28.31" cy="76.4" r="0.7" fill="#e8c24a"/><circle cx="27.19" cy="78.48" r="1.5" fill="#3a2606"/><circle cx="26.79" cy="78.08" r="0.7" fill="#e8c24a"/><circle cx="25.61" cy="80.04" r="1.5" fill="#3a2606"/><circle cx="25.21" cy="79.64" r="0.7" fill="#e8c24a"/><circle cx="23.97" cy="81.48" r="1.5" fill="#3a2606"/><circle cx="23.57" cy="81.08" r="0.7" fill="#e8c24a"/><polygon points="16.52,92.06 14.89,94.08 13,95.74 10.96,97.17 8.78,98.37 6.5,99.35 4.13,100.1 1.7,100.59 -0.76,100.82 -3.24,100.78 -5.71,100.48 -8.13,99.91 -10.49,99.08 -12.75,97.99 -14.9,96.65 -16.9,95.09 -18.75,93.32 -20.41,91.35 -21.87,89.21 -23.12,86.93 -24.15,84.53 -24.94,82.03 -25.49,79.46 -25.77,76.82 -25.64,74.05 -25.64,74.05 -23.67,75.05 -21.93,76.07 -20.25,77.04 -18.62,77.94 -17.04,78.78 -15.5,79.58 -13.99,80.35 -12.52,81.09 -11.07,81.83 -9.63,82.56 -8.19,83.29 -6.74,84.04 -5.26,84.79 -3.74,85.56 -2.17,86.33 -0.52,87.1 1.2,87.86 3.03,88.6 4.95,89.31 6.99,89.96 9.15,90.56 11.44,91.08 13.87,91.53 16.52,92.06" fill="#bd8d1e" stroke="#1a1002" stroke-width="0.9" /><polyline points="10.55,95.68 8.38,96.48 6.15,97.09 3.88,97.51 1.59,97.72 -0.71,97.73 -3,97.53 -5.26,97.12 -7.48,96.51 -9.64,95.69 -11.73,94.68 -13.71,93.48 -15.59,92.11 -17.34,90.57 -18.96,88.87 -20.44,87.04 -21.75,85.1 -22.9,83.04 -23.88,80.91" fill="none" stroke="#e3bd42" stroke-width="1.9" stroke-linecap="round"/><polyline points="9.6,92.21 7.44,92.07 5.34,91.82 3.3,91.48 1.33,91.04 -0.58,90.53 -2.43,89.94 -4.23,89.29 -5.98,88.57 -7.67,87.8 -9.33,86.97 -10.95,86.08 -12.53,85.14 -14.08,84.15 -15.6,83.1 -17.09,81.99 -18.56,80.82 -20,79.59 -21.42,78.29" fill="none" stroke="#5e3f08" stroke-width="1.8" stroke-linecap="round"/><circle cx="5.73" cy="94.33" r="1.5" fill="#3a2606"/><circle cx="5.33" cy="93.93" r="0.7" fill="#e8c24a"/><circle cx="3.58" cy="94.35" r="1.5" fill="#3a2606"/><circle cx="3.18" cy="93.95" r="0.7" fill="#e8c24a"/><circle cx="1.45" cy="94.22" r="1.5" fill="#3a2606"/><circle cx="1.05" cy="93.82" r="0.7" fill="#e8c24a"/><circle cx="-0.64" cy="93.96" r="1.5" fill="#3a2606"/><circle cx="-1.04" cy="93.56" r="0.7" fill="#e8c24a"/><circle cx="-2.7" cy="93.56" r="1.5" fill="#3a2606"/><circle cx="-3.1" cy="93.16" r="0.7" fill="#e8c24a"/><circle cx="-4.72" cy="93.02" r="1.5" fill="#3a2606"/><circle cx="-5.12" cy="92.62" r="0.7" fill="#e8c24a"/><circle cx="-6.69" cy="92.35" r="1.5" fill="#3a2606"/><circle cx="-7.09" cy="91.95" r="0.7" fill="#e8c24a"/><circle cx="-8.61" cy="91.56" r="1.5" fill="#3a2606"/><circle cx="-9.01" cy="91.16" r="0.7" fill="#e8c24a"/><circle cx="-10.47" cy="90.64" r="1.5" fill="#3a2606"/><circle cx="-10.87" cy="90.24" r="0.7" fill="#e8c24a"/><polygon points="-22.43,88.11 -24.88,87.42 -27.15,86.33 -29.32,84.98 -31.39,83.41 -33.32,81.62 -35.11,79.64 -36.72,77.48 -38.16,75.16 -39.38,72.69 -40.38,70.1 -41.15,67.41 -41.67,64.66 -41.94,61.86 -41.96,59.04 -41.72,56.24 -41.23,53.49 -40.51,50.8 -39.55,48.2 -38.37,45.73 -37,43.4 -35.43,41.24 -33.69,39.26 -31.78,37.5 -29.55,36.03 -29.55,36.03 -29.19,38.42 -28.98,40.65 -28.76,42.81 -28.53,44.89 -28.28,46.92 -28.03,48.91 -27.78,50.85 -27.54,52.77 -27.32,54.67 -27.11,56.56 -26.93,58.46 -26.77,60.39 -26.62,62.34 -26.48,64.34 -26.33,66.39 -26.16,68.51 -25.96,70.69 -25.71,72.94 -25.39,75.26 -24.99,77.65 -24.5,80.12 -23.89,82.65 -23.18,85.27 -22.43,88.11" fill="#bd8d1e" stroke="#1a1002" stroke-width="0.9" /><polyline points="-28.24,83.89 -29.95,82.11 -31.54,80.19 -32.99,78.13 -34.3,75.95 -35.46,73.66 -36.44,71.27 -37.25,68.8 -37.88,66.27 -38.32,63.7 -38.56,61.09 -38.62,58.49 -38.48,55.89 -38.15,53.32 -37.64,50.81 -36.96,48.36 -36.1,46 -35.09,43.74 -33.93,41.59" fill="none" stroke="#e3bd42" stroke-width="1.9" stroke-linecap="round"/><polyline points="-25.71,81.33 -26.59,79.09 -27.37,76.85 -28.06,74.61 -28.65,72.38 -29.16,70.17 -29.59,67.97 -29.95,65.78 -30.25,63.61 -30.5,61.45 -30.69,59.31 -30.83,57.18 -30.92,55.06 -30.96,52.95 -30.96,50.84 -30.91,48.73 -30.8,46.63 -30.64,44.52 -30.43,42.41" fill="none" stroke="#5e3f08" stroke-width="1.8" stroke-linecap="round"/><circle cx="-29.36" cy="78.44" r="1.5" fill="#3a2606"/><circle cx="-29.76" cy="78.04" r="0.7" fill="#e8c24a"/><circle cx="-30.41" cy="76.29" r="1.5" fill="#3a2606"/><circle cx="-30.81" cy="75.89" r="0.7" fill="#e8c24a"/><circle cx="-31.34" cy="74.08" r="1.5" fill="#3a2606"/><circle cx="-31.74" cy="73.68" r="0.7" fill="#e8c24a"/><circle cx="-32.16" cy="71.83" r="1.5" fill="#3a2606"/><circle cx="-32.56" cy="71.43" r="0.7" fill="#e8c24a"/><circle cx="-32.85" cy="69.54" r="1.5" fill="#3a2606"/><circle cx="-33.25" cy="69.14" r="0.7" fill="#e8c24a"/><circle cx="-33.43" cy="67.22" r="1.5" fill="#3a2606"/><circle cx="-33.83" cy="66.82" r="0.7" fill="#e8c24a"/><circle cx="-33.88" cy="64.88" r="1.5" fill="#3a2606"/><circle cx="-34.28" cy="64.48" r="0.7" fill="#e8c24a"/><circle cx="-34.22" cy="62.52" r="1.5" fill="#3a2606"/><circle cx="-34.62" cy="62.12" r="0.7" fill="#e8c24a"/><circle cx="-34.44" cy="60.16" r="1.5" fill="#3a2606"/><circle cx="-34.84" cy="59.76" r="0.7" fill="#e8c24a"/><polygon points="-38.95,47.05 -39.77,44.34 -40.15,41.6 -40.28,38.82 -40.17,36.03 -39.82,33.27 -39.24,30.55 -38.43,27.89 -37.39,25.34 -36.14,22.9 -34.68,20.62 -33.02,18.5 -31.18,16.58 -29.19,14.87 -27.06,13.39 -24.82,12.15 -22.49,11.17 -20.1,10.45 -17.68,9.99 -15.25,9.8 -12.85,9.87 -10.49,10.21 -8.2,10.8 -6.01,11.67 -3.91,12.99 -3.91,12.99 -5.52,14.38 -7.06,15.58 -8.52,16.77 -9.91,17.95 -11.24,19.14 -12.53,20.32 -13.78,21.5 -15.02,22.67 -16.25,23.84 -17.49,25 -18.74,26.17 -20.03,27.35 -21.36,28.55 -22.74,29.78 -24.16,31.06 -25.64,32.4 -27.16,33.82 -28.73,35.33 -30.35,36.95 -31.99,38.69 -33.65,40.56 -35.34,42.57 -37.05,44.74 -38.95,47.05" fill="#bd8d1e" stroke="#1a1002" stroke-width="0.9" /><polyline points="-38.79,39.21 -38.33,36.63 -37.69,34.1 -36.88,31.62 -35.89,29.23 -34.75,26.93 -33.44,24.74 -31.99,22.68 -30.4,20.76 -28.67,19 -26.84,17.41 -24.91,16 -22.89,14.78 -20.81,13.76 -18.68,12.94 -16.52,12.32 -14.35,11.9 -12.19,11.69 -10.05,11.68" fill="none" stroke="#e3bd42" stroke-width="1.9" stroke-linecap="round"/><polyline points="-35.31,40.13 -34.03,38.03 -32.71,36.03 -31.36,34.14 -29.98,32.34 -28.58,30.64 -27.16,29.02 -25.72,27.49 -24.28,26.04 -22.82,24.66 -21.36,23.34 -19.88,22.1 -18.39,20.92 -16.89,19.8 -15.36,18.74 -13.82,17.74 -12.24,16.81 -10.64,15.93 -9.01,15.13" fill="none" stroke="#5e3f08" stroke-width="1.8" stroke-linecap="round"/><circle cx="-35.08" cy="35.11" r="1.5" fill="#3a2606"/><circle cx="-35.48" cy="34.71" r="0.7" fill="#e8c24a"/><circle cx="-33.99" cy="32.94" r="1.5" fill="#3a2606"/><circle cx="-34.39" cy="32.54" r="0.7" fill="#e8c24a"/><circle cx="-32.8" cy="30.86" r="1.5" fill="#3a2606"/><circle cx="-33.2" cy="30.46" r="0.7" fill="#e8c24a"/><circle cx="-31.52" cy="28.87" r="1.5" fill="#3a2606"/><circle cx="-31.92" cy="28.47" r="0.7" fill="#e8c24a"/><circle cx="-30.15" cy="26.98" r="1.5" fill="#3a2606"/><circle cx="-30.55" cy="26.58" r="0.7" fill="#e8c24a"/><circle cx="-28.71" cy="25.2" r="1.5" fill="#3a2606"/><circle cx="-29.11" cy="24.8" r="0.7" fill="#e8c24a"/><circle cx="-27.19" cy="23.52" r="1.5" fill="#3a2606"/><circle cx="-27.59" cy="23.12" r="0.7" fill="#e8c24a"/><circle cx="-25.61" cy="21.96" r="1.5" fill="#3a2606"/><circle cx="-26.01" cy="21.56" r="0.7" fill="#e8c24a"/><circle cx="-23.97" cy="20.52" r="1.5" fill="#3a2606"/><circle cx="-24.37" cy="20.12" r="0.7" fill="#e8c24a"/><path d="M-19.8,29.7 H19.2 V54 C19.2,64 10,71.5 -0.3,74.2 C-10.6,71.5 -19.8,64 -19.8,54Z" fill="url(#sg7)" stroke="#777" stroke-width="0.6" /><polygon points="0,44.5 -3,42 -8,41 -13,43 -17.2,47 -15.5,50 -17,54 -13,55.5 -10,53.5 -6,55 -2,52" fill="#1f8a4c" stroke="#126b36" stroke-width="0.4" /><polygon points="0,44.5 3,42 8,41 13,43 17.2,47 15.5,50 17,54 13,55.5 10,53.5 6,55 2,52" fill="#1f8a4c" stroke="#126b36" stroke-width="0.4" /><path d="M-13,33.5 C-8,35 -3,37 0,44 C3,37 9,34.5 16,33.6" fill="none" stroke="#2a3a2a" stroke-width="0.8" /><g><circle cx="-4.54" cy="50.88" r="2.38" fill="#6e3a86" stroke="#44205a" stroke-width="0.3"/><circle cx="-5.07" cy="50.28" r="0.9" fill="#9468aa"/><circle cx="-0.98" cy="50.88" r="2.38" fill="#6e3a86" stroke="#44205a" stroke-width="0.3"/><circle cx="-1.5" cy="50.28" r="0.9" fill="#9468aa"/><circle cx="2.58" cy="50.88" r="2.38" fill="#6e3a86" stroke="#44205a" stroke-width="0.3"/><circle cx="2.06" cy="50.28" r="0.9" fill="#9468aa"/><circle cx="6.14" cy="50.88" r="2.38" fill="#6e3a86" stroke="#44205a" stroke-width="0.3"/><circle cx="5.62" cy="50.28" r="0.9" fill="#9468aa"/><circle cx="-6.33" cy="53.75" r="2.38" fill="#6e3a86" stroke="#44205a" stroke-width="0.3"/><circle cx="-6.85" cy="53.16" r="0.9" fill="#9468aa"/><circle cx="-2.76" cy="53.75" r="2.38" fill="#6e3a86" stroke="#44205a" stroke-width="0.3"/><circle cx="-3.29" cy="53.16" r="0.9" fill="#9468aa"/><circle cx="0.8" cy="53.75" r="2.38" fill="#6e3a86" stroke="#44205a" stroke-width="0.3"/><circle cx="0.28" cy="53.16" r="0.9" fill="#9468aa"/><circle cx="4.36" cy="53.75" r="2.38" fill="#6e3a86" stroke="#44205a" stroke-width="0.3"/><circle cx="3.84" cy="53.16" r="0.9" fill="#9468aa"/><circle cx="7.92" cy="53.75" r="2.38" fill="#6e3a86" stroke="#44205a" stroke-width="0.3"/><circle cx="7.4" cy="53.16" r="0.9" fill="#9468aa"/><circle cx="-4.54" cy="56.62" r="2.38" fill="#6e3a86" stroke="#44205a" stroke-width="0.3"/><circle cx="-5.07" cy="56.03" r="0.9" fill="#9468aa"/><circle cx="-0.98" cy="56.62" r="2.38" fill="#6e3a86" stroke="#44205a" stroke-width="0.3"/><circle cx="-1.5" cy="56.03" r="0.9" fill="#9468aa"/><circle cx="2.58" cy="56.62" r="2.38" fill="#6e3a86" stroke="#44205a" stroke-width="0.3"/><circle cx="2.06" cy="56.03" r="0.9" fill="#9468aa"/><circle cx="6.14" cy="56.62" r="2.38" fill="#6e3a86" stroke="#44205a" stroke-width="0.3"/><circle cx="5.62" cy="56.03" r="0.9" fill="#9468aa"/><circle cx="-2.76" cy="59.5" r="2.38" fill="#6e3a86" stroke="#44205a" stroke-width="0.3"/><circle cx="-3.29" cy="58.91" r="0.9" fill="#9468aa"/><circle cx="0.8" cy="59.5" r="2.38" fill="#6e3a86" stroke="#44205a" stroke-width="0.3"/><circle cx="0.28" cy="58.91" r="0.9" fill="#9468aa"/><circle cx="4.36" cy="59.5" r="2.38" fill="#6e3a86" stroke="#44205a" stroke-width="0.3"/><circle cx="3.84" cy="58.91" r="0.9" fill="#9468aa"/><circle cx="-2.76" cy="62.38" r="2.38" fill="#6e3a86" stroke="#44205a" stroke-width="0.3"/><circle cx="-3.29" cy="61.78" r="0.9" fill="#9468aa"/><circle cx="0.8" cy="62.38" r="2.38" fill="#6e3a86" stroke="#44205a" stroke-width="0.3"/><circle cx="0.28" cy="61.78" r="0.9" fill="#9468aa"/><circle cx="4.36" cy="62.38" r="2.38" fill="#6e3a86" stroke="#44205a" stroke-width="0.3"/><circle cx="3.84" cy="61.78" r="0.9" fill="#9468aa"/><circle cx="-0.98" cy="65.25" r="2.38" fill="#6e3a86" stroke="#44205a" stroke-width="0.3"/><circle cx="-1.5" cy="64.66" r="0.9" fill="#9468aa"/><circle cx="2.58" cy="65.25" r="2.38" fill="#6e3a86" stroke="#44205a" stroke-width="0.3"/><circle cx="2.06" cy="64.66" r="0.9" fill="#9468aa"/><circle cx="0.8" cy="68.12" r="2.38" fill="#6e3a86" stroke="#44205a" stroke-width="0.3"/><circle cx="0.28" cy="67.53" r="0.9" fill="#9468aa"/></g></g><path d="M-45,0H45V56.7A45,45 0 0 1 -45,56.7Z" fill="none" stroke="#222" stroke-width="0.8"/><g><path d="M-48.8,-3.2Q0,-13.6 48.8,-3.2L45,0.6H-45Z" fill="#fff"/><path d="M-49.5,-10 L-40.5,-27.8 h2.07 v1.7 h2.07 v-1.7 h2.07 v1.7 h2.07 v-1.7 h2.07 v1.7 h2.07 v-1.7 h2.07 L-26,-14 H-9.5 V-31.4 h2.11 v1.7 h2.11 v-1.7 h2.11 v1.7 h2.11 v-1.7 h2.11 v1.7 h2.11 v-1.7 h2.11 v1.7 h2.11 v-1.7 h2.11 V-14 H26 V-27.8 h2.07 v1.7 h2.07 v-1.7 h2.07 v1.7 h2.07 v-1.7 h2.07 v1.7 h2.07 v-1.7 h2.07 L49.5,-10 Q0,-20.5 -49.5,-10Z" fill="#989898" stroke="#5a5a5a" stroke-width=".6"/><clipPath id="cw4"><path d="M-49.5,-10 L-40.5,-27.8 h2.07 v1.7 h2.07 v-1.7 h2.07 v1.7 h2.07 v-1.7 h2.07 v1.7 h2.07 v-1.7 h2.07 L-26,-14 H-9.5 V-31.4 h2.11 v1.7 h2.11 v-1.7 h2.11 v1.7 h2.11 v-1.7 h2.11 v1.7 h2.11 v-1.7 h2.11 v1.7 h2.11 v-1.7 h2.11 V-14 H26 V-27.8 h2.07 v1.7 h2.07 v-1.7 h2.07 v1.7 h2.07 v-1.7 h2.07 v1.7 h2.07 v-1.7 h2.07 L49.5,-10 Q0,-20.5 -49.5,-10Z"/></clipPath><path d="M-45,-20.8 Q0,-31.2 45,-20.8 M-45,-18 Q0,-28.4 45,-18 M-45,-15.2 Q0,-25.6 45,-15.2 M-45,-12.4 Q0,-22.8 45,-12.4 M-45,-9.6 Q0,-20 45,-9.6 M-44,-12 v-20 M-40.7,-12 v-20 M-39.6,-12 v-20 M-36.3,-12 v-20 M-35.2,-12 v-20 M-31.9,-12 v-20 M-30.8,-12 v-20 M-27.5,-12 v-20 M-26.4,-12 v-20 M-23.1,-12 v-20 M-22,-12 v-20 M-18.7,-12 v-20 M-17.6,-12 v-20 M-14.3,-12 v-20 M-13.2,-12 v-20 M-9.9,-12 v-20 M-8.8,-12 v-20 M-5.5,-12 v-20 M-4.4,-12 v-20 M-1.1,-12 v-20 M0,-12 v-20 M3.3,-12 v-20 M4.4,-12 v-20 M7.7,-12 v-20 M8.8,-12 v-20 M12.1,-12 v-20 M13.2,-12 v-20 M16.5,-12 v-20 M17.6,-12 v-20 M20.9,-12 v-20 M22,-12 v-20 M25.3,-12 v-20 M26.4,-12 v-20 M29.7,-12 v-20 M30.8,-12 v-20 M34.1,-12 v-20 M35.2,-12 v-20 M38.5,-12 v-20 M39.6,-12 v-20 M42.9,-12 v-20 M44,-12 v-20 " fill="none" stroke="#6c6c6c" stroke-width=".5" clip-path="url(#cw4)"/><path d="M-49.8,-10.4 Q0,-21 49.8,-10.4 L48.9,-3.1 Q0,-13.6 -48.9,-3.1Z" fill="#acacac" stroke="#4e4e4e" stroke-width=".7"/><path d="M-49.4,-8.0 Q0,-18.5 49.4,-8.0" fill="none" stroke="#e4e4e4" stroke-width="1.4"/><path d="M-49.1,-5.4 Q0,-15.9 49.1,-5.4" fill="none" stroke="#747474" stroke-width="1"/><polygon points="48.9,-8.2 56,-24.5 44.2,-29.4 38,-13.6" fill="#a2a2a2" stroke="#505050" stroke-width=".6"/><polygon points="60.6,-27.4 59.2,-32.6 56.2,-33.8 55.4,-31.7 53.1,-32.6 53.9,-34.7 50.9,-35.9 50.1,-33.8 47.8,-34.7 48.6,-36.8 45.6,-38 42.6,-33 43.6,-29.8 56.4,-23.6" fill="#bcbcbc" stroke="#4c4c4c" stroke-width=".6"/><polygon points="49.6,-14.6 52.4,-21.2 49.4,-22.4 46.4,-16" fill="#3c3c3c"/><polygon points="55.6,-26.4 44.6,-31 44,-29.6 55,-25" fill="#4a4a4a"/><polygon points="-48.9,-8.2 -56,-24.5 -44.2,-29.4 -38,-13.6" fill="#a2a2a2" stroke="#505050" stroke-width=".6"/><polygon points="-60.6,-27.4 -59.2,-32.6 -56.2,-33.8 -55.4,-31.7 -53.1,-32.6 -53.9,-34.7 -50.9,-35.9 -50.1,-33.8 -47.8,-34.7 -48.6,-36.8 -45.6,-38 -42.6,-33 -43.6,-29.8 -56.4,-23.6" fill="#bcbcbc" stroke="#4c4c4c" stroke-width=".6"/><polygon points="-49.6,-14.6 -52.4,-21.2 -49.4,-22.4 -46.4,-16" fill="#3c3c3c"/><polygon points="-55.6,-26.4 -44.6,-31 -44,-29.6 -55,-25" fill="#4a4a4a"/><path d="M-27.8,-15 L-25.6,-36 H-10.8 L-8.6,-15Z" fill="#a6a6a6" stroke="#505050" stroke-width=".6"/><path d="M-29,-36 V-42.2 h3.3 v2.2 h2.8 v-2.2 h3.3 v2.2 h2.8 v-2.2 h3.3 v2.2 h2.8 v-2.2 h3.3 V-36Z" fill="#bababa" stroke="#4c4c4c" stroke-width=".6"/><rect x="-29" y="-37.8" width="21.6" height="1.6" fill="#6e6e6e"/><path d="M-21.8,-16.5 v-8 a3.6,4 0 0 1 7.2,0 v8Z" fill="#4e4e4e"/><path d="M-19.8,-16.8 v-7 a2.3,2.8 0 0 1 4.6,0 v7Z" fill="#cfcfcf"/><path d="M-19.2,-19h3.4M-19.2,-21.4h3.4M-19,-23.6h3" stroke="#777" stroke-width=".6" fill="none"/><rect x="-23.2" y="-34.2" width="1.7" height="3.4" fill="#222"/><rect x="-14.9" y="-34.2" width="1.7" height="3.4" fill="#222"/><path d="M8.6,-15 L10.8,-36 H25.6 L27.8,-15Z" fill="#a6a6a6" stroke="#505050" stroke-width=".6"/><path d="M7.4,-36 V-42.2 h3.3 v2.2 h2.8 v-2.2 h3.3 v2.2 h2.8 v-2.2 h3.3 v2.2 h2.8 v-2.2 h3.3 V-36Z" fill="#bababa" stroke="#4c4c4c" stroke-width=".6"/><rect x="7.4" y="-37.8" width="21.6" height="1.6" fill="#6e6e6e"/><path d="M14.6,-16.5 v-8 a3.6,4 0 0 1 7.2,0 v8Z" fill="#4e4e4e"/><path d="M16.6,-16.8 v-7 a2.3,2.8 0 0 1 4.6,0 v7Z" fill="#cfcfcf"/><path d="M17.2,-19h3.4M17.2,-21.4h3.4M17.4,-23.6h3" stroke="#777" stroke-width=".6" fill="none"/><rect x="13.2" y="-34.2" width="1.7" height="3.4" fill="#222"/><rect x="21.5" y="-34.2" width="1.7" height="3.4" fill="#222"/></g><path id="t7" d="M-62.14,71.48 A63.3,72.2 0 0 0 61.73,73.67" fill="none"/><text font-family="'Liberation Sans',sans-serif" font-size="21.5" font-weight="700" fill="#0c0c0c" text-anchor="middle" word-spacing="3"><textPath href="#t7" startOffset="50%" textLength="151.67" lengthAdjust="spacingAndGlyphs">VILA DO CADAVAL</textPath></text></g></svg>
<svg class="coa" style="left:1389.9px;top:2038px" width="210" height="250" viewBox="-105 -65 210 250"><g transform="scale(1)"><path d="M-65.98,51.5 A66.3,74.1 0 1 0 65.98,51.5 L46.54,60.5 A46.7,46.7 0 1 1 -46.54,60.5 Z" fill="#fff" stroke="#6f6f6f" stroke-width=".7"/><g transform="scale(-1,1)" fill="#fff" stroke="#6e6e6e" stroke-width=".7" stroke-linejoin="round"><path d="M-66.2,43.8 L-78.4,41.6 L-78.9,64.2 L-67.8,66 L-64.2,53 Z"/><path d="M-77.6,42 v5.6 M-77.6,57.6 v6 M-76.05,42.28 v5.6 M-76.05,57.84 v6 M-74.5,42.56 v5.6 M-74.5,58.08 v6 M-72.95,42.84 v5.6 M-72.95,58.32 v6 M-71.4,43.12 v5.6 M-71.4,58.56 v6 M-69.85,43.4 v5.6 M-69.85,58.8 v6 M-68.3,43.68 v5.6 M-68.3,59.04 v6 " fill="none" stroke-width=".55"/><path d="M-78.6,49.4 L-65.4,51.4 M-78.8,56.4 L-65.6,58" fill="none" stroke-width=".5"/><path d="M-63,45.5 C-58,48 -53,44 -54.5,40.5 L-51.5,31.5 C-53,28 -58,27 -62.5,21.8 C-58,20.5 -54,21 -52.5,19.5 C-49.5,16 -54,11.5 -57,14 C-59,16 -57,19 -54.5,19.8 M-62.5,21.8 C-66,26 -69,30 -68.2,32.5 C-65,35 -60,36 -57.5,38.5 C-60,41 -63,43 -63,45.5Z"/><path d="M-57.4,29.4 v8 M-56,30 v7.4 M-54.6,30.6 v6.4 M-53.4,31.2 v5 M-66,30.5 l3.4,2.4 M-64.4,27.8 l3.6,2.6 M-60.5,23.6 l3,1.8" fill="none" stroke-width=".5"/><path d="M-63,53.6 l.7,3 M-61,54.6 l.7,3 M-59,55.6 l.7,3 M-57,56.6 l.7,3 M-55,57.6 l.7,3 M-53,58.6 l.7,3 M-51,59.6 l.7,3 M-49,60.6 l.7,3 " fill="none" stroke-width=".55"/><path d="M-64.5,52.6 C-60,54.5 -54,57.6 -47.8,60.4" fill="none"/></g><g transform="scale(1,1)" fill="#fff" stroke="#6e6e6e" stroke-width=".7" stroke-linejoin="round"><path d="M-66.2,43.8 L-78.4,41.6 L-78.9,64.2 L-67.8,66 L-64.2,53 Z"/><path d="M-77.6,42 v5.6 M-77.6,57.6 v6 M-76.05,42.28 v5.6 M-76.05,57.84 v6 M-74.5,42.56 v5.6 M-74.5,58.08 v6 M-72.95,42.84 v5.6 M-72.95,58.32 v6 M-71.4,43.12 v5.6 M-71.4,58.56 v6 M-69.85,43.4 v5.6 M-69.85,58.8 v6 M-68.3,43.68 v5.6 M-68.3,59.04 v6 " fill="none" stroke-width=".55"/><path d="M-78.6,49.4 L-65.4,51.4 M-78.8,56.4 L-65.6,58" fill="none" stroke-width=".5"/><path d="M-63,45.5 C-58,48 -53,44 -54.5,40.5 L-51.5,31.5 C-53,28 -58,27 -62.5,21.8 C-58,20.5 -54,21 -52.5,19.5 C-49.5,16 -54,11.5 -57,14 C-59,16 -57,19 -54.5,19.8 M-62.5,21.8 C-66,26 -69,30 -68.2,32.5 C-65,35 -60,36 -57.5,38.5 C-60,41 -63,43 -63,45.5Z"/><path d="M-57.4,29.4 v8 M-56,30 v7.4 M-54.6,30.6 v6.4 M-53.4,31.2 v5 M-66,30.5 l3.4,2.4 M-64.4,27.8 l3.6,2.6 M-60.5,23.6 l3,1.8" fill="none" stroke-width=".5"/><path d="M-63,53.6 l.7,3 M-61,54.6 l.7,3 M-59,55.6 l.7,3 M-57,56.6 l.7,3 M-55,57.6 l.7,3 M-53,58.6 l.7,3 M-51,59.6 l.7,3 M-49,60.6 l.7,3 " fill="none" stroke-width=".55"/><path d="M-64.5,52.6 C-60,54.5 -54,57.6 -47.8,60.4" fill="none"/></g><defs><clipPath id="ct8"><path d="M-45,0H45V56.7A45,45 0 0 1 -45,56.7Z"/></clipPath></defs><path d="M-45,0H45V56.7A45,45 0 0 1 -45,56.7Z" fill="#e4473f"/><g clip-path="url(#ct8)"><path d="M-46,95 C-30,90 -15,89.5 0,90.5 C15,89.5 30,90 46,93 V110 H-46Z" fill="#0c1a12" /><path d="M-25,96 C-15,93 -8,97 0,95 S15,93 24,96 M-12,99.5 C-4,98 4,100 12,98.5" fill="none" stroke="#2b7a50" stroke-width="1.2" /><path d="M-3.6,55 C-3,68 -4,80 -7.2,91.4 H8.6 C5,80 4,68 4.4,55Z" fill="#1b5a3a" stroke="#030806" stroke-width="1.3" /><path d="M0,58 C1.5,68 -1,78 1,90" fill="none" stroke="#06140c" stroke-width="0.7" /><path d="M-0.3,7.3 C4,9 8,16 12,24 C18,34 28,40 33,45.5 C36,50 33.5,54.5 27,54.5 C18,54.5 10,53.5 5.5,56.5 H-4.5 C-9,53.5 -18,54.5 -26,54.5 C-32.5,54.5 -35,50 -32,45.5 C-27,40 -17,34 -12,24 C-8,16 -4.5,9 -0.3,7.3Z" fill="#174a30" stroke="#030806" stroke-width="1.6" /><path d="M-7.8,26.31 q0.6,-2.39 3.34,-0.09 M0.08,16.2 q-1.85,-1.85 2.17,-0.77 M8.75,30.13 q-1.5,-2.17 3.57,1.37 M-3.46,35.93 q1.91,-2.43 4.15,-0.28 M-5.52,19.48 q-0.77,-1.28 2.45,0.45 M-4.62,38.28 q0.19,-2.41 2.15,-0.49 M-2.75,39.86 q-0.74,-1.62 3.13,-0.25 M8.56,44.19 q-1.02,-1.64 3.31,1.19 M-8.52,41.72 q1.92,-2.32 3.05,0.89 M-0.16,19.78 q-1.84,-1.5 3.91,0.43 M-8.68,47.27 q0.78,-1.61 3.45,0.14 M20.03,45.92 q-0.1,-1.5 2.15,0.75 M18.03,38.59 q1.29,-2.07 2.96,0.67 M-0.35,14.86 q-1.33,-2.32 2.15,0.92 M-3.48,18.91 q-0.44,-1.19 2.2,0.12 M12.37,34.88 q1.28,-1.2 2.7,0.04 M9.18,27.63 q1.83,-2.27 2.44,-0.42 M-0.28,22.87 q0.36,-2.11 2.01,0.05 M1.61,28.03 q1.81,-1.46 3.29,0.54 M-16.88,39.7 q1.6,-1.33 4.19,0.99 M-2.56,28.91 q-1.59,-1.55 2.16,-0.83 M-5.84,21.93 q-0.64,-2.42 2,-0.62 M-1.71,17.86 q-1.9,-1.19 3.54,-0.63 M-2.93,23.59 q-0.54,-2.32 4.12,1.48 M-0.46,31.71 q-1.66,-2.35 2.86,-0.34 M-15.09,45.5 q-1.91,-1.07 3.32,-0.63 M-15.13,34.64 q0.11,-1.03 4.16,0.74 M-2.61,23.92 q-1.33,-1.34 3.33,0.95 M-6.26,26.53 q1.25,-1.02 4.13,1.02 M10.58,45.1 q-1.09,-1.72 2.89,-0.93 M-2.06,15.06 q-0.96,-1.46 4.39,0.12 M24.07,49.61 q1.82,-1.95 2.55,-0.43 M-4.95,21.47 q0.5,-1.15 4.1,0.2 M11.03,38.81 q-1.66,-1.51 4.27,0.96 M-0.9,42.51 q-1.29,-1.32 2.83,1 M-5.3,50.92 q-0.39,-1.08 3.81,-0.57 M-4.78,18.83 q1.62,-1.29 2.37,1.07 M8.06,51.25 q-0.6,-1.68 2.33,-0.96 M7.6,50.89 q0.11,-1.1 3.08,1.18 M-12.84,45.39 q-0.99,-2.06 2.6,0.47 M-1.58,23.86 q-1.48,-1.13 2.88,0.15 M13.65,36.17 q-0.32,-1.12 3.25,0.33 M-14.98,33.89 q-0.24,-2.23 2.01,1 M-0.42,20.55 q0.9,-1.67 2.81,0.3 " fill="none" stroke="#020604" stroke-width="1.5" /><circle cx="8.77" cy="33.66" r="0.75" fill="#e2b84a"/><circle cx="0.64" cy="16.14" r="0.75" fill="#e2b84a"/><circle cx="-3.79" cy="21.69" r="0.75" fill="#e2b84a"/><circle cx="0.31" cy="42.12" r="0.75" fill="#e2b84a"/><circle cx="8.1" cy="33.91" r="0.75" fill="#e2b84a"/><circle cx="-2.67" cy="47.59" r="0.75" fill="#e2b84a"/><circle cx="0.19" cy="35.89" r="0.75" fill="#e2b84a"/><circle cx="5.57" cy="31.97" r="0.75" fill="#e2b84a"/><circle cx="0.87" cy="29.64" r="0.75" fill="#e2b84a"/><circle cx="12.08" cy="30.64" r="0.75" fill="#e2b84a"/><circle cx="14.06" cy="39.27" r="0.75" fill="#e2b84a"/><circle cx="-11.62" cy="48.75" r="0.75" fill="#e2b84a"/><circle cx="13.76" cy="33.82" r="0.75" fill="#e2b84a"/><circle cx="-15.86" cy="44.76" r="0.75" fill="#e2b84a"/><circle cx="-0.65" cy="16.74" r="0.75" fill="#e2b84a"/><circle cx="-2.35" cy="14.83" r="0.75" fill="#e2b84a"/><circle cx="1.54" cy="14.85" r="0.75" fill="#e2b84a"/><circle cx="16.35" cy="42.57" r="0.75" fill="#e2b84a"/><circle cx="2.76" cy="18.02" r="0.75" fill="#e2b84a"/><circle cx="-12.71" cy="37.75" r="0.75" fill="#e2b84a"/><circle cx="21.34" cy="46.43" r="0.75" fill="#e2b84a"/><circle cx="7.1" cy="20.56" r="0.75" fill="#e2b84a"/><path d="M-8,-7.83 A11.2,11.2 0 1 0 8,-7.83 A8.96,8.96 0 1 1 -8,-7.83 Z" transform="translate(-28.6,17.4) rotate(90)" fill="#c9ccd0" stroke="#7d7d7d" stroke-width="0.5"/><polygon points="39.8,17.9 34.86,19.34 38.87,22.57 33.75,22.01 36.23,26.53 31.71,24.05 32.27,29.17 29.04,25.16 27.6,30.1 26.16,25.16 22.93,29.17 23.49,24.05 18.97,26.53 21.45,22.01 16.33,22.57 20.34,19.34 15.4,17.9 20.34,16.46 16.33,13.23 21.45,13.79 18.97,9.27 23.49,11.75 22.93,6.63 26.16,10.64 27.6,5.7 29.04,10.64 32.27,6.63 31.71,11.75 36.23,9.27 33.75,13.79 38.87,13.23 34.86,16.46" fill="#e3b93c" stroke="#8a6510" stroke-width="0.4" /><circle cx="27.6" cy="17.9" r="6.6" fill="#ecc94a" stroke="#7a5c10" stroke-width="0.5"/><circle cx="25.3" cy="16.6" r="1.25" fill="#2a1a08"/><circle cx="30" cy="16.6" r="1.25" fill="#2a1a08"/><rect x="26.5" y="21.2" width="2.4" height="1" fill="#2a1a08" /><path d="M0,-8 C2.2,-5.5 2.4,-2.5 1.2,0 C2,-2.5 4,-4.5 6,-4 C8,-3.4 8,0 6,.8 C5,1.2 4.2,.6 4.4,-.2 C3.2,.4 2.6,1.8 2.4,3 H3 V4.4 H1.6 C2,6 3,7 4,7.4 C2.6,8.4 1,8 0,6.6 C-1,8 -2.6,8.4 -4,7.4 C-3,7 -2,6 -1.6,4.4 H-3 V3 H-2.4 C-2.6,1.8 -3.2,.4 -4.4,-.2 C-4.2,.6 -5,1.2 -6,.8 C-8,0 -8,-3.4 -6,-4 C-4,-4.5 -2,-2.5 -1.2,0 C-2.4,-2.5 -2.2,-5.5 0,-8Z" transform="translate(-24,70.6) scale(1.62)" fill="#d9b73a" stroke="#7a5c10" stroke-width="0.31"/><path d="M0,-8 C2.2,-5.5 2.4,-2.5 1.2,0 C2,-2.5 4,-4.5 6,-4 C8,-3.4 8,0 6,.8 C5,1.2 4.2,.6 4.4,-.2 C3.2,.4 2.6,1.8 2.4,3 H3 V4.4 H1.6 C2,6 3,7 4,7.4 C2.6,8.4 1,8 0,6.6 C-1,8 -2.6,8.4 -4,7.4 C-3,7 -2,6 -1.6,4.4 H-3 V3 H-2.4 C-2.6,1.8 -3.2,.4 -4.4,-.2 C-4.2,.6 -5,1.2 -6,.8 C-8,0 -8,-3.4 -6,-4 C-4,-4.5 -2,-2.5 -1.2,0 C-2.4,-2.5 -2.2,-5.5 0,-8Z" transform="translate(24.1,70.6) scale(1.62)" fill="#d9b73a" stroke="#7a5c10" stroke-width="0.31"/></g><path d="M-45,0H45V56.7A45,45 0 0 1 -45,56.7Z" fill="none" stroke="#555" stroke-width="0.8"/><g><path d="M-48.8,-3.2Q0,-13.6 48.8,-3.2L45,0.6H-45Z" fill="#fff"/><path d="M-49.5,-10 L-40.5,-27.8 h2.07 v1.7 h2.07 v-1.7 h2.07 v1.7 h2.07 v-1.7 h2.07 v1.7 h2.07 v-1.7 h2.07 L-26,-14 H-9.5 V-31.4 h2.11 v1.7 h2.11 v-1.7 h2.11 v1.7 h2.11 v-1.7 h2.11 v1.7 h2.11 v-1.7 h2.11 v1.7 h2.11 v-1.7 h2.11 V-14 H26 V-27.8 h2.07 v1.7 h2.07 v-1.7 h2.07 v1.7 h2.07 v-1.7 h2.07 v1.7 h2.07 v-1.7 h2.07 L49.5,-10 Q0,-20.5 -49.5,-10Z" fill="#989898" stroke="#5a5a5a" stroke-width=".6"/><clipPath id="cw4"><path d="M-49.5,-10 L-40.5,-27.8 h2.07 v1.7 h2.07 v-1.7 h2.07 v1.7 h2.07 v-1.7 h2.07 v1.7 h2.07 v-1.7 h2.07 L-26,-14 H-9.5 V-31.4 h2.11 v1.7 h2.11 v-1.7 h2.11 v1.7 h2.11 v-1.7 h2.11 v1.7 h2.11 v-1.7 h2.11 v1.7 h2.11 v-1.7 h2.11 V-14 H26 V-27.8 h2.07 v1.7 h2.07 v-1.7 h2.07 v1.7 h2.07 v-1.7 h2.07 v1.7 h2.07 v-1.7 h2.07 L49.5,-10 Q0,-20.5 -49.5,-10Z"/></clipPath><path d="M-45,-20.8 Q0,-31.2 45,-20.8 M-45,-18 Q0,-28.4 45,-18 M-45,-15.2 Q0,-25.6 45,-15.2 M-45,-12.4 Q0,-22.8 45,-12.4 M-45,-9.6 Q0,-20 45,-9.6 M-44,-12 v-20 M-40.7,-12 v-20 M-39.6,-12 v-20 M-36.3,-12 v-20 M-35.2,-12 v-20 M-31.9,-12 v-20 M-30.8,-12 v-20 M-27.5,-12 v-20 M-26.4,-12 v-20 M-23.1,-12 v-20 M-22,-12 v-20 M-18.7,-12 v-20 M-17.6,-12 v-20 M-14.3,-12 v-20 M-13.2,-12 v-20 M-9.9,-12 v-20 M-8.8,-12 v-20 M-5.5,-12 v-20 M-4.4,-12 v-20 M-1.1,-12 v-20 M0,-12 v-20 M3.3,-12 v-20 M4.4,-12 v-20 M7.7,-12 v-20 M8.8,-12 v-20 M12.1,-12 v-20 M13.2,-12 v-20 M16.5,-12 v-20 M17.6,-12 v-20 M20.9,-12 v-20 M22,-12 v-20 M25.3,-12 v-20 M26.4,-12 v-20 M29.7,-12 v-20 M30.8,-12 v-20 M34.1,-12 v-20 M35.2,-12 v-20 M38.5,-12 v-20 M39.6,-12 v-20 M42.9,-12 v-20 M44,-12 v-20 " fill="none" stroke="#6c6c6c" stroke-width=".5" clip-path="url(#cw4)"/><path d="M-49.8,-10.4 Q0,-21 49.8,-10.4 L48.9,-3.1 Q0,-13.6 -48.9,-3.1Z" fill="#acacac" stroke="#4e4e4e" stroke-width=".7"/><path d="M-49.4,-8.0 Q0,-18.5 49.4,-8.0" fill="none" stroke="#e4e4e4" stroke-width="1.4"/><path d="M-49.1,-5.4 Q0,-15.9 49.1,-5.4" fill="none" stroke="#747474" stroke-width="1"/><polygon points="48.9,-8.2 56,-24.5 44.2,-29.4 38,-13.6" fill="#a2a2a2" stroke="#505050" stroke-width=".6"/><polygon points="60.6,-27.4 59.2,-32.6 56.2,-33.8 55.4,-31.7 53.1,-32.6 53.9,-34.7 50.9,-35.9 50.1,-33.8 47.8,-34.7 48.6,-36.8 45.6,-38 42.6,-33 43.6,-29.8 56.4,-23.6" fill="#bcbcbc" stroke="#4c4c4c" stroke-width=".6"/><polygon points="49.6,-14.6 52.4,-21.2 49.4,-22.4 46.4,-16" fill="#3c3c3c"/><polygon points="55.6,-26.4 44.6,-31 44,-29.6 55,-25" fill="#4a4a4a"/><polygon points="-48.9,-8.2 -56,-24.5 -44.2,-29.4 -38,-13.6" fill="#a2a2a2" stroke="#505050" stroke-width=".6"/><polygon points="-60.6,-27.4 -59.2,-32.6 -56.2,-33.8 -55.4,-31.7 -53.1,-32.6 -53.9,-34.7 -50.9,-35.9 -50.1,-33.8 -47.8,-34.7 -48.6,-36.8 -45.6,-38 -42.6,-33 -43.6,-29.8 -56.4,-23.6" fill="#bcbcbc" stroke="#4c4c4c" stroke-width=".6"/><polygon points="-49.6,-14.6 -52.4,-21.2 -49.4,-22.4 -46.4,-16" fill="#3c3c3c"/><polygon points="-55.6,-26.4 -44.6,-31 -44,-29.6 -55,-25" fill="#4a4a4a"/><path d="M-27.8,-15 L-25.6,-36 H-10.8 L-8.6,-15Z" fill="#a6a6a6" stroke="#505050" stroke-width=".6"/><path d="M-29,-36 V-42.2 h3.3 v2.2 h2.8 v-2.2 h3.3 v2.2 h2.8 v-2.2 h3.3 v2.2 h2.8 v-2.2 h3.3 V-36Z" fill="#bababa" stroke="#4c4c4c" stroke-width=".6"/><rect x="-29" y="-37.8" width="21.6" height="1.6" fill="#6e6e6e"/><path d="M-21.8,-16.5 v-8 a3.6,4 0 0 1 7.2,0 v8Z" fill="#4e4e4e"/><path d="M-19.8,-16.8 v-7 a2.3,2.8 0 0 1 4.6,0 v7Z" fill="#cfcfcf"/><path d="M-19.2,-19h3.4M-19.2,-21.4h3.4M-19,-23.6h3" stroke="#777" stroke-width=".6" fill="none"/><rect x="-23.2" y="-34.2" width="1.7" height="3.4" fill="#222"/><rect x="-14.9" y="-34.2" width="1.7" height="3.4" fill="#222"/><path d="M8.6,-15 L10.8,-36 H25.6 L27.8,-15Z" fill="#a6a6a6" stroke="#505050" stroke-width=".6"/><path d="M7.4,-36 V-42.2 h3.3 v2.2 h2.8 v-2.2 h3.3 v2.2 h2.8 v-2.2 h3.3 v2.2 h2.8 v-2.2 h3.3 V-36Z" fill="#bababa" stroke="#4c4c4c" stroke-width=".6"/><rect x="7.4" y="-37.8" width="21.6" height="1.6" fill="#6e6e6e"/><path d="M14.6,-16.5 v-8 a3.6,4 0 0 1 7.2,0 v8Z" fill="#4e4e4e"/><path d="M16.6,-16.8 v-7 a2.3,2.8 0 0 1 4.6,0 v7Z" fill="#cfcfcf"/><path d="M17.2,-19h3.4M17.2,-21.4h3.4M17.4,-23.6h3" stroke="#777" stroke-width=".6" fill="none"/><rect x="13.2" y="-34.2" width="1.7" height="3.4" fill="#222"/><rect x="21.5" y="-34.2" width="1.7" height="3.4" fill="#222"/></g><path id="t8" d="M-62.73,67.41 A63.3,72.6 0 0 0 62.81,66.75" fill="none"/><text font-family="'Liberation Sans',sans-serif" font-size="21.5" font-weight="700" fill="#0c0c0c" text-anchor="middle" word-spacing="3"><textPath href="#t8" startOffset="50%" textLength="163.63" lengthAdjust="spacingAndGlyphs">VILA DA LOURINHÃ</textPath></text></g></svg>
<svg class="coa" style="left:1573.9px;top:2040.2px" width="210" height="250" viewBox="-105 -65 210 250"><g transform="scale(0.94)"><path d="M-65.97,51.5 A66.3,73.7 0 1 0 65.97,51.5 L46.54,60.5 A46.7,46.7 0 1 1 -46.54,60.5 Z" fill="#fff" stroke="#6f6f6f" stroke-width=".7"/><g transform="scale(-1,1)" fill="#fff" stroke="#6e6e6e" stroke-width=".7" stroke-linejoin="round"><path d="M-66.2,43.8 L-78.4,41.6 L-78.9,64.2 L-67.8,66 L-64.2,53 Z"/><path d="M-77.6,42 v5.6 M-77.6,57.6 v6 M-76.05,42.28 v5.6 M-76.05,57.84 v6 M-74.5,42.56 v5.6 M-74.5,58.08 v6 M-72.95,42.84 v5.6 M-72.95,58.32 v6 M-71.4,43.12 v5.6 M-71.4,58.56 v6 M-69.85,43.4 v5.6 M-69.85,58.8 v6 M-68.3,43.68 v5.6 M-68.3,59.04 v6 " fill="none" stroke-width=".55"/><path d="M-78.6,49.4 L-65.4,51.4 M-78.8,56.4 L-65.6,58" fill="none" stroke-width=".5"/><path d="M-63,45.5 C-58,48 -53,44 -54.5,40.5 L-51.5,31.5 C-53,28 -58,27 -62.5,21.8 C-58,20.5 -54,21 -52.5,19.5 C-49.5,16 -54,11.5 -57,14 C-59,16 -57,19 -54.5,19.8 M-62.5,21.8 C-66,26 -69,30 -68.2,32.5 C-65,35 -60,36 -57.5,38.5 C-60,41 -63,43 -63,45.5Z"/><path d="M-57.4,29.4 v8 M-56,30 v7.4 M-54.6,30.6 v6.4 M-53.4,31.2 v5 M-66,30.5 l3.4,2.4 M-64.4,27.8 l3.6,2.6 M-60.5,23.6 l3,1.8" fill="none" stroke-width=".5"/><path d="M-63,53.6 l.7,3 M-61,54.6 l.7,3 M-59,55.6 l.7,3 M-57,56.6 l.7,3 M-55,57.6 l.7,3 M-53,58.6 l.7,3 M-51,59.6 l.7,3 M-49,60.6 l.7,3 " fill="none" stroke-width=".55"/><path d="M-64.5,52.6 C-60,54.5 -54,57.6 -47.8,60.4" fill="none"/></g><g transform="scale(1,1)" fill="#fff" stroke="#6e6e6e" stroke-width=".7" stroke-linejoin="round"><path d="M-66.2,43.8 L-78.4,41.6 L-78.9,64.2 L-67.8,66 L-64.2,53 Z"/><path d="M-77.6,42 v5.6 M-77.6,57.6 v6 M-76.05,42.28 v5.6 M-76.05,57.84 v6 M-74.5,42.56 v5.6 M-74.5,58.08 v6 M-72.95,42.84 v5.6 M-72.95,58.32 v6 M-71.4,43.12 v5.6 M-71.4,58.56 v6 M-69.85,43.4 v5.6 M-69.85,58.8 v6 M-68.3,43.68 v5.6 M-68.3,59.04 v6 " fill="none" stroke-width=".55"/><path d="M-78.6,49.4 L-65.4,51.4 M-78.8,56.4 L-65.6,58" fill="none" stroke-width=".5"/><path d="M-63,45.5 C-58,48 -53,44 -54.5,40.5 L-51.5,31.5 C-53,28 -58,27 -62.5,21.8 C-58,20.5 -54,21 -52.5,19.5 C-49.5,16 -54,11.5 -57,14 C-59,16 -57,19 -54.5,19.8 M-62.5,21.8 C-66,26 -69,30 -68.2,32.5 C-65,35 -60,36 -57.5,38.5 C-60,41 -63,43 -63,45.5Z"/><path d="M-57.4,29.4 v8 M-56,30 v7.4 M-54.6,30.6 v6.4 M-53.4,31.2 v5 M-66,30.5 l3.4,2.4 M-64.4,27.8 l3.6,2.6 M-60.5,23.6 l3,1.8" fill="none" stroke-width=".5"/><path d="M-63,53.6 l.7,3 M-61,54.6 l.7,3 M-59,55.6 l.7,3 M-57,56.6 l.7,3 M-55,57.6 l.7,3 M-53,58.6 l.7,3 M-51,59.6 l.7,3 M-49,60.6 l.7,3 " fill="none" stroke-width=".55"/><path d="M-64.5,52.6 C-60,54.5 -54,57.6 -47.8,60.4" fill="none"/></g><defs><clipPath id="ct9"><path d="M-45,0H45V56.7A45,45 0 0 1 -45,56.7Z"/></clipPath></defs><path d="M-45,0H45V56.7A45,45 0 0 1 -45,56.7Z" fill="#e5463d"/><g clip-path="url(#ct9)"><polygon points="-24.5,4.3 -22.71,9.44 -17.27,9.55 -21.61,12.84 -20.03,18.05 -24.5,14.94 -28.97,18.05 -27.39,12.84 -31.73,9.55 -26.29,9.44" fill="#d8d8d8" stroke="#8a8a8a" stroke-width="0.4" /><polygon points="23.4,4.3 25.19,9.44 30.63,9.55 26.29,12.84 27.87,18.05 23.4,14.94 18.93,18.05 20.51,12.84 16.17,9.55 21.61,9.44" fill="#d8d8d8" stroke="#8a8a8a" stroke-width="0.4" /><path d="M-13.2,5.9 H12.2 V20.55 C12.2,28.75 5.09,33.73 -0.5,35.2 C-6.09,33.73 -13.2,28.75 -13.2,20.55Z" fill="#e9e9e9" stroke="#7a7a7a" stroke-width="0.6" /><path d="M-3.55,8.83 h6.1 v3.22 q0,2.64 -3.05,2.64 q-3.05,0 -3.05,-2.64Z" fill="#1f5fa8" stroke="#123a6b" stroke-width="0.3" /><path d="M-10.79,15.86 h6.1 v3.22 q0,2.64 -3.05,2.64 q-3.05,0 -3.05,-2.64Z" fill="#1f5fa8" stroke="#123a6b" stroke-width="0.3" /><path d="M-3.55,15.86 h6.1 v3.22 q0,2.64 -3.05,2.64 q-3.05,0 -3.05,-2.64Z" fill="#1f5fa8" stroke="#123a6b" stroke-width="0.3" /><path d="M3.69,15.86 h6.1 v3.22 q0,2.64 -3.05,2.64 q-3.05,0 -3.05,-2.64Z" fill="#1f5fa8" stroke="#123a6b" stroke-width="0.3" /><path d="M-3.55,22.89 h6.1 v3.22 q0,2.64 -3.05,2.64 q-3.05,0 -3.05,-2.64Z" fill="#1f5fa8" stroke="#123a6b" stroke-width="0.3" /><rect x="-34.6" y="60.5" width="23.2" height="22.1" fill="#b3b3b3" stroke="#555" stroke-width="0.5" /><path d="M-34.6,63.26 h23.2 M-34.6,66.03 h23.2 M-34.6,68.79 h23.2 M-34.6,71.55 h23.2 M-34.6,74.31 h23.2 M-34.6,77.07 h23.2 M-34.6,79.84 h23.2 M-31.29,60.5 v2.76 M-27.97,60.5 v2.76 M-24.66,60.5 v2.76 M-21.34,60.5 v2.76 M-18.03,60.5 v2.76 M-14.71,60.5 v2.76 M-32.94,63.26 v2.76 M-29.63,63.26 v2.76 M-26.31,63.26 v2.76 M-23,63.26 v2.76 M-19.69,63.26 v2.76 M-16.37,63.26 v2.76 M-13.06,63.26 v2.76 M-31.29,66.03 v2.76 M-27.97,66.03 v2.76 M-24.66,66.03 v2.76 M-21.34,66.03 v2.76 M-18.03,66.03 v2.76 M-14.71,66.03 v2.76 M-32.94,68.79 v2.76 M-29.63,68.79 v2.76 M-26.31,68.79 v2.76 M-23,68.79 v2.76 M-19.69,68.79 v2.76 M-16.37,68.79 v2.76 M-13.06,68.79 v2.76 M-31.29,71.55 v2.76 M-27.97,71.55 v2.76 M-24.66,71.55 v2.76 M-21.34,71.55 v2.76 M-18.03,71.55 v2.76 M-14.71,71.55 v2.76 M-32.94,74.31 v2.76 M-29.63,74.31 v2.76 M-26.31,74.31 v2.76 M-23,74.31 v2.76 M-19.69,74.31 v2.76 M-16.37,74.31 v2.76 M-13.06,74.31 v2.76 M-31.29,77.07 v2.76 M-27.97,77.07 v2.76 M-24.66,77.07 v2.76 M-21.34,77.07 v2.76 M-18.03,77.07 v2.76 M-14.71,77.07 v2.76 M-32.94,79.84 v2.76 M-29.63,79.84 v2.76 M-26.31,79.84 v2.76 M-23,79.84 v2.76 M-19.69,79.84 v2.76 M-16.37,79.84 v2.76 M-13.06,79.84 v2.76 " fill="none" stroke="#6e6e6e" stroke-width="0.35"/><rect x="-35.4" y="57.6" width="2.76" height="3" fill="#bdbdbd" stroke="#555" stroke-width="0.4" /><rect x="-29.89" y="57.6" width="2.76" height="3" fill="#bdbdbd" stroke="#555" stroke-width="0.4" /><rect x="-24.38" y="57.6" width="2.76" height="3" fill="#bdbdbd" stroke="#555" stroke-width="0.4" /><rect x="-18.87" y="57.6" width="2.76" height="3" fill="#bdbdbd" stroke="#555" stroke-width="0.4" /><rect x="-13.36" y="57.6" width="2.76" height="3" fill="#bdbdbd" stroke="#555" stroke-width="0.4" /><rect x="-31.4" y="40.5" width="16.8" height="17.5" fill="#b3b3b3" stroke="#555" stroke-width="0.5" /><path d="M-31.4,43 h16.8 M-31.4,45.5 h16.8 M-31.4,48 h16.8 M-31.4,50.5 h16.8 M-31.4,53 h16.8 M-31.4,55.5 h16.8 M-28.04,40.5 v2.5 M-24.68,40.5 v2.5 M-21.32,40.5 v2.5 M-17.96,40.5 v2.5 M-29.72,43 v2.5 M-26.36,43 v2.5 M-23,43 v2.5 M-19.64,43 v2.5 M-16.28,43 v2.5 M-28.04,45.5 v2.5 M-24.68,45.5 v2.5 M-21.32,45.5 v2.5 M-17.96,45.5 v2.5 M-29.72,48 v2.5 M-26.36,48 v2.5 M-23,48 v2.5 M-19.64,48 v2.5 M-16.28,48 v2.5 M-28.04,50.5 v2.5 M-24.68,50.5 v2.5 M-21.32,50.5 v2.5 M-17.96,50.5 v2.5 M-29.72,53 v2.5 M-26.36,53 v2.5 M-23,53 v2.5 M-19.64,53 v2.5 M-16.28,53 v2.5 M-28.04,55.5 v2.5 M-24.68,55.5 v2.5 M-21.32,55.5 v2.5 M-17.96,55.5 v2.5 " fill="none" stroke="#6e6e6e" stroke-width="0.35"/><rect x="-32.6" y="37.6" width="2.74" height="3" fill="#bdbdbd" stroke="#555" stroke-width="0.4" /><rect x="-27.11" y="37.6" width="2.74" height="3" fill="#bdbdbd" stroke="#555" stroke-width="0.4" /><rect x="-21.63" y="37.6" width="2.74" height="3" fill="#bdbdbd" stroke="#555" stroke-width="0.4" /><rect x="-16.14" y="37.6" width="2.74" height="3" fill="#bdbdbd" stroke="#555" stroke-width="0.4" /><polygon points="-30,38 -23,30.5 -16,38" fill="#cfcfcf" stroke="#666" stroke-width="0.5" /><path d="M-23,30.5 V23" fill="none" stroke="#222" stroke-width="0.6" /><polygon points="-23,23 -27.4,22.2 -27.4,25 -23,25.4" fill="#111" /><polygon points="-23,23.4 -19.4,22.8 -19.4,25.2 -23,25.4" fill="#eee" stroke="#888" stroke-width="0.3" /><path d="M-25.7,53 v-4.5 a2.7,2.7 0 0 1 5.4,0 v4.5Z" fill="#0a0a0a" /><path d="M-25.8,72.6 v-4.6 a3.2,3.2 0 0 1 6.4,0 v4.6Z" fill="#0a0a0a" /><rect x="11.6" y="60.5" width="23.2" height="22.1" fill="#b3b3b3" stroke="#555" stroke-width="0.5" /><path d="M11.6,63.26 h23.2 M11.6,66.03 h23.2 M11.6,68.79 h23.2 M11.6,71.55 h23.2 M11.6,74.31 h23.2 M11.6,77.07 h23.2 M11.6,79.84 h23.2 M14.91,60.5 v2.76 M18.23,60.5 v2.76 M21.54,60.5 v2.76 M24.86,60.5 v2.76 M28.17,60.5 v2.76 M31.49,60.5 v2.76 M13.26,63.26 v2.76 M16.57,63.26 v2.76 M19.89,63.26 v2.76 M23.2,63.26 v2.76 M26.51,63.26 v2.76 M29.83,63.26 v2.76 M33.14,63.26 v2.76 M14.91,66.03 v2.76 M18.23,66.03 v2.76 M21.54,66.03 v2.76 M24.86,66.03 v2.76 M28.17,66.03 v2.76 M31.49,66.03 v2.76 M13.26,68.79 v2.76 M16.57,68.79 v2.76 M19.89,68.79 v2.76 M23.2,68.79 v2.76 M26.51,68.79 v2.76 M29.83,68.79 v2.76 M33.14,68.79 v2.76 M14.91,71.55 v2.76 M18.23,71.55 v2.76 M21.54,71.55 v2.76 M24.86,71.55 v2.76 M28.17,71.55 v2.76 M31.49,71.55 v2.76 M13.26,74.31 v2.76 M16.57,74.31 v2.76 M19.89,74.31 v2.76 M23.2,74.31 v2.76 M26.51,74.31 v2.76 M29.83,74.31 v2.76 M33.14,74.31 v2.76 M14.91,77.07 v2.76 M18.23,77.07 v2.76 M21.54,77.07 v2.76 M24.86,77.07 v2.76 M28.17,77.07 v2.76 M31.49,77.07 v2.76 M13.26,79.84 v2.76 M16.57,79.84 v2.76 M19.89,79.84 v2.76 M23.2,79.84 v2.76 M26.51,79.84 v2.76 M29.83,79.84 v2.76 M33.14,79.84 v2.76 " fill="none" stroke="#6e6e6e" stroke-width="0.35"/><rect x="10.8" y="57.6" width="2.76" height="3" fill="#bdbdbd" stroke="#555" stroke-width="0.4" /><rect x="16.31" y="57.6" width="2.76" height="3" fill="#bdbdbd" stroke="#555" stroke-width="0.4" /><rect x="21.82" y="57.6" width="2.76" height="3" fill="#bdbdbd" stroke="#555" stroke-width="0.4" /><rect x="27.33" y="57.6" width="2.76" height="3" fill="#bdbdbd" stroke="#555" stroke-width="0.4" /><rect x="32.84" y="57.6" width="2.76" height="3" fill="#bdbdbd" stroke="#555" stroke-width="0.4" /><rect x="14.8" y="40.5" width="16.8" height="17.5" fill="#b3b3b3" stroke="#555" stroke-width="0.5" /><path d="M14.8,43 h16.8 M14.8,45.5 h16.8 M14.8,48 h16.8 M14.8,50.5 h16.8 M14.8,53 h16.8 M14.8,55.5 h16.8 M18.16,40.5 v2.5 M21.52,40.5 v2.5 M24.88,40.5 v2.5 M28.24,40.5 v2.5 M16.48,43 v2.5 M19.84,43 v2.5 M23.2,43 v2.5 M26.56,43 v2.5 M29.92,43 v2.5 M18.16,45.5 v2.5 M21.52,45.5 v2.5 M24.88,45.5 v2.5 M28.24,45.5 v2.5 M16.48,48 v2.5 M19.84,48 v2.5 M23.2,48 v2.5 M26.56,48 v2.5 M29.92,48 v2.5 M18.16,50.5 v2.5 M21.52,50.5 v2.5 M24.88,50.5 v2.5 M28.24,50.5 v2.5 M16.48,53 v2.5 M19.84,53 v2.5 M23.2,53 v2.5 M26.56,53 v2.5 M29.92,53 v2.5 M18.16,55.5 v2.5 M21.52,55.5 v2.5 M24.88,55.5 v2.5 M28.24,55.5 v2.5 " fill="none" stroke="#6e6e6e" stroke-width="0.35"/><rect x="13.6" y="37.6" width="2.74" height="3" fill="#bdbdbd" stroke="#555" stroke-width="0.4" /><rect x="19.09" y="37.6" width="2.74" height="3" fill="#bdbdbd" stroke="#555" stroke-width="0.4" /><rect x="24.57" y="37.6" width="2.74" height="3" fill="#bdbdbd" stroke="#555" stroke-width="0.4" /><rect x="30.06" y="37.6" width="2.74" height="3" fill="#bdbdbd" stroke="#555" stroke-width="0.4" /><polygon points="16.2,38 23.2,30.5 30.2,38" fill="#cfcfcf" stroke="#666" stroke-width="0.5" /><path d="M23.2,30.5 V23" fill="none" stroke="#222" stroke-width="0.6" /><polygon points="23.2,23 18.8,22.2 18.8,25 23.2,25.4" fill="#111" /><polygon points="23.2,23.4 26.8,22.8 26.8,25.2 23.2,25.4" fill="#eee" stroke="#888" stroke-width="0.3" /><path d="M20.5,53 v-4.5 a2.7,2.7 0 0 1 5.4,0 v4.5Z" fill="#0a0a0a" /><path d="M20.4,72.6 v-4.6 a3.2,3.2 0 0 1 6.4,0 v4.6Z" fill="#0a0a0a" /><rect x="-10.6" y="64.2" width="22.8" height="18.4" fill="#b3b3b3" stroke="#555" stroke-width="0.5" /><path d="M-10.6,66.83 h22.8 M-10.6,69.46 h22.8 M-10.6,72.09 h22.8 M-10.6,74.71 h22.8 M-10.6,77.34 h22.8 M-10.6,79.97 h22.8 M-7.34,64.2 v2.63 M-4.09,64.2 v2.63 M-0.83,64.2 v2.63 M2.43,64.2 v2.63 M5.69,64.2 v2.63 M8.94,64.2 v2.63 M-8.97,66.83 v2.63 M-5.71,66.83 v2.63 M-2.46,66.83 v2.63 M0.8,66.83 v2.63 M4.06,66.83 v2.63 M7.31,66.83 v2.63 M10.57,66.83 v2.63 M-7.34,69.46 v2.63 M-4.09,69.46 v2.63 M-0.83,69.46 v2.63 M2.43,69.46 v2.63 M5.69,69.46 v2.63 M8.94,69.46 v2.63 M-8.97,72.09 v2.63 M-5.71,72.09 v2.63 M-2.46,72.09 v2.63 M0.8,72.09 v2.63 M4.06,72.09 v2.63 M7.31,72.09 v2.63 M10.57,72.09 v2.63 M-7.34,74.71 v2.63 M-4.09,74.71 v2.63 M-0.83,74.71 v2.63 M2.43,74.71 v2.63 M5.69,74.71 v2.63 M8.94,74.71 v2.63 M-8.97,77.34 v2.63 M-5.71,77.34 v2.63 M-2.46,77.34 v2.63 M0.8,77.34 v2.63 M4.06,77.34 v2.63 M7.31,77.34 v2.63 M10.57,77.34 v2.63 M-7.34,79.97 v2.63 M-4.09,79.97 v2.63 M-0.83,79.97 v2.63 M2.43,79.97 v2.63 M5.69,79.97 v2.63 M8.94,79.97 v2.63 " fill="none" stroke="#6e6e6e" stroke-width="0.35"/><rect x="-10.6" y="61.6" width="2.53" height="2.8" fill="#bdbdbd" stroke="#555" stroke-width="0.4" /><rect x="-5.53" y="61.6" width="2.53" height="2.8" fill="#bdbdbd" stroke="#555" stroke-width="0.4" /><rect x="-0.47" y="61.6" width="2.53" height="2.8" fill="#bdbdbd" stroke="#555" stroke-width="0.4" /><rect x="4.6" y="61.6" width="2.53" height="2.8" fill="#bdbdbd" stroke="#555" stroke-width="0.4" /><rect x="9.67" y="61.6" width="2.53" height="2.8" fill="#bdbdbd" stroke="#555" stroke-width="0.4" /><path d="M-4,83.6 v-7.2 a4.8,4.8 0 0 1 9.6,0 v7.2Z" fill="#0a0a0a" /></g><path d="M-45,0H45V56.7A45,45 0 0 1 -45,56.7Z" fill="none" stroke="#555" stroke-width="0.8"/><g><path d="M-48.8,-3.2Q0,-13.6 48.8,-3.2L45,0.6H-45Z" fill="#fff"/><path d="M-49.5,-10 L-41,-25.8 h2.2 v1.7 h2.2 v-1.7 h2.2 v1.7 h2.2 v-1.7 h2.2  V-14 H-22 V-29.6 h2 v1.7 h2 v-1.7 h2 v1.7 h2 v-1.7 h2 v1.7 h2 v-1.7 h2  V-14 H8 V-29.6 h2 v1.7 h2 v-1.7 h2 v1.7 h2 v-1.7 h2 v1.7 h2 v-1.7 h2 V-14 H30 V-25.8 h2.2 v1.7 h2.2 v-1.7 h2.2 v1.7 h2.2 v-1.7 h2.2  L49.5,-10 Q0,-20.5 -49.5,-10Z" fill="#989898" stroke="#5a5a5a" stroke-width=".6"/><clipPath id="cw5"><path d="M-49.5,-10 L-41,-25.8 h2.2 v1.7 h2.2 v-1.7 h2.2 v1.7 h2.2 v-1.7 h2.2  V-14 H-22 V-29.6 h2 v1.7 h2 v-1.7 h2 v1.7 h2 v-1.7 h2 v1.7 h2 v-1.7 h2  V-14 H8 V-29.6 h2 v1.7 h2 v-1.7 h2 v1.7 h2 v-1.7 h2 v1.7 h2 v-1.7 h2 V-14 H30 V-25.8 h2.2 v1.7 h2.2 v-1.7 h2.2 v1.7 h2.2 v-1.7 h2.2  L49.5,-10 Q0,-20.5 -49.5,-10Z"/></clipPath><path d="M-45,-20.8 Q0,-31.2 45,-20.8 M-45,-18 Q0,-28.4 45,-18 M-45,-15.2 Q0,-25.6 45,-15.2 M-45,-12.4 Q0,-22.8 45,-12.4 M-45,-9.6 Q0,-20 45,-9.6 M-44,-12 v-20 M-40.7,-12 v-20 M-39.6,-12 v-20 M-36.3,-12 v-20 M-35.2,-12 v-20 M-31.9,-12 v-20 M-30.8,-12 v-20 M-27.5,-12 v-20 M-26.4,-12 v-20 M-23.1,-12 v-20 M-22,-12 v-20 M-18.7,-12 v-20 M-17.6,-12 v-20 M-14.3,-12 v-20 M-13.2,-12 v-20 M-9.9,-12 v-20 M-8.8,-12 v-20 M-5.5,-12 v-20 M-4.4,-12 v-20 M-1.1,-12 v-20 M0,-12 v-20 M3.3,-12 v-20 M4.4,-12 v-20 M7.7,-12 v-20 M8.8,-12 v-20 M12.1,-12 v-20 M13.2,-12 v-20 M16.5,-12 v-20 M17.6,-12 v-20 M20.9,-12 v-20 M22,-12 v-20 M25.3,-12 v-20 M26.4,-12 v-20 M29.7,-12 v-20 M30.8,-12 v-20 M34.1,-12 v-20 M35.2,-12 v-20 M38.5,-12 v-20 M39.6,-12 v-20 M42.9,-12 v-20 M44,-12 v-20 " fill="none" stroke="#6c6c6c" stroke-width=".5" clip-path="url(#cw5)"/><path d="M-49.8,-10.4 Q0,-21 49.8,-10.4 L48.9,-3.1 Q0,-13.6 -48.9,-3.1Z" fill="#acacac" stroke="#4e4e4e" stroke-width=".7"/><path d="M-49.4,-8.0 Q0,-18.5 49.4,-8.0" fill="none" stroke="#e4e4e4" stroke-width="1.4"/><path d="M-49.1,-5.4 Q0,-15.9 49.1,-5.4" fill="none" stroke="#747474" stroke-width="1"/><g transform="translate(-44,-12) scale(.84) translate(44,12)"><polygon points="-48.9,-8.2 -56,-24.5 -44.2,-29.4 -38,-13.6" fill="#a2a2a2" stroke="#505050" stroke-width=".6"/><polygon points="-60.6,-27.4 -59.2,-32.6 -56.2,-33.8 -55.4,-31.7 -53.1,-32.6 -53.9,-34.7 -50.9,-35.9 -50.1,-33.8 -47.8,-34.7 -48.6,-36.8 -45.6,-38 -42.6,-33 -43.6,-29.8 -56.4,-23.6" fill="#bcbcbc" stroke="#4c4c4c" stroke-width=".6"/><polygon points="-49.6,-14.6 -52.4,-21.2 -49.4,-22.4 -46.4,-16" fill="#3c3c3c"/><polygon points="-55.6,-26.4 -44.6,-31 -44,-29.6 -55,-25" fill="#4a4a4a"/></g><g transform="translate(44,-12) scale(.84) translate(-44,12)"><polygon points="48.9,-8.2 56,-24.5 44.2,-29.4 38,-13.6" fill="#a2a2a2" stroke="#505050" stroke-width=".6"/><polygon points="60.6,-27.4 59.2,-32.6 56.2,-33.8 55.4,-31.7 53.1,-32.6 53.9,-34.7 50.9,-35.9 50.1,-33.8 47.8,-34.7 48.6,-36.8 45.6,-38 42.6,-33 43.6,-29.8 56.4,-23.6" fill="#bcbcbc" stroke="#4c4c4c" stroke-width=".6"/><polygon points="49.6,-14.6 52.4,-21.2 49.4,-22.4 46.4,-16" fill="#3c3c3c"/><polygon points="55.6,-26.4 44.6,-31 44,-29.6 55,-25" fill="#4a4a4a"/></g><g transform="translate(-23.4,-1.2) rotate(-8) scale(.9)"><path d="M-9.6,-15 L-7.4,-36 H7.4 L9.6,-15Z" fill="#a6a6a6" stroke="#505050" stroke-width=".6"/><path d="M-10.8,-36 V-42.2 h3.3 v2.2 h2.8 v-2.2 h3.3 v2.2 h2.8 v-2.2 h3.3 v2.2 h2.8 v-2.2 h3.3 V-36Z" fill="#bababa" stroke="#4c4c4c" stroke-width=".6"/><rect x="-10.8" y="-37.8" width="21.6" height="1.6" fill="#6e6e6e"/><path d="M-3.6,-16.5 v-8 a3.6,4 0 0 1 7.2,0 v8Z" fill="#4e4e4e"/><path d="M-1.6,-16.8 v-7 a2.3,2.8 0 0 1 4.6,0 v7Z" fill="#cfcfcf"/><path d="M-1,-19h3.4M-1,-21.4h3.4M-0.8,-23.6h3" stroke="#777" stroke-width=".6" fill="none"/><rect x="-5" y="-34.2" width="1.7" height="3.4" fill="#222"/><rect x="3.3" y="-34.2" width="1.7" height="3.4" fill="#222"/></g><g transform="translate(23.4,-1.2) rotate(8) scale(.9)"><path d="M-9.6,-15 L-7.4,-36 H7.4 L9.6,-15Z" fill="#a6a6a6" stroke="#505050" stroke-width=".6"/><path d="M-10.8,-36 V-42.2 h3.3 v2.2 h2.8 v-2.2 h3.3 v2.2 h2.8 v-2.2 h3.3 v2.2 h2.8 v-2.2 h3.3 V-36Z" fill="#bababa" stroke="#4c4c4c" stroke-width=".6"/><rect x="-10.8" y="-37.8" width="21.6" height="1.6" fill="#6e6e6e"/><path d="M-3.6,-16.5 v-8 a3.6,4 0 0 1 7.2,0 v8Z" fill="#4e4e4e"/><path d="M-1.6,-16.8 v-7 a2.3,2.8 0 0 1 4.6,0 v7Z" fill="#cfcfcf"/><path d="M-1,-19h3.4M-1,-21.4h3.4M-0.8,-23.6h3" stroke="#777" stroke-width=".6" fill="none"/><rect x="-5" y="-34.2" width="1.7" height="3.4" fill="#222"/><rect x="3.3" y="-34.2" width="1.7" height="3.4" fill="#222"/></g><g transform="translate(0,-2.2) scale(.94)"><path d="M-9.6,-15 L-7.4,-36 H7.4 L9.6,-15Z" fill="#a6a6a6" stroke="#505050" stroke-width=".6"/><path d="M-10.8,-36 V-42.2 h3.3 v2.2 h2.8 v-2.2 h3.3 v2.2 h2.8 v-2.2 h3.3 v2.2 h2.8 v-2.2 h3.3 V-36Z" fill="#bababa" stroke="#4c4c4c" stroke-width=".6"/><rect x="-10.8" y="-37.8" width="21.6" height="1.6" fill="#6e6e6e"/><path d="M-3.6,-16.5 v-8 a3.6,4 0 0 1 7.2,0 v8Z" fill="#4e4e4e"/><path d="M-1.6,-16.8 v-7 a2.3,2.8 0 0 1 4.6,0 v7Z" fill="#cfcfcf"/><path d="M-1,-19h3.4M-1,-21.4h3.4M-0.8,-23.6h3" stroke="#777" stroke-width=".6" fill="none"/><rect x="-5" y="-34.2" width="1.7" height="3.4" fill="#222"/><rect x="3.3" y="-34.2" width="1.7" height="3.4" fill="#222"/></g></g><path id="t9" d="M-62.94,65.43 A63.3,72.2 0 0 0 63.03,64.33" fill="none"/><text font-family="'Liberation Sans',sans-serif" font-size="18.2" font-weight="700" fill="#0c0c0c" text-anchor="middle" word-spacing="2.5"><textPath href="#t9" startOffset="50%" textLength="167.51" lengthAdjust="spacingAndGlyphs">CIDADE DE TORRES VEDRAS</textPath></text></g></svg>
<svg class="coa" style="left:1770.6px;top:2038px" width="210" height="250" viewBox="-105 -65 210 250"><g transform="scale(1)"><path d="M-65.98,51.5 A66.3,74.1 0 1 0 65.98,51.5 L46.54,60.5 A46.7,46.7 0 1 1 -46.54,60.5 Z" fill="#fff" stroke="#6f6f6f" stroke-width=".7"/><g transform="scale(-1,1)" fill="#fff" stroke="#6e6e6e" stroke-width=".7" stroke-linejoin="round"><path d="M-66.2,43.8 L-78.4,41.6 L-78.9,64.2 L-67.8,66 L-64.2,53 Z"/><path d="M-77.6,42 v5.6 M-77.6,57.6 v6 M-76.05,42.28 v5.6 M-76.05,57.84 v6 M-74.5,42.56 v5.6 M-74.5,58.08 v6 M-72.95,42.84 v5.6 M-72.95,58.32 v6 M-71.4,43.12 v5.6 M-71.4,58.56 v6 M-69.85,43.4 v5.6 M-69.85,58.8 v6 M-68.3,43.68 v5.6 M-68.3,59.04 v6 " fill="none" stroke-width=".55"/><path d="M-78.6,49.4 L-65.4,51.4 M-78.8,56.4 L-65.6,58" fill="none" stroke-width=".5"/><path d="M-63,45.5 C-58,48 -53,44 -54.5,40.5 L-51.5,31.5 C-53,28 -58,27 -62.5,21.8 C-58,20.5 -54,21 -52.5,19.5 C-49.5,16 -54,11.5 -57,14 C-59,16 -57,19 -54.5,19.8 M-62.5,21.8 C-66,26 -69,30 -68.2,32.5 C-65,35 -60,36 -57.5,38.5 C-60,41 -63,43 -63,45.5Z"/><path d="M-57.4,29.4 v8 M-56,30 v7.4 M-54.6,30.6 v6.4 M-53.4,31.2 v5 M-66,30.5 l3.4,2.4 M-64.4,27.8 l3.6,2.6 M-60.5,23.6 l3,1.8" fill="none" stroke-width=".5"/><path d="M-63,53.6 l.7,3 M-61,54.6 l.7,3 M-59,55.6 l.7,3 M-57,56.6 l.7,3 M-55,57.6 l.7,3 M-53,58.6 l.7,3 M-51,59.6 l.7,3 M-49,60.6 l.7,3 " fill="none" stroke-width=".55"/><path d="M-64.5,52.6 C-60,54.5 -54,57.6 -47.8,60.4" fill="none"/></g><g transform="scale(1,1)" fill="#fff" stroke="#6e6e6e" stroke-width=".7" stroke-linejoin="round"><path d="M-66.2,43.8 L-78.4,41.6 L-78.9,64.2 L-67.8,66 L-64.2,53 Z"/><path d="M-77.6,42 v5.6 M-77.6,57.6 v6 M-76.05,42.28 v5.6 M-76.05,57.84 v6 M-74.5,42.56 v5.6 M-74.5,58.08 v6 M-72.95,42.84 v5.6 M-72.95,58.32 v6 M-71.4,43.12 v5.6 M-71.4,58.56 v6 M-69.85,43.4 v5.6 M-69.85,58.8 v6 M-68.3,43.68 v5.6 M-68.3,59.04 v6 " fill="none" stroke-width=".55"/><path d="M-78.6,49.4 L-65.4,51.4 M-78.8,56.4 L-65.6,58" fill="none" stroke-width=".5"/><path d="M-63,45.5 C-58,48 -53,44 -54.5,40.5 L-51.5,31.5 C-53,28 -58,27 -62.5,21.8 C-58,20.5 -54,21 -52.5,19.5 C-49.5,16 -54,11.5 -57,14 C-59,16 -57,19 -54.5,19.8 M-62.5,21.8 C-66,26 -69,30 -68.2,32.5 C-65,35 -60,36 -57.5,38.5 C-60,41 -63,43 -63,45.5Z"/><path d="M-57.4,29.4 v8 M-56,30 v7.4 M-54.6,30.6 v6.4 M-53.4,31.2 v5 M-66,30.5 l3.4,2.4 M-64.4,27.8 l3.6,2.6 M-60.5,23.6 l3,1.8" fill="none" stroke-width=".5"/><path d="M-63,53.6 l.7,3 M-61,54.6 l.7,3 M-59,55.6 l.7,3 M-57,56.6 l.7,3 M-55,57.6 l.7,3 M-53,58.6 l.7,3 M-51,59.6 l.7,3 M-49,60.6 l.7,3 " fill="none" stroke-width=".55"/><path d="M-64.5,52.6 C-60,54.5 -54,57.6 -47.8,60.4" fill="none"/></g><defs><clipPath id="ct10"><path d="M-45,0H45V56.7A45,45 0 0 1 -45,56.7Z"/></clipPath></defs><path d="M-45,0H45V56.7A45,45 0 0 1 -45,56.7Z" fill="#c8c8c8"/><g clip-path="url(#ct10)"><path d="M-46,79 C-30,76.5 -22,73 -12,72 H12 C22,73 30,76.5 46,79 V110 H-46Z" fill="#b57c52" stroke="#6b4226" stroke-width="0.5" /><path d="M-38,84 C-28,81 -20,84 -10,82 M12,82 C22,84 30,81 40,84 M-32,90 C-20,87 -10,92 0,90 S20,87 32,90" fill="none" stroke="#8a5a36" stroke-width="0.7" /><path d="M-24,97 C-18,93 -12,95 -8,98 C-4,94 4,94 8,97 C12,94 18,95 22,99 M-10,101 C-4,98 6,99 12,102" fill="none" stroke="#14100c" stroke-width="1.6" /><path d="M-30.5,8 C-31.5,30 -29,55 -30,76" fill="none" stroke="#15120f" stroke-width="1.3" /><path d="M-30.5,8 l2.4,-3.5 M-30.5,8 l-2.4,-3.5" fill="none" stroke="#15120f" stroke-width="0.8" /><polygon points="-19,12 -22,7.5 -27,7 -30,11 -34,7 -40,8 -43.5,13 -41,18 -44,23 -41.5,28 -44,33 -40,37.5 -35,36 -31,39 -26,36.5 -21.5,38 -19.5,33 -21,28 -18.5,23 -21,18" fill="#1f8a4c" stroke="#0f5a30" stroke-width="0.6" /><path d="M-24,14 l-4,6 M-38,22 l5,7 M-36,12 l3,8 M-25,26 l-4,6" fill="none" stroke="#0f5a30" stroke-width="0.6" /><g><circle cx="-38.62" cy="34.58" r="2.08" fill="#dcdcdc" stroke="#7a7a7a" stroke-width="0.4"/><circle cx="-39.07" cy="34.06" r="0.79" fill="#f6f6f6"/><circle cx="-35.5" cy="34.58" r="2.08" fill="#dcdcdc" stroke="#7a7a7a" stroke-width="0.4"/><circle cx="-35.96" cy="34.06" r="0.79" fill="#f6f6f6"/><circle cx="-32.38" cy="34.58" r="2.08" fill="#dcdcdc" stroke="#7a7a7a" stroke-width="0.4"/><circle cx="-32.84" cy="34.06" r="0.79" fill="#f6f6f6"/><circle cx="-40.17" cy="37.22" r="2.08" fill="#dcdcdc" stroke="#7a7a7a" stroke-width="0.4"/><circle cx="-40.63" cy="36.7" r="0.79" fill="#f6f6f6"/><circle cx="-37.06" cy="37.22" r="2.08" fill="#dcdcdc" stroke="#7a7a7a" stroke-width="0.4"/><circle cx="-37.51" cy="36.7" r="0.79" fill="#f6f6f6"/><circle cx="-33.94" cy="37.22" r="2.08" fill="#dcdcdc" stroke="#7a7a7a" stroke-width="0.4"/><circle cx="-34.4" cy="36.7" r="0.79" fill="#f6f6f6"/><circle cx="-30.83" cy="37.22" r="2.08" fill="#dcdcdc" stroke="#7a7a7a" stroke-width="0.4"/><circle cx="-31.28" cy="36.7" r="0.79" fill="#f6f6f6"/><circle cx="-40.17" cy="39.86" r="2.08" fill="#dcdcdc" stroke="#7a7a7a" stroke-width="0.4"/><circle cx="-40.63" cy="39.34" r="0.79" fill="#f6f6f6"/><circle cx="-37.06" cy="39.86" r="2.08" fill="#dcdcdc" stroke="#7a7a7a" stroke-width="0.4"/><circle cx="-37.51" cy="39.34" r="0.79" fill="#f6f6f6"/><circle cx="-33.94" cy="39.86" r="2.08" fill="#dcdcdc" stroke="#7a7a7a" stroke-width="0.4"/><circle cx="-34.4" cy="39.34" r="0.79" fill="#f6f6f6"/><circle cx="-30.83" cy="39.86" r="2.08" fill="#dcdcdc" stroke="#7a7a7a" stroke-width="0.4"/><circle cx="-31.28" cy="39.34" r="0.79" fill="#f6f6f6"/><circle cx="-38.62" cy="42.5" r="2.08" fill="#dcdcdc" stroke="#7a7a7a" stroke-width="0.4"/><circle cx="-39.07" cy="41.98" r="0.79" fill="#f6f6f6"/><circle cx="-35.5" cy="42.5" r="2.08" fill="#dcdcdc" stroke="#7a7a7a" stroke-width="0.4"/><circle cx="-35.96" cy="41.98" r="0.79" fill="#f6f6f6"/><circle cx="-32.38" cy="42.5" r="2.08" fill="#dcdcdc" stroke="#7a7a7a" stroke-width="0.4"/><circle cx="-32.84" cy="41.98" r="0.79" fill="#f6f6f6"/><circle cx="-38.62" cy="45.14" r="2.08" fill="#dcdcdc" stroke="#7a7a7a" stroke-width="0.4"/><circle cx="-39.07" cy="44.62" r="0.79" fill="#f6f6f6"/><circle cx="-35.5" cy="45.14" r="2.08" fill="#dcdcdc" stroke="#7a7a7a" stroke-width="0.4"/><circle cx="-35.96" cy="44.62" r="0.79" fill="#f6f6f6"/><circle cx="-32.38" cy="45.14" r="2.08" fill="#dcdcdc" stroke="#7a7a7a" stroke-width="0.4"/><circle cx="-32.84" cy="44.62" r="0.79" fill="#f6f6f6"/><circle cx="-37.06" cy="47.78" r="2.08" fill="#dcdcdc" stroke="#7a7a7a" stroke-width="0.4"/><circle cx="-37.51" cy="47.26" r="0.79" fill="#f6f6f6"/><circle cx="-33.94" cy="47.78" r="2.08" fill="#dcdcdc" stroke="#7a7a7a" stroke-width="0.4"/><circle cx="-34.4" cy="47.26" r="0.79" fill="#f6f6f6"/><circle cx="-35.5" cy="50.42" r="2.08" fill="#dcdcdc" stroke="#7a7a7a" stroke-width="0.4"/><circle cx="-35.96" cy="49.9" r="0.79" fill="#f6f6f6"/></g><g><circle cx="-27.88" cy="39.92" r="1.92" fill="#dcdcdc" stroke="#7a7a7a" stroke-width="0.4"/><circle cx="-28.31" cy="39.44" r="0.73" fill="#f6f6f6"/><circle cx="-25" cy="39.92" r="1.92" fill="#dcdcdc" stroke="#7a7a7a" stroke-width="0.4"/><circle cx="-25.42" cy="39.44" r="0.73" fill="#f6f6f6"/><circle cx="-22.12" cy="39.92" r="1.92" fill="#dcdcdc" stroke="#7a7a7a" stroke-width="0.4"/><circle cx="-22.54" cy="39.44" r="0.73" fill="#f6f6f6"/><circle cx="-29.33" cy="42.62" r="1.92" fill="#dcdcdc" stroke="#7a7a7a" stroke-width="0.4"/><circle cx="-29.75" cy="42.13" r="0.73" fill="#f6f6f6"/><circle cx="-26.44" cy="42.62" r="1.92" fill="#dcdcdc" stroke="#7a7a7a" stroke-width="0.4"/><circle cx="-26.87" cy="42.13" r="0.73" fill="#f6f6f6"/><circle cx="-23.56" cy="42.62" r="1.92" fill="#dcdcdc" stroke="#7a7a7a" stroke-width="0.4"/><circle cx="-23.98" cy="42.13" r="0.73" fill="#f6f6f6"/><circle cx="-20.67" cy="42.62" r="1.92" fill="#dcdcdc" stroke="#7a7a7a" stroke-width="0.4"/><circle cx="-21.1" cy="42.13" r="0.73" fill="#f6f6f6"/><circle cx="-29.33" cy="45.31" r="1.92" fill="#dcdcdc" stroke="#7a7a7a" stroke-width="0.4"/><circle cx="-29.75" cy="44.83" r="0.73" fill="#f6f6f6"/><circle cx="-26.44" cy="45.31" r="1.92" fill="#dcdcdc" stroke="#7a7a7a" stroke-width="0.4"/><circle cx="-26.87" cy="44.83" r="0.73" fill="#f6f6f6"/><circle cx="-23.56" cy="45.31" r="1.92" fill="#dcdcdc" stroke="#7a7a7a" stroke-width="0.4"/><circle cx="-23.98" cy="44.83" r="0.73" fill="#f6f6f6"/><circle cx="-20.67" cy="45.31" r="1.92" fill="#dcdcdc" stroke="#7a7a7a" stroke-width="0.4"/><circle cx="-21.1" cy="44.83" r="0.73" fill="#f6f6f6"/><circle cx="-27.88" cy="48" r="1.92" fill="#dcdcdc" stroke="#7a7a7a" stroke-width="0.4"/><circle cx="-28.31" cy="47.52" r="0.73" fill="#f6f6f6"/><circle cx="-25" cy="48" r="1.92" fill="#dcdcdc" stroke="#7a7a7a" stroke-width="0.4"/><circle cx="-25.42" cy="47.52" r="0.73" fill="#f6f6f6"/><circle cx="-22.12" cy="48" r="1.92" fill="#dcdcdc" stroke="#7a7a7a" stroke-width="0.4"/><circle cx="-22.54" cy="47.52" r="0.73" fill="#f6f6f6"/><circle cx="-27.88" cy="50.69" r="1.92" fill="#dcdcdc" stroke="#7a7a7a" stroke-width="0.4"/><circle cx="-28.31" cy="50.21" r="0.73" fill="#f6f6f6"/><circle cx="-25" cy="50.69" r="1.92" fill="#dcdcdc" stroke="#7a7a7a" stroke-width="0.4"/><circle cx="-25.42" cy="50.21" r="0.73" fill="#f6f6f6"/><circle cx="-22.12" cy="50.69" r="1.92" fill="#dcdcdc" stroke="#7a7a7a" stroke-width="0.4"/><circle cx="-22.54" cy="50.21" r="0.73" fill="#f6f6f6"/><circle cx="-26.44" cy="53.38" r="1.92" fill="#dcdcdc" stroke="#7a7a7a" stroke-width="0.4"/><circle cx="-26.87" cy="52.9" r="0.73" fill="#f6f6f6"/><circle cx="-23.56" cy="53.38" r="1.92" fill="#dcdcdc" stroke="#7a7a7a" stroke-width="0.4"/><circle cx="-23.98" cy="52.9" r="0.73" fill="#f6f6f6"/><circle cx="-25" cy="56.08" r="1.92" fill="#dcdcdc" stroke="#7a7a7a" stroke-width="0.4"/><circle cx="-25.42" cy="55.6" r="0.73" fill="#f6f6f6"/></g><g><circle cx="-35.88" cy="54.42" r="1.92" fill="#dcdcdc" stroke="#7a7a7a" stroke-width="0.4"/><circle cx="-36.31" cy="53.94" r="0.73" fill="#f6f6f6"/><circle cx="-33" cy="54.42" r="1.92" fill="#dcdcdc" stroke="#7a7a7a" stroke-width="0.4"/><circle cx="-33.42" cy="53.94" r="0.73" fill="#f6f6f6"/><circle cx="-30.12" cy="54.42" r="1.92" fill="#dcdcdc" stroke="#7a7a7a" stroke-width="0.4"/><circle cx="-30.54" cy="53.94" r="0.73" fill="#f6f6f6"/><circle cx="-37.33" cy="56.78" r="1.92" fill="#dcdcdc" stroke="#7a7a7a" stroke-width="0.4"/><circle cx="-37.75" cy="56.3" r="0.73" fill="#f6f6f6"/><circle cx="-34.44" cy="56.78" r="1.92" fill="#dcdcdc" stroke="#7a7a7a" stroke-width="0.4"/><circle cx="-34.87" cy="56.3" r="0.73" fill="#f6f6f6"/><circle cx="-31.56" cy="56.78" r="1.92" fill="#dcdcdc" stroke="#7a7a7a" stroke-width="0.4"/><circle cx="-31.98" cy="56.3" r="0.73" fill="#f6f6f6"/><circle cx="-28.67" cy="56.78" r="1.92" fill="#dcdcdc" stroke="#7a7a7a" stroke-width="0.4"/><circle cx="-29.1" cy="56.3" r="0.73" fill="#f6f6f6"/><circle cx="-37.33" cy="59.14" r="1.92" fill="#dcdcdc" stroke="#7a7a7a" stroke-width="0.4"/><circle cx="-37.75" cy="58.66" r="0.73" fill="#f6f6f6"/><circle cx="-34.44" cy="59.14" r="1.92" fill="#dcdcdc" stroke="#7a7a7a" stroke-width="0.4"/><circle cx="-34.87" cy="58.66" r="0.73" fill="#f6f6f6"/><circle cx="-31.56" cy="59.14" r="1.92" fill="#dcdcdc" stroke="#7a7a7a" stroke-width="0.4"/><circle cx="-31.98" cy="58.66" r="0.73" fill="#f6f6f6"/><circle cx="-28.67" cy="59.14" r="1.92" fill="#dcdcdc" stroke="#7a7a7a" stroke-width="0.4"/><circle cx="-29.1" cy="58.66" r="0.73" fill="#f6f6f6"/><circle cx="-35.88" cy="61.5" r="1.92" fill="#dcdcdc" stroke="#7a7a7a" stroke-width="0.4"/><circle cx="-36.31" cy="61.02" r="0.73" fill="#f6f6f6"/><circle cx="-33" cy="61.5" r="1.92" fill="#dcdcdc" stroke="#7a7a7a" stroke-width="0.4"/><circle cx="-33.42" cy="61.02" r="0.73" fill="#f6f6f6"/><circle cx="-30.12" cy="61.5" r="1.92" fill="#dcdcdc" stroke="#7a7a7a" stroke-width="0.4"/><circle cx="-30.54" cy="61.02" r="0.73" fill="#f6f6f6"/><circle cx="-35.88" cy="63.86" r="1.92" fill="#dcdcdc" stroke="#7a7a7a" stroke-width="0.4"/><circle cx="-36.31" cy="63.38" r="0.73" fill="#f6f6f6"/><circle cx="-33" cy="63.86" r="1.92" fill="#dcdcdc" stroke="#7a7a7a" stroke-width="0.4"/><circle cx="-33.42" cy="63.38" r="0.73" fill="#f6f6f6"/><circle cx="-30.12" cy="63.86" r="1.92" fill="#dcdcdc" stroke="#7a7a7a" stroke-width="0.4"/><circle cx="-30.54" cy="63.38" r="0.73" fill="#f6f6f6"/><circle cx="-34.44" cy="66.22" r="1.92" fill="#dcdcdc" stroke="#7a7a7a" stroke-width="0.4"/><circle cx="-34.87" cy="65.74" r="0.73" fill="#f6f6f6"/><circle cx="-31.56" cy="66.22" r="1.92" fill="#dcdcdc" stroke="#7a7a7a" stroke-width="0.4"/><circle cx="-31.98" cy="65.74" r="0.73" fill="#f6f6f6"/><circle cx="-33" cy="68.58" r="1.92" fill="#dcdcdc" stroke="#7a7a7a" stroke-width="0.4"/><circle cx="-33.42" cy="68.1" r="0.73" fill="#f6f6f6"/></g><path d="M30.5,8 C31.5,30 29,55 30,76" fill="none" stroke="#15120f" stroke-width="1.3" /><path d="M30.5,8 l-2.4,-3.5 M30.5,8 l2.4,-3.5" fill="none" stroke="#15120f" stroke-width="0.8" /><polygon points="19,12 22,7.5 27,7 30,11 34,7 40,8 43.5,13 41,18 44,23 41.5,28 44,33 40,37.5 35,36 31,39 26,36.5 21.5,38 19.5,33 21,28 18.5,23 21,18" fill="#1f8a4c" stroke="#0f5a30" stroke-width="0.6" /><path d="M24,14 l4,6 M38,22 l-5,7 M36,12 l-3,8 M25,26 l4,6" fill="none" stroke="#0f5a30" stroke-width="0.6" /><g><circle cx="32.38" cy="34.58" r="2.08" fill="#dcdcdc" stroke="#7a7a7a" stroke-width="0.4"/><circle cx="31.93" cy="34.06" r="0.79" fill="#f6f6f6"/><circle cx="35.5" cy="34.58" r="2.08" fill="#dcdcdc" stroke="#7a7a7a" stroke-width="0.4"/><circle cx="35.04" cy="34.06" r="0.79" fill="#f6f6f6"/><circle cx="38.62" cy="34.58" r="2.08" fill="#dcdcdc" stroke="#7a7a7a" stroke-width="0.4"/><circle cx="38.16" cy="34.06" r="0.79" fill="#f6f6f6"/><circle cx="30.83" cy="37.22" r="2.08" fill="#dcdcdc" stroke="#7a7a7a" stroke-width="0.4"/><circle cx="30.37" cy="36.7" r="0.79" fill="#f6f6f6"/><circle cx="33.94" cy="37.22" r="2.08" fill="#dcdcdc" stroke="#7a7a7a" stroke-width="0.4"/><circle cx="33.49" cy="36.7" r="0.79" fill="#f6f6f6"/><circle cx="37.06" cy="37.22" r="2.08" fill="#dcdcdc" stroke="#7a7a7a" stroke-width="0.4"/><circle cx="36.6" cy="36.7" r="0.79" fill="#f6f6f6"/><circle cx="40.17" cy="37.22" r="2.08" fill="#dcdcdc" stroke="#7a7a7a" stroke-width="0.4"/><circle cx="39.72" cy="36.7" r="0.79" fill="#f6f6f6"/><circle cx="30.83" cy="39.86" r="2.08" fill="#dcdcdc" stroke="#7a7a7a" stroke-width="0.4"/><circle cx="30.37" cy="39.34" r="0.79" fill="#f6f6f6"/><circle cx="33.94" cy="39.86" r="2.08" fill="#dcdcdc" stroke="#7a7a7a" stroke-width="0.4"/><circle cx="33.49" cy="39.34" r="0.79" fill="#f6f6f6"/><circle cx="37.06" cy="39.86" r="2.08" fill="#dcdcdc" stroke="#7a7a7a" stroke-width="0.4"/><circle cx="36.6" cy="39.34" r="0.79" fill="#f6f6f6"/><circle cx="40.17" cy="39.86" r="2.08" fill="#dcdcdc" stroke="#7a7a7a" stroke-width="0.4"/><circle cx="39.72" cy="39.34" r="0.79" fill="#f6f6f6"/><circle cx="32.38" cy="42.5" r="2.08" fill="#dcdcdc" stroke="#7a7a7a" stroke-width="0.4"/><circle cx="31.93" cy="41.98" r="0.79" fill="#f6f6f6"/><circle cx="35.5" cy="42.5" r="2.08" fill="#dcdcdc" stroke="#7a7a7a" stroke-width="0.4"/><circle cx="35.04" cy="41.98" r="0.79" fill="#f6f6f6"/><circle cx="38.62" cy="42.5" r="2.08" fill="#dcdcdc" stroke="#7a7a7a" stroke-width="0.4"/><circle cx="38.16" cy="41.98" r="0.79" fill="#f6f6f6"/><circle cx="32.38" cy="45.14" r="2.08" fill="#dcdcdc" stroke="#7a7a7a" stroke-width="0.4"/><circle cx="31.93" cy="44.62" r="0.79" fill="#f6f6f6"/><circle cx="35.5" cy="45.14" r="2.08" fill="#dcdcdc" stroke="#7a7a7a" stroke-width="0.4"/><circle cx="35.04" cy="44.62" r="0.79" fill="#f6f6f6"/><circle cx="38.62" cy="45.14" r="2.08" fill="#dcdcdc" stroke="#7a7a7a" stroke-width="0.4"/><circle cx="38.16" cy="44.62" r="0.79" fill="#f6f6f6"/><circle cx="33.94" cy="47.78" r="2.08" fill="#dcdcdc" stroke="#7a7a7a" stroke-width="0.4"/><circle cx="33.49" cy="47.26" r="0.79" fill="#f6f6f6"/><circle cx="37.06" cy="47.78" r="2.08" fill="#dcdcdc" stroke="#7a7a7a" stroke-width="0.4"/><circle cx="36.6" cy="47.26" r="0.79" fill="#f6f6f6"/><circle cx="35.5" cy="50.42" r="2.08" fill="#dcdcdc" stroke="#7a7a7a" stroke-width="0.4"/><circle cx="35.04" cy="49.9" r="0.79" fill="#f6f6f6"/></g><g><circle cx="22.12" cy="39.92" r="1.92" fill="#dcdcdc" stroke="#7a7a7a" stroke-width="0.4"/><circle cx="21.69" cy="39.44" r="0.73" fill="#f6f6f6"/><circle cx="25" cy="39.92" r="1.92" fill="#dcdcdc" stroke="#7a7a7a" stroke-width="0.4"/><circle cx="24.58" cy="39.44" r="0.73" fill="#f6f6f6"/><circle cx="27.88" cy="39.92" r="1.92" fill="#dcdcdc" stroke="#7a7a7a" stroke-width="0.4"/><circle cx="27.46" cy="39.44" r="0.73" fill="#f6f6f6"/><circle cx="20.67" cy="42.62" r="1.92" fill="#dcdcdc" stroke="#7a7a7a" stroke-width="0.4"/><circle cx="20.25" cy="42.13" r="0.73" fill="#f6f6f6"/><circle cx="23.56" cy="42.62" r="1.92" fill="#dcdcdc" stroke="#7a7a7a" stroke-width="0.4"/><circle cx="23.13" cy="42.13" r="0.73" fill="#f6f6f6"/><circle cx="26.44" cy="42.62" r="1.92" fill="#dcdcdc" stroke="#7a7a7a" stroke-width="0.4"/><circle cx="26.02" cy="42.13" r="0.73" fill="#f6f6f6"/><circle cx="29.33" cy="42.62" r="1.92" fill="#dcdcdc" stroke="#7a7a7a" stroke-width="0.4"/><circle cx="28.9" cy="42.13" r="0.73" fill="#f6f6f6"/><circle cx="20.67" cy="45.31" r="1.92" fill="#dcdcdc" stroke="#7a7a7a" stroke-width="0.4"/><circle cx="20.25" cy="44.83" r="0.73" fill="#f6f6f6"/><circle cx="23.56" cy="45.31" r="1.92" fill="#dcdcdc" stroke="#7a7a7a" stroke-width="0.4"/><circle cx="23.13" cy="44.83" r="0.73" fill="#f6f6f6"/><circle cx="26.44" cy="45.31" r="1.92" fill="#dcdcdc" stroke="#7a7a7a" stroke-width="0.4"/><circle cx="26.02" cy="44.83" r="0.73" fill="#f6f6f6"/><circle cx="29.33" cy="45.31" r="1.92" fill="#dcdcdc" stroke="#7a7a7a" stroke-width="0.4"/><circle cx="28.9" cy="44.83" r="0.73" fill="#f6f6f6"/><circle cx="22.12" cy="48" r="1.92" fill="#dcdcdc" stroke="#7a7a7a" stroke-width="0.4"/><circle cx="21.69" cy="47.52" r="0.73" fill="#f6f6f6"/><circle cx="25" cy="48" r="1.92" fill="#dcdcdc" stroke="#7a7a7a" stroke-width="0.4"/><circle cx="24.58" cy="47.52" r="0.73" fill="#f6f6f6"/><circle cx="27.88" cy="48" r="1.92" fill="#dcdcdc" stroke="#7a7a7a" stroke-width="0.4"/><circle cx="27.46" cy="47.52" r="0.73" fill="#f6f6f6"/><circle cx="22.12" cy="50.69" r="1.92" fill="#dcdcdc" stroke="#7a7a7a" stroke-width="0.4"/><circle cx="21.69" cy="50.21" r="0.73" fill="#f6f6f6"/><circle cx="25" cy="50.69" r="1.92" fill="#dcdcdc" stroke="#7a7a7a" stroke-width="0.4"/><circle cx="24.58" cy="50.21" r="0.73" fill="#f6f6f6"/><circle cx="27.88" cy="50.69" r="1.92" fill="#dcdcdc" stroke="#7a7a7a" stroke-width="0.4"/><circle cx="27.46" cy="50.21" r="0.73" fill="#f6f6f6"/><circle cx="23.56" cy="53.38" r="1.92" fill="#dcdcdc" stroke="#7a7a7a" stroke-width="0.4"/><circle cx="23.13" cy="52.9" r="0.73" fill="#f6f6f6"/><circle cx="26.44" cy="53.38" r="1.92" fill="#dcdcdc" stroke="#7a7a7a" stroke-width="0.4"/><circle cx="26.02" cy="52.9" r="0.73" fill="#f6f6f6"/><circle cx="25" cy="56.08" r="1.92" fill="#dcdcdc" stroke="#7a7a7a" stroke-width="0.4"/><circle cx="24.58" cy="55.6" r="0.73" fill="#f6f6f6"/></g><g><circle cx="30.12" cy="54.42" r="1.92" fill="#dcdcdc" stroke="#7a7a7a" stroke-width="0.4"/><circle cx="29.69" cy="53.94" r="0.73" fill="#f6f6f6"/><circle cx="33" cy="54.42" r="1.92" fill="#dcdcdc" stroke="#7a7a7a" stroke-width="0.4"/><circle cx="32.58" cy="53.94" r="0.73" fill="#f6f6f6"/><circle cx="35.88" cy="54.42" r="1.92" fill="#dcdcdc" stroke="#7a7a7a" stroke-width="0.4"/><circle cx="35.46" cy="53.94" r="0.73" fill="#f6f6f6"/><circle cx="28.67" cy="56.78" r="1.92" fill="#dcdcdc" stroke="#7a7a7a" stroke-width="0.4"/><circle cx="28.25" cy="56.3" r="0.73" fill="#f6f6f6"/><circle cx="31.56" cy="56.78" r="1.92" fill="#dcdcdc" stroke="#7a7a7a" stroke-width="0.4"/><circle cx="31.13" cy="56.3" r="0.73" fill="#f6f6f6"/><circle cx="34.44" cy="56.78" r="1.92" fill="#dcdcdc" stroke="#7a7a7a" stroke-width="0.4"/><circle cx="34.02" cy="56.3" r="0.73" fill="#f6f6f6"/><circle cx="37.33" cy="56.78" r="1.92" fill="#dcdcdc" stroke="#7a7a7a" stroke-width="0.4"/><circle cx="36.9" cy="56.3" r="0.73" fill="#f6f6f6"/><circle cx="28.67" cy="59.14" r="1.92" fill="#dcdcdc" stroke="#7a7a7a" stroke-width="0.4"/><circle cx="28.25" cy="58.66" r="0.73" fill="#f6f6f6"/><circle cx="31.56" cy="59.14" r="1.92" fill="#dcdcdc" stroke="#7a7a7a" stroke-width="0.4"/><circle cx="31.13" cy="58.66" r="0.73" fill="#f6f6f6"/><circle cx="34.44" cy="59.14" r="1.92" fill="#dcdcdc" stroke="#7a7a7a" stroke-width="0.4"/><circle cx="34.02" cy="58.66" r="0.73" fill="#f6f6f6"/><circle cx="37.33" cy="59.14" r="1.92" fill="#dcdcdc" stroke="#7a7a7a" stroke-width="0.4"/><circle cx="36.9" cy="58.66" r="0.73" fill="#f6f6f6"/><circle cx="30.12" cy="61.5" r="1.92" fill="#dcdcdc" stroke="#7a7a7a" stroke-width="0.4"/><circle cx="29.69" cy="61.02" r="0.73" fill="#f6f6f6"/><circle cx="33" cy="61.5" r="1.92" fill="#dcdcdc" stroke="#7a7a7a" stroke-width="0.4"/><circle cx="32.58" cy="61.02" r="0.73" fill="#f6f6f6"/><circle cx="35.88" cy="61.5" r="1.92" fill="#dcdcdc" stroke="#7a7a7a" stroke-width="0.4"/><circle cx="35.46" cy="61.02" r="0.73" fill="#f6f6f6"/><circle cx="30.12" cy="63.86" r="1.92" fill="#dcdcdc" stroke="#7a7a7a" stroke-width="0.4"/><circle cx="29.69" cy="63.38" r="0.73" fill="#f6f6f6"/><circle cx="33" cy="63.86" r="1.92" fill="#dcdcdc" stroke="#7a7a7a" stroke-width="0.4"/><circle cx="32.58" cy="63.38" r="0.73" fill="#f6f6f6"/><circle cx="35.88" cy="63.86" r="1.92" fill="#dcdcdc" stroke="#7a7a7a" stroke-width="0.4"/><circle cx="35.46" cy="63.38" r="0.73" fill="#f6f6f6"/><circle cx="31.56" cy="66.22" r="1.92" fill="#dcdcdc" stroke="#7a7a7a" stroke-width="0.4"/><circle cx="31.13" cy="65.74" r="0.73" fill="#f6f6f6"/><circle cx="34.44" cy="66.22" r="1.92" fill="#dcdcdc" stroke="#7a7a7a" stroke-width="0.4"/><circle cx="34.02" cy="65.74" r="0.73" fill="#f6f6f6"/><circle cx="33" cy="68.58" r="1.92" fill="#dcdcdc" stroke="#7a7a7a" stroke-width="0.4"/><circle cx="32.58" cy="68.1" r="0.73" fill="#f6f6f6"/></g><polygon points="-0.5,4.7 -3.18,3.03 -6.76,2.2 -12.13,2.41 -15.71,3.45 -14.82,5.53 -17.5,7.2 -15.71,9.28 -17.5,11.37 -14.82,13.45 -11.24,14.7 -7.66,13.45 -4.97,11.37 -2.29,8.87" fill="#1f8a4c" stroke="#0f5a30" stroke-width="0.5" /><polygon points="-0.5,4.7 2.18,3.03 6.66,2.2 11.13,2.62 13.82,2.2 14.71,4.28 16.5,5.95 15.61,8.45 17.39,10.53 15.61,13.03 12.92,14.28 9.34,13.03 5.76,10.95 2.18,8.45" fill="#1f8a4c" stroke="#0f5a30" stroke-width="0.5" /><path d="M-0.5,4.7 l-1.79,-1.46 M-0.5,4.7 l1.79,-1.46 M-0.5,4.7 v-1.25" fill="none" stroke="#0f5a30" stroke-width="0.8052631578947369" /><g><circle cx="-8.35" cy="10.9" r="1.9" fill="#dcdcdc" stroke="#7a7a7a" stroke-width="0.4"/><circle cx="-8.77" cy="10.43" r="0.72" fill="#f6f6f6"/><circle cx="-5.5" cy="10.9" r="1.9" fill="#dcdcdc" stroke="#7a7a7a" stroke-width="0.4"/><circle cx="-5.92" cy="10.43" r="0.72" fill="#f6f6f6"/><circle cx="-2.65" cy="10.9" r="1.9" fill="#dcdcdc" stroke="#7a7a7a" stroke-width="0.4"/><circle cx="-3.07" cy="10.43" r="0.72" fill="#f6f6f6"/><circle cx="-8.35" cy="12.8" r="1.9" fill="#dcdcdc" stroke="#7a7a7a" stroke-width="0.4"/><circle cx="-8.77" cy="12.33" r="0.72" fill="#f6f6f6"/><circle cx="-5.5" cy="12.8" r="1.9" fill="#dcdcdc" stroke="#7a7a7a" stroke-width="0.4"/><circle cx="-5.92" cy="12.33" r="0.72" fill="#f6f6f6"/><circle cx="-2.65" cy="12.8" r="1.9" fill="#dcdcdc" stroke="#7a7a7a" stroke-width="0.4"/><circle cx="-3.07" cy="12.33" r="0.72" fill="#f6f6f6"/><circle cx="-6.92" cy="14.7" r="1.9" fill="#dcdcdc" stroke="#7a7a7a" stroke-width="0.4"/><circle cx="-7.34" cy="14.23" r="0.72" fill="#f6f6f6"/><circle cx="-4.08" cy="14.7" r="1.9" fill="#dcdcdc" stroke="#7a7a7a" stroke-width="0.4"/><circle cx="-4.49" cy="14.23" r="0.72" fill="#f6f6f6"/><circle cx="-5.5" cy="16.6" r="1.9" fill="#dcdcdc" stroke="#7a7a7a" stroke-width="0.4"/><circle cx="-5.92" cy="16.12" r="0.72" fill="#f6f6f6"/></g><g><circle cx="1.65" cy="10.9" r="1.9" fill="#dcdcdc" stroke="#7a7a7a" stroke-width="0.4"/><circle cx="1.23" cy="10.43" r="0.72" fill="#f6f6f6"/><circle cx="4.5" cy="10.9" r="1.9" fill="#dcdcdc" stroke="#7a7a7a" stroke-width="0.4"/><circle cx="4.08" cy="10.43" r="0.72" fill="#f6f6f6"/><circle cx="7.35" cy="10.9" r="1.9" fill="#dcdcdc" stroke="#7a7a7a" stroke-width="0.4"/><circle cx="6.93" cy="10.43" r="0.72" fill="#f6f6f6"/><circle cx="1.65" cy="12.8" r="1.9" fill="#dcdcdc" stroke="#7a7a7a" stroke-width="0.4"/><circle cx="1.23" cy="12.33" r="0.72" fill="#f6f6f6"/><circle cx="4.5" cy="12.8" r="1.9" fill="#dcdcdc" stroke="#7a7a7a" stroke-width="0.4"/><circle cx="4.08" cy="12.33" r="0.72" fill="#f6f6f6"/><circle cx="7.35" cy="12.8" r="1.9" fill="#dcdcdc" stroke="#7a7a7a" stroke-width="0.4"/><circle cx="6.93" cy="12.33" r="0.72" fill="#f6f6f6"/><circle cx="3.08" cy="14.7" r="1.9" fill="#dcdcdc" stroke="#7a7a7a" stroke-width="0.4"/><circle cx="2.66" cy="14.23" r="0.72" fill="#f6f6f6"/><circle cx="5.92" cy="14.7" r="1.9" fill="#dcdcdc" stroke="#7a7a7a" stroke-width="0.4"/><circle cx="5.51" cy="14.23" r="0.72" fill="#f6f6f6"/><circle cx="4.5" cy="16.6" r="1.9" fill="#dcdcdc" stroke="#7a7a7a" stroke-width="0.4"/><circle cx="4.08" cy="16.12" r="0.72" fill="#f6f6f6"/></g><path d="M-.4,8 V22" fill="none" stroke="#15120f" stroke-width="1.1" /><rect x="-19.8" y="66" width="39.6" height="25" fill="#e0483c" stroke="#8f2018" stroke-width="0.5" /><path d="M-19.8,69.12 h39.6 M-19.8,72.25 h39.6 M-19.8,75.38 h39.6 M-19.8,78.5 h39.6 M-19.8,81.62 h39.6 M-19.8,84.75 h39.6 M-19.8,87.88 h39.6 M-15.4,66 v3.12 M-11,66 v3.12 M-6.6,66 v3.12 M-2.2,66 v3.12 M2.2,66 v3.12 M6.6,66 v3.12 M11,66 v3.12 M15.4,66 v3.12 M-17.6,69.12 v3.12 M-13.2,69.12 v3.12 M-8.8,69.12 v3.12 M-4.4,69.12 v3.12 M0,69.12 v3.12 M4.4,69.12 v3.12 M8.8,69.12 v3.12 M13.2,69.12 v3.12 M17.6,69.12 v3.12 M-15.4,72.25 v3.12 M-11,72.25 v3.12 M-6.6,72.25 v3.12 M-2.2,72.25 v3.12 M2.2,72.25 v3.12 M6.6,72.25 v3.12 M11,72.25 v3.12 M15.4,72.25 v3.12 M-17.6,75.38 v3.12 M-13.2,75.38 v3.12 M-8.8,75.38 v3.12 M-4.4,75.38 v3.12 M0,75.38 v3.12 M4.4,75.38 v3.12 M8.8,75.38 v3.12 M13.2,75.38 v3.12 M17.6,75.38 v3.12 M-15.4,78.5 v3.12 M-11,78.5 v3.12 M-6.6,78.5 v3.12 M-2.2,78.5 v3.12 M2.2,78.5 v3.12 M6.6,78.5 v3.12 M11,78.5 v3.12 M15.4,78.5 v3.12 M-17.6,81.62 v3.12 M-13.2,81.62 v3.12 M-8.8,81.62 v3.12 M-4.4,81.62 v3.12 M0,81.62 v3.12 M4.4,81.62 v3.12 M8.8,81.62 v3.12 M13.2,81.62 v3.12 M17.6,81.62 v3.12 M-15.4,84.75 v3.12 M-11,84.75 v3.12 M-6.6,84.75 v3.12 M-2.2,84.75 v3.12 M2.2,84.75 v3.12 M6.6,84.75 v3.12 M11,84.75 v3.12 M15.4,84.75 v3.12 M-17.6,87.88 v3.12 M-13.2,87.88 v3.12 M-8.8,87.88 v3.12 M-4.4,87.88 v3.12 M0,87.88 v3.12 M4.4,87.88 v3.12 M8.8,87.88 v3.12 M13.2,87.88 v3.12 M17.6,87.88 v3.12 " fill="none" stroke="#8f2018" stroke-width="0.4"/><polygon points="-19.8,66 -15.4,62.5 15.8,62.5 19.8,66" fill="#e0483c" stroke="#8f2018" stroke-width="0.5" /><rect x="-15.4" y="27" width="31.2" height="36" fill="#e0483c" stroke="#8f2018" stroke-width="0.5" /><path d="M-15.4,30 h31.2 M-15.4,33 h31.2 M-15.4,36 h31.2 M-15.4,39 h31.2 M-15.4,42 h31.2 M-15.4,45 h31.2 M-15.4,48 h31.2 M-15.4,51 h31.2 M-15.4,54 h31.2 M-15.4,57 h31.2 M-15.4,60 h31.2 M-10.94,27 v3 M-6.49,27 v3 M-2.03,27 v3 M2.43,27 v3 M6.89,27 v3 M11.34,27 v3 M-13.17,30 v3 M-8.71,30 v3 M-4.26,30 v3 M0.2,30 v3 M4.66,30 v3 M9.11,30 v3 M13.57,30 v3 M-10.94,33 v3 M-6.49,33 v3 M-2.03,33 v3 M2.43,33 v3 M6.89,33 v3 M11.34,33 v3 M-13.17,36 v3 M-8.71,36 v3 M-4.26,36 v3 M0.2,36 v3 M4.66,36 v3 M9.11,36 v3 M13.57,36 v3 M-10.94,39 v3 M-6.49,39 v3 M-2.03,39 v3 M2.43,39 v3 M6.89,39 v3 M11.34,39 v3 M-13.17,42 v3 M-8.71,42 v3 M-4.26,42 v3 M0.2,42 v3 M4.66,42 v3 M9.11,42 v3 M13.57,42 v3 M-10.94,45 v3 M-6.49,45 v3 M-2.03,45 v3 M2.43,45 v3 M6.89,45 v3 M11.34,45 v3 M-13.17,48 v3 M-8.71,48 v3 M-4.26,48 v3 M0.2,48 v3 M4.66,48 v3 M9.11,48 v3 M13.57,48 v3 M-10.94,51 v3 M-6.49,51 v3 M-2.03,51 v3 M2.43,51 v3 M6.89,51 v3 M11.34,51 v3 M-13.17,54 v3 M-8.71,54 v3 M-4.26,54 v3 M0.2,54 v3 M4.66,54 v3 M9.11,54 v3 M13.57,54 v3 M-10.94,57 v3 M-6.49,57 v3 M-2.03,57 v3 M2.43,57 v3 M6.89,57 v3 M11.34,57 v3 M-13.17,60 v3 M-8.71,60 v3 M-4.26,60 v3 M0.2,60 v3 M4.66,60 v3 M9.11,60 v3 M13.57,60 v3 " fill="none" stroke="#8f2018" stroke-width="0.4"/><rect x="-17.6" y="22.6" width="35" height="5.6" fill="#e0483c" stroke="#8f2018" stroke-width="0.5" /><rect x="-17.6" y="19.6" width="3.18" height="3.2" fill="#e0483c" stroke="#8f2018" stroke-width="0.4" /><rect x="-11.24" y="19.6" width="3.18" height="3.2" fill="#e0483c" stroke="#8f2018" stroke-width="0.4" /><rect x="-4.87" y="19.6" width="3.18" height="3.2" fill="#e0483c" stroke="#8f2018" stroke-width="0.4" /><rect x="1.49" y="19.6" width="3.18" height="3.2" fill="#e0483c" stroke="#8f2018" stroke-width="0.4" /><rect x="7.85" y="19.6" width="3.18" height="3.2" fill="#e0483c" stroke="#8f2018" stroke-width="0.4" /><rect x="14.22" y="19.6" width="3.18" height="3.2" fill="#e0483c" stroke="#8f2018" stroke-width="0.4" /><path d="M-5.1,90.6 v-14.5 a4.9,4.9 0 0 1 9.8,0 v14.5Z" fill="#0a0a0a" /><path d="M-9.7,35.7 H9.1 V47.5 C9.1,54.11 3.84,58.12 -0.3,59.3 C-4.44,58.12 -9.7,54.11 -9.7,47.5Z" fill="#e9e9e9" stroke="#7a7a7a" stroke-width="0.6" /><path d="M-2.56,38.06 h4.51 v2.6 q0,2.12 -2.26,2.12 q-2.26,0 -2.26,-2.12Z" fill="#1f5fa8" stroke="#123a6b" stroke-width="0.3" /><path d="M-7.91,43.72 h4.51 v2.6 q0,2.12 -2.26,2.12 q-2.26,0 -2.26,-2.12Z" fill="#1f5fa8" stroke="#123a6b" stroke-width="0.3" /><path d="M-2.56,43.72 h4.51 v2.6 q0,2.12 -2.26,2.12 q-2.26,0 -2.26,-2.12Z" fill="#1f5fa8" stroke="#123a6b" stroke-width="0.3" /><path d="M2.8,43.72 h4.51 v2.6 q0,2.12 -2.26,2.12 q-2.26,0 -2.26,-2.12Z" fill="#1f5fa8" stroke="#123a6b" stroke-width="0.3" /><path d="M-2.56,49.39 h4.51 v2.6 q0,2.12 -2.26,2.12 q-2.26,0 -2.26,-2.12Z" fill="#1f5fa8" stroke="#123a6b" stroke-width="0.3" /><path d="M-17.5,50 c-3,1 -3,4 -1,5 c-2,1 -2,4 0,5 M17.5,50 c3,1 3,4 1,5 c2,1 2,4 0,5" fill="none" stroke="#15120f" stroke-width="1.2" /></g><path d="M-45,0H45V56.7A45,45 0 0 1 -45,56.7Z" fill="none" stroke="#555" stroke-width="0.8"/><g><path d="M-48.8,-3.2Q0,-13.6 48.8,-3.2L45,0.6H-45Z" fill="#fff"/><path d="M-49.5,-10 L-40.5,-27.8 h2.07 v1.7 h2.07 v-1.7 h2.07 v1.7 h2.07 v-1.7 h2.07 v1.7 h2.07 v-1.7 h2.07 L-26,-14 H-9.5 V-31.4 h2.11 v1.7 h2.11 v-1.7 h2.11 v1.7 h2.11 v-1.7 h2.11 v1.7 h2.11 v-1.7 h2.11 v1.7 h2.11 v-1.7 h2.11 V-14 H26 V-27.8 h2.07 v1.7 h2.07 v-1.7 h2.07 v1.7 h2.07 v-1.7 h2.07 v1.7 h2.07 v-1.7 h2.07 L49.5,-10 Q0,-20.5 -49.5,-10Z" fill="#989898" stroke="#5a5a5a" stroke-width=".6"/><clipPath id="cw4"><path d="M-49.5,-10 L-40.5,-27.8 h2.07 v1.7 h2.07 v-1.7 h2.07 v1.7 h2.07 v-1.7 h2.07 v1.7 h2.07 v-1.7 h2.07 L-26,-14 H-9.5 V-31.4 h2.11 v1.7 h2.11 v-1.7 h2.11 v1.7 h2.11 v-1.7 h2.11 v1.7 h2.11 v-1.7 h2.11 v1.7 h2.11 v-1.7 h2.11 V-14 H26 V-27.8 h2.07 v1.7 h2.07 v-1.7 h2.07 v1.7 h2.07 v-1.7 h2.07 v1.7 h2.07 v-1.7 h2.07 L49.5,-10 Q0,-20.5 -49.5,-10Z"/></clipPath><path d="M-45,-20.8 Q0,-31.2 45,-20.8 M-45,-18 Q0,-28.4 45,-18 M-45,-15.2 Q0,-25.6 45,-15.2 M-45,-12.4 Q0,-22.8 45,-12.4 M-45,-9.6 Q0,-20 45,-9.6 M-44,-12 v-20 M-40.7,-12 v-20 M-39.6,-12 v-20 M-36.3,-12 v-20 M-35.2,-12 v-20 M-31.9,-12 v-20 M-30.8,-12 v-20 M-27.5,-12 v-20 M-26.4,-12 v-20 M-23.1,-12 v-20 M-22,-12 v-20 M-18.7,-12 v-20 M-17.6,-12 v-20 M-14.3,-12 v-20 M-13.2,-12 v-20 M-9.9,-12 v-20 M-8.8,-12 v-20 M-5.5,-12 v-20 M-4.4,-12 v-20 M-1.1,-12 v-20 M0,-12 v-20 M3.3,-12 v-20 M4.4,-12 v-20 M7.7,-12 v-20 M8.8,-12 v-20 M12.1,-12 v-20 M13.2,-12 v-20 M16.5,-12 v-20 M17.6,-12 v-20 M20.9,-12 v-20 M22,-12 v-20 M25.3,-12 v-20 M26.4,-12 v-20 M29.7,-12 v-20 M30.8,-12 v-20 M34.1,-12 v-20 M35.2,-12 v-20 M38.5,-12 v-20 M39.6,-12 v-20 M42.9,-12 v-20 M44,-12 v-20 " fill="none" stroke="#6c6c6c" stroke-width=".5" clip-path="url(#cw4)"/><path d="M-49.8,-10.4 Q0,-21 49.8,-10.4 L48.9,-3.1 Q0,-13.6 -48.9,-3.1Z" fill="#acacac" stroke="#4e4e4e" stroke-width=".7"/><path d="M-49.4,-8.0 Q0,-18.5 49.4,-8.0" fill="none" stroke="#e4e4e4" stroke-width="1.4"/><path d="M-49.1,-5.4 Q0,-15.9 49.1,-5.4" fill="none" stroke="#747474" stroke-width="1"/><polygon points="48.9,-8.2 56,-24.5 44.2,-29.4 38,-13.6" fill="#a2a2a2" stroke="#505050" stroke-width=".6"/><polygon points="60.6,-27.4 59.2,-32.6 56.2,-33.8 55.4,-31.7 53.1,-32.6 53.9,-34.7 50.9,-35.9 50.1,-33.8 47.8,-34.7 48.6,-36.8 45.6,-38 42.6,-33 43.6,-29.8 56.4,-23.6" fill="#bcbcbc" stroke="#4c4c4c" stroke-width=".6"/><polygon points="49.6,-14.6 52.4,-21.2 49.4,-22.4 46.4,-16" fill="#3c3c3c"/><polygon points="55.6,-26.4 44.6,-31 44,-29.6 55,-25" fill="#4a4a4a"/><polygon points="-48.9,-8.2 -56,-24.5 -44.2,-29.4 -38,-13.6" fill="#a2a2a2" stroke="#505050" stroke-width=".6"/><polygon points="-60.6,-27.4 -59.2,-32.6 -56.2,-33.8 -55.4,-31.7 -53.1,-32.6 -53.9,-34.7 -50.9,-35.9 -50.1,-33.8 -47.8,-34.7 -48.6,-36.8 -45.6,-38 -42.6,-33 -43.6,-29.8 -56.4,-23.6" fill="#bcbcbc" stroke="#4c4c4c" stroke-width=".6"/><polygon points="-49.6,-14.6 -52.4,-21.2 -49.4,-22.4 -46.4,-16" fill="#3c3c3c"/><polygon points="-55.6,-26.4 -44.6,-31 -44,-29.6 -55,-25" fill="#4a4a4a"/><path d="M-27.8,-15 L-25.6,-36 H-10.8 L-8.6,-15Z" fill="#a6a6a6" stroke="#505050" stroke-width=".6"/><path d="M-29,-36 V-42.2 h3.3 v2.2 h2.8 v-2.2 h3.3 v2.2 h2.8 v-2.2 h3.3 v2.2 h2.8 v-2.2 h3.3 V-36Z" fill="#bababa" stroke="#4c4c4c" stroke-width=".6"/><rect x="-29" y="-37.8" width="21.6" height="1.6" fill="#6e6e6e"/><path d="M-21.8,-16.5 v-8 a3.6,4 0 0 1 7.2,0 v8Z" fill="#4e4e4e"/><path d="M-19.8,-16.8 v-7 a2.3,2.8 0 0 1 4.6,0 v7Z" fill="#cfcfcf"/><path d="M-19.2,-19h3.4M-19.2,-21.4h3.4M-19,-23.6h3" stroke="#777" stroke-width=".6" fill="none"/><rect x="-23.2" y="-34.2" width="1.7" height="3.4" fill="#222"/><rect x="-14.9" y="-34.2" width="1.7" height="3.4" fill="#222"/><path d="M8.6,-15 L10.8,-36 H25.6 L27.8,-15Z" fill="#a6a6a6" stroke="#505050" stroke-width=".6"/><path d="M7.4,-36 V-42.2 h3.3 v2.2 h2.8 v-2.2 h3.3 v2.2 h2.8 v-2.2 h3.3 v2.2 h2.8 v-2.2 h3.3 V-36Z" fill="#bababa" stroke="#4c4c4c" stroke-width=".6"/><rect x="7.4" y="-37.8" width="21.6" height="1.6" fill="#6e6e6e"/><path d="M14.6,-16.5 v-8 a3.6,4 0 0 1 7.2,0 v8Z" fill="#4e4e4e"/><path d="M16.6,-16.8 v-7 a2.3,2.8 0 0 1 4.6,0 v7Z" fill="#cfcfcf"/><path d="M17.2,-19h3.4M17.2,-21.4h3.4M17.4,-23.6h3" stroke="#777" stroke-width=".6" fill="none"/><rect x="13.2" y="-34.2" width="1.7" height="3.4" fill="#222"/><rect x="21.5" y="-34.2" width="1.7" height="3.4" fill="#222"/></g><path id="t10" d="M-62.46,69.5 A63.3,72.6 0 0 0 62.79,66.86" fill="none"/><text font-family="'Liberation Sans',sans-serif" font-size="22.5" font-weight="700" fill="#0c0c0c" text-anchor="middle" word-spacing="3"><textPath href="#t10" startOffset="50%" textLength="161.37" lengthAdjust="spacingAndGlyphs">ARRUDA DOS VINHOS</textPath></text></g></svg>
<svg class="coa" style="left:1958.3px;top:2038px" width="210" height="250" viewBox="-105 -65 210 250"><g transform="scale(1)"><path d="M-65.93,51.5 A66.3,69.2 0 1 0 65.93,51.5 L46.54,60.5 A46.7,46.7 0 1 1 -46.54,60.5 Z" fill="#fff" stroke="#6f6f6f" stroke-width=".7"/><g transform="scale(-1,1)" fill="#fff" stroke="#6e6e6e" stroke-width=".7" stroke-linejoin="round"><path d="M-66.2,43.8 L-78.4,41.6 L-78.9,64.2 L-67.8,66 L-64.2,53 Z"/><path d="M-77.6,42 v5.6 M-77.6,57.6 v6 M-76.05,42.28 v5.6 M-76.05,57.84 v6 M-74.5,42.56 v5.6 M-74.5,58.08 v6 M-72.95,42.84 v5.6 M-72.95,58.32 v6 M-71.4,43.12 v5.6 M-71.4,58.56 v6 M-69.85,43.4 v5.6 M-69.85,58.8 v6 M-68.3,43.68 v5.6 M-68.3,59.04 v6 " fill="none" stroke-width=".55"/><path d="M-78.6,49.4 L-65.4,51.4 M-78.8,56.4 L-65.6,58" fill="none" stroke-width=".5"/><path d="M-63,45.5 C-58,48 -53,44 -54.5,40.5 L-51.5,31.5 C-53,28 -58,27 -62.5,21.8 C-58,20.5 -54,21 -52.5,19.5 C-49.5,16 -54,11.5 -57,14 C-59,16 -57,19 -54.5,19.8 M-62.5,21.8 C-66,26 -69,30 -68.2,32.5 C-65,35 -60,36 -57.5,38.5 C-60,41 -63,43 -63,45.5Z"/><path d="M-57.4,29.4 v8 M-56,30 v7.4 M-54.6,30.6 v6.4 M-53.4,31.2 v5 M-66,30.5 l3.4,2.4 M-64.4,27.8 l3.6,2.6 M-60.5,23.6 l3,1.8" fill="none" stroke-width=".5"/><path d="M-63,53.6 l.7,3 M-61,54.6 l.7,3 M-59,55.6 l.7,3 M-57,56.6 l.7,3 M-55,57.6 l.7,3 M-53,58.6 l.7,3 M-51,59.6 l.7,3 M-49,60.6 l.7,3 " fill="none" stroke-width=".55"/><path d="M-64.5,52.6 C-60,54.5 -54,57.6 -47.8,60.4" fill="none"/></g><g transform="scale(1,1)" fill="#fff" stroke="#6e6e6e" stroke-width=".7" stroke-linejoin="round"><path d="M-66.2,43.8 L-78.4,41.6 L-78.9,64.2 L-67.8,66 L-64.2,53 Z"/><path d="M-77.6,42 v5.6 M-77.6,57.6 v6 M-76.05,42.28 v5.6 M-76.05,57.84 v6 M-74.5,42.56 v5.6 M-74.5,58.08 v6 M-72.95,42.84 v5.6 M-72.95,58.32 v6 M-71.4,43.12 v5.6 M-71.4,58.56 v6 M-69.85,43.4 v5.6 M-69.85,58.8 v6 M-68.3,43.68 v5.6 M-68.3,59.04 v6 " fill="none" stroke-width=".55"/><path d="M-78.6,49.4 L-65.4,51.4 M-78.8,56.4 L-65.6,58" fill="none" stroke-width=".5"/><path d="M-63,45.5 C-58,48 -53,44 -54.5,40.5 L-51.5,31.5 C-53,28 -58,27 -62.5,21.8 C-58,20.5 -54,21 -52.5,19.5 C-49.5,16 -54,11.5 -57,14 C-59,16 -57,19 -54.5,19.8 M-62.5,21.8 C-66,26 -69,30 -68.2,32.5 C-65,35 -60,36 -57.5,38.5 C-60,41 -63,43 -63,45.5Z"/><path d="M-57.4,29.4 v8 M-56,30 v7.4 M-54.6,30.6 v6.4 M-53.4,31.2 v5 M-66,30.5 l3.4,2.4 M-64.4,27.8 l3.6,2.6 M-60.5,23.6 l3,1.8" fill="none" stroke-width=".5"/><path d="M-63,53.6 l.7,3 M-61,54.6 l.7,3 M-59,55.6 l.7,3 M-57,56.6 l.7,3 M-55,57.6 l.7,3 M-53,58.6 l.7,3 M-51,59.6 l.7,3 M-49,60.6 l.7,3 " fill="none" stroke-width=".55"/><path d="M-64.5,52.6 C-60,54.5 -54,57.6 -47.8,60.4" fill="none"/></g><defs><clipPath id="ct11"><path d="M-45,0H45V56.7A45,45 0 0 1 -45,56.7Z"/></clipPath><radialGradient id="sg11" cx="55%" cy="50%" r="65%"><stop offset="0" stop-color="#ececec"/><stop offset=".55" stop-color="#cfcfcf"/><stop offset="1" stop-color="#adadad"/></radialGradient></defs><path d="M-45,0H45V56.7A45,45 0 0 1 -45,56.7Z" fill="#08090e"/><g clip-path="url(#ct11)"><path d="M-39.6,4.8 l3,3.2 M-33.6,4.8 l-3,3.2 M-36.6,4.4 v3.6" fill="none" stroke="#bdbdbd" stroke-width="1.3" /><polygon points="-38.8,9.8 -38.1,6.8 -35.1,6.8 -34.4,9.8" fill="#d9d0d0" stroke="#8a7a7a" stroke-width="0.3" /><rect x="-41" y="9.8" width="8.8" height="5.2" fill="#ead8d8" stroke="#8a4a4a" stroke-width="0.3" /><rect x="-41" y="11.4" width="8.8" height="1.6" fill="#c03a3a" /><rect x="-37.6" y="12.6" width="2" height="2.4" fill="#7a1d1d" /><path d="M-15.8,4.8 l3,3.2 M-9.8,4.8 l-3,3.2 M-12.8,4.4 v3.6" fill="none" stroke="#bdbdbd" stroke-width="1.3" /><polygon points="-15,9.8 -14.3,6.8 -11.3,6.8 -10.6,9.8" fill="#d9d0d0" stroke="#8a7a7a" stroke-width="0.3" /><rect x="-17.2" y="9.8" width="8.8" height="5.2" fill="#ead8d8" stroke="#8a4a4a" stroke-width="0.3" /><rect x="-17.2" y="11.4" width="8.8" height="1.6" fill="#c03a3a" /><rect x="-13.8" y="12.6" width="2" height="2.4" fill="#7a1d1d" /><path d="M8,4.8 l3,3.2 M14,4.8 l-3,3.2 M11,4.4 v3.6" fill="none" stroke="#bdbdbd" stroke-width="1.3" /><polygon points="8.8,9.8 9.5,6.8 12.5,6.8 13.2,9.8" fill="#d9d0d0" stroke="#8a7a7a" stroke-width="0.3" /><rect x="6.6" y="9.8" width="8.8" height="5.2" fill="#ead8d8" stroke="#8a4a4a" stroke-width="0.3" /><rect x="6.6" y="11.4" width="8.8" height="1.6" fill="#c03a3a" /><rect x="10" y="12.6" width="2" height="2.4" fill="#7a1d1d" /><path d="M33.4,4.8 l3,3.2 M39.4,4.8 l-3,3.2 M36.4,4.4 v3.6" fill="none" stroke="#bdbdbd" stroke-width="1.3" /><polygon points="34.2,9.8 34.9,6.8 37.9,6.8 38.6,9.8" fill="#d9d0d0" stroke="#8a7a7a" stroke-width="0.3" /><rect x="32" y="9.8" width="8.8" height="5.2" fill="#ead8d8" stroke="#8a4a4a" stroke-width="0.3" /><rect x="32" y="11.4" width="8.8" height="1.6" fill="#c03a3a" /><rect x="35.4" y="12.6" width="2" height="2.4" fill="#7a1d1d" /><path d="M-40,30.6 l3,3.2 M-34,30.6 l-3,3.2 M-37,30.2 v3.6" fill="none" stroke="#bdbdbd" stroke-width="1.3" /><polygon points="-39.2,35.6 -38.5,32.6 -35.5,32.6 -34.8,35.6" fill="#d9d0d0" stroke="#8a7a7a" stroke-width="0.3" /><rect x="-41.4" y="35.6" width="8.8" height="5.2" fill="#ead8d8" stroke="#8a4a4a" stroke-width="0.3" /><rect x="-41.4" y="37.2" width="8.8" height="1.6" fill="#c03a3a" /><rect x="-38" y="38.4" width="2" height="2.4" fill="#7a1d1d" /><path d="M33.4,30.6 l3,3.2 M39.4,30.6 l-3,3.2 M36.4,30.2 v3.6" fill="none" stroke="#bdbdbd" stroke-width="1.3" /><polygon points="34.2,35.6 34.9,32.6 37.9,32.6 38.6,35.6" fill="#d9d0d0" stroke="#8a7a7a" stroke-width="0.3" /><rect x="32" y="35.6" width="8.8" height="5.2" fill="#ead8d8" stroke="#8a4a4a" stroke-width="0.3" /><rect x="32" y="37.2" width="8.8" height="1.6" fill="#c03a3a" /><rect x="35.4" y="38.4" width="2" height="2.4" fill="#7a1d1d" /><path d="M-40,56.4 l3,3.2 M-34,56.4 l-3,3.2 M-37,56 v3.6" fill="none" stroke="#bdbdbd" stroke-width="1.3" /><polygon points="-39.2,61.4 -38.5,58.4 -35.5,58.4 -34.8,61.4" fill="#d9d0d0" stroke="#8a7a7a" stroke-width="0.3" /><rect x="-41.4" y="61.4" width="8.8" height="5.2" fill="#ead8d8" stroke="#8a4a4a" stroke-width="0.3" /><rect x="-41.4" y="63" width="8.8" height="1.6" fill="#c03a3a" /><rect x="-38" y="64.2" width="2" height="2.4" fill="#7a1d1d" /><path d="M33.4,56.4 l3,3.2 M39.4,56.4 l-3,3.2 M36.4,56 v3.6" fill="none" stroke="#bdbdbd" stroke-width="1.3" /><polygon points="34.2,61.4 34.9,58.4 37.9,58.4 38.6,61.4" fill="#d9d0d0" stroke="#8a7a7a" stroke-width="0.3" /><rect x="32" y="61.4" width="8.8" height="5.2" fill="#ead8d8" stroke="#8a4a4a" stroke-width="0.3" /><rect x="32" y="63" width="8.8" height="1.6" fill="#c03a3a" /><rect x="35.4" y="64.2" width="2" height="2.4" fill="#7a1d1d" /><path d="M-26.9,82.2 l3,3.2 M-20.9,82.2 l-3,3.2 M-23.9,81.8 v3.6" fill="none" stroke="#bdbdbd" stroke-width="1.3" /><polygon points="-26.1,87.2 -25.4,84.2 -22.4,84.2 -21.7,87.2" fill="#d9d0d0" stroke="#8a7a7a" stroke-width="0.3" /><rect x="-28.3" y="87.2" width="8.8" height="5.2" fill="#ead8d8" stroke="#8a4a4a" stroke-width="0.3" /><rect x="-28.3" y="88.8" width="8.8" height="1.6" fill="#c03a3a" /><rect x="-24.9" y="90" width="2" height="2.4" fill="#7a1d1d" /><path d="M20.2,82.2 l3,3.2 M26.2,82.2 l-3,3.2 M23.2,81.8 v3.6" fill="none" stroke="#bdbdbd" stroke-width="1.3" /><polygon points="21,87.2 21.7,84.2 24.7,84.2 25.4,87.2" fill="#d9d0d0" stroke="#8a7a7a" stroke-width="0.3" /><rect x="18.8" y="87.2" width="8.8" height="5.2" fill="#ead8d8" stroke="#8a4a4a" stroke-width="0.3" /><rect x="18.8" y="88.8" width="8.8" height="1.6" fill="#c03a3a" /><rect x="22.2" y="90" width="2" height="2.4" fill="#7a1d1d" /><path d="M-3.6,89.8 l3,3.2 M2.4,89.8 l-3,3.2 M-0.6,89.4 v3.6" fill="none" stroke="#bdbdbd" stroke-width="1.3" /><polygon points="-2.8,94.8 -2.1,91.8 0.9,91.8 1.6,94.8" fill="#d9d0d0" stroke="#8a7a7a" stroke-width="0.3" /><rect x="-5" y="94.8" width="8.8" height="5.2" fill="#ead8d8" stroke="#8a4a4a" stroke-width="0.3" /><rect x="-5" y="96.4" width="8.8" height="1.6" fill="#c03a3a" /><rect x="-1.6" y="97.6" width="2" height="2.4" fill="#7a1d1d" /><path d="M-28.5,19.4 H28.8 V60 C28.8,72 16,82 0,88 C-16,82 -28.5,72 -28.5,60Z" fill="url(#sg11)" stroke="#888" stroke-width="0.6" /><path d="M-20.5,78 L-16,71 L-13,66 L-8,63 L-4,57.5 L0,55.5 L4,58 L8,63 L11,66 L13.5,61 L17,66 L21,75 L24,80 L12,86 L0,90 L-12,86Z" fill="#08090b" /><path d="M-4,58 C-6,63 -8,68 -7,74 C-4,72 -2,66 -1,60Z M6,70 C8,74 10,79 11,83 C14,80 12,74 9,69Z M-17,78 C-15,73 -11,71 -9,74 C-9,79 -11,83 -14,84Z M-2,82 C0,80 3,80 4,82 C3,84 0,85 -2,84Z" fill="#1f8a4c" /><path d="M-2.6,41 C-1.6,48 -2,53 -3.4,58.5 H3.6 C2.6,53 2.6,48 3.4,41Z" fill="#1f8a4c" stroke="#0f5a30" stroke-width="0.4" /><path d="M-3,44 C-8,46 -12,47.5 -16,45.5 C-21,46.5 -25,43 -24,38.5 C-26.5,35 -25,30 -21,28.5 C-21,24 -16,22 -12,23.5 C-8,21 -2,21.5 1,23 C6,21 12,21.5 15,24 C20,22.5 24.5,25 24.5,29 C27.5,32 27,37 24.5,39 C25.5,43.5 21,46.5 17,45 C13,48 7,46 3.4,44Z" fill="#1f8a4c" stroke="#0f5a30" stroke-width="0.5" /><path d="M-18,32 c3,-4 8,-4 11,-1 M-8,28 c4,-3 9,-3 12,0 M6,30 c4,-3 9,-2 12,1 M-20,39 c4,-3 8,-2 10,1 M10,38 c3,-3 7,-3 10,0 M-6,36 c3,-2 7,-2 10,1" fill="none" stroke="#0f5a30" stroke-width="0.7" /><path d="M-1.4,42 l-2.6,-3 M1.6,42 l2.8,-3" fill="none" stroke="#e8e8e8" stroke-width="0.8" /></g><path d="M-45,0H45V56.7A45,45 0 0 1 -45,56.7Z" fill="none" stroke="#222" stroke-width="0.8"/><g><path d="M-48.8,-3.2Q0,-13.6 48.8,-3.2L45,0.6H-45Z" fill="#fff"/><path d="M-49.5,-10 L-40.5,-27.8 h2.07 v1.7 h2.07 v-1.7 h2.07 v1.7 h2.07 v-1.7 h2.07 v1.7 h2.07 v-1.7 h2.07 L-26,-14 H-9.5 V-31.4 h2.11 v1.7 h2.11 v-1.7 h2.11 v1.7 h2.11 v-1.7 h2.11 v1.7 h2.11 v-1.7 h2.11 v1.7 h2.11 v-1.7 h2.11 V-14 H26 V-27.8 h2.07 v1.7 h2.07 v-1.7 h2.07 v1.7 h2.07 v-1.7 h2.07 v1.7 h2.07 v-1.7 h2.07 L49.5,-10 Q0,-20.5 -49.5,-10Z" fill="#989898" stroke="#5a5a5a" stroke-width=".6"/><clipPath id="cw4"><path d="M-49.5,-10 L-40.5,-27.8 h2.07 v1.7 h2.07 v-1.7 h2.07 v1.7 h2.07 v-1.7 h2.07 v1.7 h2.07 v-1.7 h2.07 L-26,-14 H-9.5 V-31.4 h2.11 v1.7 h2.11 v-1.7 h2.11 v1.7 h2.11 v-1.7 h2.11 v1.7 h2.11 v-1.7 h2.11 v1.7 h2.11 v-1.7 h2.11 V-14 H26 V-27.8 h2.07 v1.7 h2.07 v-1.7 h2.07 v1.7 h2.07 v-1.7 h2.07 v1.7 h2.07 v-1.7 h2.07 L49.5,-10 Q0,-20.5 -49.5,-10Z"/></clipPath><path d="M-45,-20.8 Q0,-31.2 45,-20.8 M-45,-18 Q0,-28.4 45,-18 M-45,-15.2 Q0,-25.6 45,-15.2 M-45,-12.4 Q0,-22.8 45,-12.4 M-45,-9.6 Q0,-20 45,-9.6 M-44,-12 v-20 M-40.7,-12 v-20 M-39.6,-12 v-20 M-36.3,-12 v-20 M-35.2,-12 v-20 M-31.9,-12 v-20 M-30.8,-12 v-20 M-27.5,-12 v-20 M-26.4,-12 v-20 M-23.1,-12 v-20 M-22,-12 v-20 M-18.7,-12 v-20 M-17.6,-12 v-20 M-14.3,-12 v-20 M-13.2,-12 v-20 M-9.9,-12 v-20 M-8.8,-12 v-20 M-5.5,-12 v-20 M-4.4,-12 v-20 M-1.1,-12 v-20 M0,-12 v-20 M3.3,-12 v-20 M4.4,-12 v-20 M7.7,-12 v-20 M8.8,-12 v-20 M12.1,-12 v-20 M13.2,-12 v-20 M16.5,-12 v-20 M17.6,-12 v-20 M20.9,-12 v-20 M22,-12 v-20 M25.3,-12 v-20 M26.4,-12 v-20 M29.7,-12 v-20 M30.8,-12 v-20 M34.1,-12 v-20 M35.2,-12 v-20 M38.5,-12 v-20 M39.6,-12 v-20 M42.9,-12 v-20 M44,-12 v-20 " fill="none" stroke="#6c6c6c" stroke-width=".5" clip-path="url(#cw4)"/><path d="M-49.8,-10.4 Q0,-21 49.8,-10.4 L48.9,-3.1 Q0,-13.6 -48.9,-3.1Z" fill="#acacac" stroke="#4e4e4e" stroke-width=".7"/><path d="M-49.4,-8.0 Q0,-18.5 49.4,-8.0" fill="none" stroke="#e4e4e4" stroke-width="1.4"/><path d="M-49.1,-5.4 Q0,-15.9 49.1,-5.4" fill="none" stroke="#747474" stroke-width="1"/><polygon points="48.9,-8.2 56,-24.5 44.2,-29.4 38,-13.6" fill="#a2a2a2" stroke="#505050" stroke-width=".6"/><polygon points="60.6,-27.4 59.2,-32.6 56.2,-33.8 55.4,-31.7 53.1,-32.6 53.9,-34.7 50.9,-35.9 50.1,-33.8 47.8,-34.7 48.6,-36.8 45.6,-38 42.6,-33 43.6,-29.8 56.4,-23.6" fill="#bcbcbc" stroke="#4c4c4c" stroke-width=".6"/><polygon points="49.6,-14.6 52.4,-21.2 49.4,-22.4 46.4,-16" fill="#3c3c3c"/><polygon points="55.6,-26.4 44.6,-31 44,-29.6 55,-25" fill="#4a4a4a"/><polygon points="-48.9,-8.2 -56,-24.5 -44.2,-29.4 -38,-13.6" fill="#a2a2a2" stroke="#505050" stroke-width=".6"/><polygon points="-60.6,-27.4 -59.2,-32.6 -56.2,-33.8 -55.4,-31.7 -53.1,-32.6 -53.9,-34.7 -50.9,-35.9 -50.1,-33.8 -47.8,-34.7 -48.6,-36.8 -45.6,-38 -42.6,-33 -43.6,-29.8 -56.4,-23.6" fill="#bcbcbc" stroke="#4c4c4c" stroke-width=".6"/><polygon points="-49.6,-14.6 -52.4,-21.2 -49.4,-22.4 -46.4,-16" fill="#3c3c3c"/><polygon points="-55.6,-26.4 -44.6,-31 -44,-29.6 -55,-25" fill="#4a4a4a"/><path d="M-27.8,-15 L-25.6,-36 H-10.8 L-8.6,-15Z" fill="#a6a6a6" stroke="#505050" stroke-width=".6"/><path d="M-29,-36 V-42.2 h3.3 v2.2 h2.8 v-2.2 h3.3 v2.2 h2.8 v-2.2 h3.3 v2.2 h2.8 v-2.2 h3.3 V-36Z" fill="#bababa" stroke="#4c4c4c" stroke-width=".6"/><rect x="-29" y="-37.8" width="21.6" height="1.6" fill="#6e6e6e"/><path d="M-21.8,-16.5 v-8 a3.6,4 0 0 1 7.2,0 v8Z" fill="#4e4e4e"/><path d="M-19.8,-16.8 v-7 a2.3,2.8 0 0 1 4.6,0 v7Z" fill="#cfcfcf"/><path d="M-19.2,-19h3.4M-19.2,-21.4h3.4M-19,-23.6h3" stroke="#777" stroke-width=".6" fill="none"/><rect x="-23.2" y="-34.2" width="1.7" height="3.4" fill="#222"/><rect x="-14.9" y="-34.2" width="1.7" height="3.4" fill="#222"/><path d="M8.6,-15 L10.8,-36 H25.6 L27.8,-15Z" fill="#a6a6a6" stroke="#505050" stroke-width=".6"/><path d="M7.4,-36 V-42.2 h3.3 v2.2 h2.8 v-2.2 h3.3 v2.2 h2.8 v-2.2 h3.3 v2.2 h2.8 v-2.2 h3.3 V-36Z" fill="#bababa" stroke="#4c4c4c" stroke-width=".6"/><rect x="7.4" y="-37.8" width="21.6" height="1.6" fill="#6e6e6e"/><path d="M14.6,-16.5 v-8 a3.6,4 0 0 1 7.2,0 v8Z" fill="#4e4e4e"/><path d="M16.6,-16.8 v-7 a2.3,2.8 0 0 1 4.6,0 v7Z" fill="#cfcfcf"/><path d="M17.2,-19h3.4M17.2,-21.4h3.4M17.4,-23.6h3" stroke="#777" stroke-width=".6" fill="none"/><rect x="13.2" y="-34.2" width="1.7" height="3.4" fill="#222"/><rect x="21.5" y="-34.2" width="1.7" height="3.4" fill="#222"/></g><path id="t11" d="M-62.62,67.56 A63.3,67.7 0 0 0 62.68,67.12" fill="none"/><text font-family="'Liberation Sans',sans-serif" font-size="16.8" font-weight="700" fill="#0c0c0c" text-anchor="middle" word-spacing="2.5"><textPath href="#t11" startOffset="50%" textLength="155.38" lengthAdjust="spacingAndGlyphs">SOBRAL DE MONTE AGRAÇO</textPath></text></g></svg>
<svg class="coa" style="left:2150.7px;top:2038px" width="210" height="250" viewBox="-105 -65 210 250"><g transform="scale(1)"><path d="M-65.97,51.5 A66.3,73.6 0 1 0 65.97,51.5 L46.54,60.5 A46.7,46.7 0 1 1 -46.54,60.5 Z" fill="#fff" stroke="#6f6f6f" stroke-width=".7"/><g transform="scale(-1,1)" fill="#fff" stroke="#6e6e6e" stroke-width=".7" stroke-linejoin="round"><path d="M-66.2,43.8 L-78.4,41.6 L-78.9,64.2 L-67.8,66 L-64.2,53 Z"/><path d="M-77.6,42 v5.6 M-77.6,57.6 v6 M-76.05,42.28 v5.6 M-76.05,57.84 v6 M-74.5,42.56 v5.6 M-74.5,58.08 v6 M-72.95,42.84 v5.6 M-72.95,58.32 v6 M-71.4,43.12 v5.6 M-71.4,58.56 v6 M-69.85,43.4 v5.6 M-69.85,58.8 v6 M-68.3,43.68 v5.6 M-68.3,59.04 v6 " fill="none" stroke-width=".55"/><path d="M-78.6,49.4 L-65.4,51.4 M-78.8,56.4 L-65.6,58" fill="none" stroke-width=".5"/><path d="M-63,45.5 C-58,48 -53,44 -54.5,40.5 L-51.5,31.5 C-53,28 -58,27 -62.5,21.8 C-58,20.5 -54,21 -52.5,19.5 C-49.5,16 -54,11.5 -57,14 C-59,16 -57,19 -54.5,19.8 M-62.5,21.8 C-66,26 -69,30 -68.2,32.5 C-65,35 -60,36 -57.5,38.5 C-60,41 -63,43 -63,45.5Z"/><path d="M-57.4,29.4 v8 M-56,30 v7.4 M-54.6,30.6 v6.4 M-53.4,31.2 v5 M-66,30.5 l3.4,2.4 M-64.4,27.8 l3.6,2.6 M-60.5,23.6 l3,1.8" fill="none" stroke-width=".5"/><path d="M-63,53.6 l.7,3 M-61,54.6 l.7,3 M-59,55.6 l.7,3 M-57,56.6 l.7,3 M-55,57.6 l.7,3 M-53,58.6 l.7,3 M-51,59.6 l.7,3 M-49,60.6 l.7,3 " fill="none" stroke-width=".55"/><path d="M-64.5,52.6 C-60,54.5 -54,57.6 -47.8,60.4" fill="none"/></g><g transform="scale(1,1)" fill="#fff" stroke="#6e6e6e" stroke-width=".7" stroke-linejoin="round"><path d="M-66.2,43.8 L-78.4,41.6 L-78.9,64.2 L-67.8,66 L-64.2,53 Z"/><path d="M-77.6,42 v5.6 M-77.6,57.6 v6 M-76.05,42.28 v5.6 M-76.05,57.84 v6 M-74.5,42.56 v5.6 M-74.5,58.08 v6 M-72.95,42.84 v5.6 M-72.95,58.32 v6 M-71.4,43.12 v5.6 M-71.4,58.56 v6 M-69.85,43.4 v5.6 M-69.85,58.8 v6 M-68.3,43.68 v5.6 M-68.3,59.04 v6 " fill="none" stroke-width=".55"/><path d="M-78.6,49.4 L-65.4,51.4 M-78.8,56.4 L-65.6,58" fill="none" stroke-width=".5"/><path d="M-63,45.5 C-58,48 -53,44 -54.5,40.5 L-51.5,31.5 C-53,28 -58,27 -62.5,21.8 C-58,20.5 -54,21 -52.5,19.5 C-49.5,16 -54,11.5 -57,14 C-59,16 -57,19 -54.5,19.8 M-62.5,21.8 C-66,26 -69,30 -68.2,32.5 C-65,35 -60,36 -57.5,38.5 C-60,41 -63,43 -63,45.5Z"/><path d="M-57.4,29.4 v8 M-56,30 v7.4 M-54.6,30.6 v6.4 M-53.4,31.2 v5 M-66,30.5 l3.4,2.4 M-64.4,27.8 l3.6,2.6 M-60.5,23.6 l3,1.8" fill="none" stroke-width=".5"/><path d="M-63,53.6 l.7,3 M-61,54.6 l.7,3 M-59,55.6 l.7,3 M-57,56.6 l.7,3 M-55,57.6 l.7,3 M-53,58.6 l.7,3 M-51,59.6 l.7,3 M-49,60.6 l.7,3 " fill="none" stroke-width=".55"/><path d="M-64.5,52.6 C-60,54.5 -54,57.6 -47.8,60.4" fill="none"/></g><defs><clipPath id="ct12"><path d="M-45,0H45V56.7A45,45 0 0 1 -45,56.7Z"/></clipPath><linearGradient id="gg12" x1="0" y1="0" x2="1" y2="1"><stop offset="0" stop-color="#d9a726"/><stop offset=".35" stop-color="#e6bd34"/><stop offset="1" stop-color="#b98a14"/></linearGradient></defs><path d="M-45,0H45V56.7A45,45 0 0 1 -45,56.7Z" fill="url(#gg12)"/><g clip-path="url(#ct12)"><path d="M-45,0 H10 L-45,60Z" fill="#e8c23a" opacity=".55"/><path d="M-28,16 H28 V60 A28,28 0 0 1 -28,60Z" fill="#d6a827" opacity=".5"/><path d="M-35.2,10.8 H35 V60 A35,35 0 0 1 -35.2,60Z" fill="none" stroke="#1c7a44" stroke-width="7.5" /><path d="M-35.2,10.8 H35 V60 A35,35 0 0 1 -35.2,60Z" fill="none" stroke="#0f5a30" stroke-width="8.3" stroke-dasharray="1.2 5.4" opacity=".7"/><circle cx="-32.9" cy="10.8" r="6.9" fill="#d7352c" stroke="#5a100c" stroke-width="0.8"/><path d="M-36.7,11.49 a3.8,3.8 0 1 1 6.21,-2.07 M-30.83,13.21 a2.42,2.42 0 1 0 -3.45,-3.11" fill="none" stroke="#6a140f" stroke-width="0.9" /><circle cx="-34.62" cy="8.73" r="1.66" fill="#ef6a58"/><circle cx="-11.6" cy="10.8" r="6.9" fill="#d7352c" stroke="#5a100c" stroke-width="0.8"/><path d="M-15.39,11.49 a3.8,3.8 0 1 1 6.21,-2.07 M-9.53,13.21 a2.42,2.42 0 1 0 -3.45,-3.11" fill="none" stroke="#6a140f" stroke-width="0.9" /><circle cx="-13.32" cy="8.73" r="1.66" fill="#ef6a58"/><circle cx="13.2" cy="10.8" r="6.9" fill="#d7352c" stroke="#5a100c" stroke-width="0.8"/><path d="M9.4,11.49 a3.8,3.8 0 1 1 6.21,-2.07 M15.27,13.21 a2.42,2.42 0 1 0 -3.45,-3.11" fill="none" stroke="#6a140f" stroke-width="0.9" /><circle cx="11.47" cy="8.73" r="1.66" fill="#ef6a58"/><circle cx="34.4" cy="10.8" r="6.9" fill="#d7352c" stroke="#5a100c" stroke-width="0.8"/><path d="M30.6,11.49 a3.8,3.8 0 1 1 6.21,-2.07 M36.47,13.21 a2.42,2.42 0 1 0 -3.45,-3.11" fill="none" stroke="#6a140f" stroke-width="0.9" /><circle cx="32.67" cy="8.73" r="1.66" fill="#ef6a58"/><circle cx="-35" cy="30.6" r="6.9" fill="#d7352c" stroke="#5a100c" stroke-width="0.8"/><path d="M-38.8,31.29 a3.8,3.8 0 1 1 6.21,-2.07 M-32.93,33.02 a2.42,2.42 0 1 0 -3.45,-3.11" fill="none" stroke="#6a140f" stroke-width="0.9" /><circle cx="-36.73" cy="28.53" r="1.66" fill="#ef6a58"/><circle cx="-35.4" cy="46.8" r="6.9" fill="#d7352c" stroke="#5a100c" stroke-width="0.8"/><path d="M-39.2,47.49 a3.8,3.8 0 1 1 6.21,-2.07 M-33.33,49.21 a2.42,2.42 0 1 0 -3.45,-3.11" fill="none" stroke="#6a140f" stroke-width="0.9" /><circle cx="-37.12" cy="44.73" r="1.66" fill="#ef6a58"/><circle cx="-35" cy="63" r="6.9" fill="#d7352c" stroke="#5a100c" stroke-width="0.8"/><path d="M-38.8,63.69 a3.8,3.8 0 1 1 6.21,-2.07 M-32.93,65.42 a2.42,2.42 0 1 0 -3.45,-3.11" fill="none" stroke="#6a140f" stroke-width="0.9" /><circle cx="-36.73" cy="60.93" r="1.66" fill="#ef6a58"/><circle cx="34.4" cy="30.6" r="6.9" fill="#d7352c" stroke="#5a100c" stroke-width="0.8"/><path d="M30.6,31.29 a3.8,3.8 0 1 1 6.21,-2.07 M36.47,33.02 a2.42,2.42 0 1 0 -3.45,-3.11" fill="none" stroke="#6a140f" stroke-width="0.9" /><circle cx="32.67" cy="28.53" r="1.66" fill="#ef6a58"/><circle cx="35" cy="46.8" r="6.9" fill="#d7352c" stroke="#5a100c" stroke-width="0.8"/><path d="M31.2,47.49 a3.8,3.8 0 1 1 6.21,-2.07 M37.07,49.21 a2.42,2.42 0 1 0 -3.45,-3.11" fill="none" stroke="#6a140f" stroke-width="0.9" /><circle cx="33.27" cy="44.73" r="1.66" fill="#ef6a58"/><circle cx="34.4" cy="63" r="6.9" fill="#d7352c" stroke="#5a100c" stroke-width="0.8"/><path d="M30.6,63.69 a3.8,3.8 0 1 1 6.21,-2.07 M36.47,65.42 a2.42,2.42 0 1 0 -3.45,-3.11" fill="none" stroke="#6a140f" stroke-width="0.9" /><circle cx="32.67" cy="60.93" r="1.66" fill="#ef6a58"/><circle cx="-25.8" cy="80.2" r="6.9" fill="#d7352c" stroke="#5a100c" stroke-width="0.8"/><path d="M-29.6,80.89 a3.8,3.8 0 1 1 6.21,-2.07 M-23.73,82.62 a2.42,2.42 0 1 0 -3.45,-3.11" fill="none" stroke="#6a140f" stroke-width="0.9" /><circle cx="-27.53" cy="78.13" r="1.66" fill="#ef6a58"/><circle cx="-10.6" cy="90.4" r="6.9" fill="#d7352c" stroke="#5a100c" stroke-width="0.8"/><path d="M-14.39,91.09 a3.8,3.8 0 1 1 6.21,-2.07 M-8.53,92.82 a2.42,2.42 0 1 0 -3.45,-3.11" fill="none" stroke="#6a140f" stroke-width="0.9" /><circle cx="-12.32" cy="88.33" r="1.66" fill="#ef6a58"/><circle cx="7.6" cy="89.8" r="6.9" fill="#d7352c" stroke="#5a100c" stroke-width="0.8"/><path d="M3.8,90.49 a3.8,3.8 0 1 1 6.21,-2.07 M9.67,92.22 a2.42,2.42 0 1 0 -3.45,-3.11" fill="none" stroke="#6a140f" stroke-width="0.9" /><circle cx="5.88" cy="87.73" r="1.66" fill="#ef6a58"/><circle cx="23.8" cy="80.2" r="6.9" fill="#d7352c" stroke="#5a100c" stroke-width="0.8"/><path d="M20,80.89 a3.8,3.8 0 1 1 6.21,-2.07 M25.87,82.62 a2.42,2.42 0 1 0 -3.45,-3.11" fill="none" stroke="#6a140f" stroke-width="0.9" /><circle cx="22.07" cy="78.13" r="1.66" fill="#ef6a58"/><rect x="-21.3" y="41.2" width="42.6" height="15.8" fill="#1f5bb0" stroke="#123a78" stroke-width="0.5" /><rect x="-21.3" y="28.6" width="11.6" height="13" fill="#1f5bb0" stroke="#123a78" stroke-width="0.5" /><rect x="-21.3" y="26" width="2.32" height="2.8" fill="#1f5bb0" stroke="#123a78" stroke-width="0.3" /><rect x="-16.66" y="26" width="2.32" height="2.8" fill="#1f5bb0" stroke="#123a78" stroke-width="0.3" /><rect x="-12.02" y="26" width="2.32" height="2.8" fill="#1f5bb0" stroke="#123a78" stroke-width="0.3" /><rect x="9.7" y="28.6" width="11.6" height="13" fill="#1f5bb0" stroke="#123a78" stroke-width="0.5" /><rect x="9.7" y="26" width="2.32" height="2.8" fill="#1f5bb0" stroke="#123a78" stroke-width="0.3" /><rect x="14.34" y="26" width="2.32" height="2.8" fill="#1f5bb0" stroke="#123a78" stroke-width="0.3" /><rect x="18.98" y="26" width="2.32" height="2.8" fill="#1f5bb0" stroke="#123a78" stroke-width="0.3" /><rect x="-7.1" y="22" width="14.7" height="19.4" fill="#1f5bb0" stroke="#123a78" stroke-width="0.5" /><rect x="-7.6" y="19.2" width="2.24" height="3" fill="#1f5bb0" stroke="#123a78" stroke-width="0.3" /><rect x="-3.11" y="19.2" width="2.24" height="3" fill="#1f5bb0" stroke="#123a78" stroke-width="0.3" /><rect x="1.37" y="19.2" width="2.24" height="3" fill="#1f5bb0" stroke="#123a78" stroke-width="0.3" /><rect x="5.86" y="19.2" width="2.24" height="3" fill="#1f5bb0" stroke="#123a78" stroke-width="0.3" /><path d="M-21.3,45 H21.3 M-21.3,49 H21.3 M-21.3,53 H21.3" fill="none" stroke="#123a78" stroke-width="0.4" /><path d="M-2,57 v-4.3 a2.1,2.1 0 0 1 4.2,0 v4.3Z" fill="#e8c23a" /><rect x="-0.7" y="28" width="1.5" height="3.6" fill="#e8c23a" /><rect x="-0.7" y="35.4" width="1.5" height="3" fill="#e8c23a" /><rect x="-16.2" y="33.4" width="1.2" height="2.6" fill="#e8c23a" /><rect x="14.9" y="33.4" width="1.2" height="2.6" fill="#e8c23a" /><path d="M-13.2,75.4 C-10,73.6 -7.6,72.6 -6.2,70.6 C-7.6,69.4 -9.4,69.6 -10.8,68.4 C-10.6,66.4 -9,64.4 -7.2,63.6 C-5.6,61.6 -3.6,62.2 -3,64.2 C-1,66 .6,68 3,68.6 C6.6,68.6 10,69.4 11.6,71.6 C13,73.6 12.8,76 11,77.2 C8.4,77.4 6,76.8 4,77 C.8,77.2 -2,76.4 -4.4,76.8 C-7.4,77.2 -10.4,77.4 -13.2,75.4Z" fill="#0b0b0b" /></g><path d="M-45,0H45V56.7A45,45 0 0 1 -45,56.7Z" fill="none" stroke="#7a5c10" stroke-width="0.8"/><g><path d="M-48.8,-3.2Q0,-13.6 48.8,-3.2L45,0.6H-45Z" fill="#fff"/><path d="M-49.5,-10 L-40.5,-27.8 h2.07 v1.7 h2.07 v-1.7 h2.07 v1.7 h2.07 v-1.7 h2.07 v1.7 h2.07 v-1.7 h2.07 L-26,-14 H-9.5 V-31.4 h2.11 v1.7 h2.11 v-1.7 h2.11 v1.7 h2.11 v-1.7 h2.11 v1.7 h2.11 v-1.7 h2.11 v1.7 h2.11 v-1.7 h2.11 V-14 H26 V-27.8 h2.07 v1.7 h2.07 v-1.7 h2.07 v1.7 h2.07 v-1.7 h2.07 v1.7 h2.07 v-1.7 h2.07 L49.5,-10 Q0,-20.5 -49.5,-10Z" fill="#989898" stroke="#5a5a5a" stroke-width=".6"/><clipPath id="cw4"><path d="M-49.5,-10 L-40.5,-27.8 h2.07 v1.7 h2.07 v-1.7 h2.07 v1.7 h2.07 v-1.7 h2.07 v1.7 h2.07 v-1.7 h2.07 L-26,-14 H-9.5 V-31.4 h2.11 v1.7 h2.11 v-1.7 h2.11 v1.7 h2.11 v-1.7 h2.11 v1.7 h2.11 v-1.7 h2.11 v1.7 h2.11 v-1.7 h2.11 V-14 H26 V-27.8 h2.07 v1.7 h2.07 v-1.7 h2.07 v1.7 h2.07 v-1.7 h2.07 v1.7 h2.07 v-1.7 h2.07 L49.5,-10 Q0,-20.5 -49.5,-10Z"/></clipPath><path d="M-45,-20.8 Q0,-31.2 45,-20.8 M-45,-18 Q0,-28.4 45,-18 M-45,-15.2 Q0,-25.6 45,-15.2 M-45,-12.4 Q0,-22.8 45,-12.4 M-45,-9.6 Q0,-20 45,-9.6 M-44,-12 v-20 M-40.7,-12 v-20 M-39.6,-12 v-20 M-36.3,-12 v-20 M-35.2,-12 v-20 M-31.9,-12 v-20 M-30.8,-12 v-20 M-27.5,-12 v-20 M-26.4,-12 v-20 M-23.1,-12 v-20 M-22,-12 v-20 M-18.7,-12 v-20 M-17.6,-12 v-20 M-14.3,-12 v-20 M-13.2,-12 v-20 M-9.9,-12 v-20 M-8.8,-12 v-20 M-5.5,-12 v-20 M-4.4,-12 v-20 M-1.1,-12 v-20 M0,-12 v-20 M3.3,-12 v-20 M4.4,-12 v-20 M7.7,-12 v-20 M8.8,-12 v-20 M12.1,-12 v-20 M13.2,-12 v-20 M16.5,-12 v-20 M17.6,-12 v-20 M20.9,-12 v-20 M22,-12 v-20 M25.3,-12 v-20 M26.4,-12 v-20 M29.7,-12 v-20 M30.8,-12 v-20 M34.1,-12 v-20 M35.2,-12 v-20 M38.5,-12 v-20 M39.6,-12 v-20 M42.9,-12 v-20 M44,-12 v-20 " fill="none" stroke="#6c6c6c" stroke-width=".5" clip-path="url(#cw4)"/><path d="M-49.8,-10.4 Q0,-21 49.8,-10.4 L48.9,-3.1 Q0,-13.6 -48.9,-3.1Z" fill="#acacac" stroke="#4e4e4e" stroke-width=".7"/><path d="M-49.4,-8.0 Q0,-18.5 49.4,-8.0" fill="none" stroke="#e4e4e4" stroke-width="1.4"/><path d="M-49.1,-5.4 Q0,-15.9 49.1,-5.4" fill="none" stroke="#747474" stroke-width="1"/><polygon points="48.9,-8.2 56,-24.5 44.2,-29.4 38,-13.6" fill="#a2a2a2" stroke="#505050" stroke-width=".6"/><polygon points="60.6,-27.4 59.2,-32.6 56.2,-33.8 55.4,-31.7 53.1,-32.6 53.9,-34.7 50.9,-35.9 50.1,-33.8 47.8,-34.7 48.6,-36.8 45.6,-38 42.6,-33 43.6,-29.8 56.4,-23.6" fill="#bcbcbc" stroke="#4c4c4c" stroke-width=".6"/><polygon points="49.6,-14.6 52.4,-21.2 49.4,-22.4 46.4,-16" fill="#3c3c3c"/><polygon points="55.6,-26.4 44.6,-31 44,-29.6 55,-25" fill="#4a4a4a"/><polygon points="-48.9,-8.2 -56,-24.5 -44.2,-29.4 -38,-13.6" fill="#a2a2a2" stroke="#505050" stroke-width=".6"/><polygon points="-60.6,-27.4 -59.2,-32.6 -56.2,-33.8 -55.4,-31.7 -53.1,-32.6 -53.9,-34.7 -50.9,-35.9 -50.1,-33.8 -47.8,-34.7 -48.6,-36.8 -45.6,-38 -42.6,-33 -43.6,-29.8 -56.4,-23.6" fill="#bcbcbc" stroke="#4c4c4c" stroke-width=".6"/><polygon points="-49.6,-14.6 -52.4,-21.2 -49.4,-22.4 -46.4,-16" fill="#3c3c3c"/><polygon points="-55.6,-26.4 -44.6,-31 -44,-29.6 -55,-25" fill="#4a4a4a"/><path d="M-27.8,-15 L-25.6,-36 H-10.8 L-8.6,-15Z" fill="#a6a6a6" stroke="#505050" stroke-width=".6"/><path d="M-29,-36 V-42.2 h3.3 v2.2 h2.8 v-2.2 h3.3 v2.2 h2.8 v-2.2 h3.3 v2.2 h2.8 v-2.2 h3.3 V-36Z" fill="#bababa" stroke="#4c4c4c" stroke-width=".6"/><rect x="-29" y="-37.8" width="21.6" height="1.6" fill="#6e6e6e"/><path d="M-21.8,-16.5 v-8 a3.6,4 0 0 1 7.2,0 v8Z" fill="#4e4e4e"/><path d="M-19.8,-16.8 v-7 a2.3,2.8 0 0 1 4.6,0 v7Z" fill="#cfcfcf"/><path d="M-19.2,-19h3.4M-19.2,-21.4h3.4M-19,-23.6h3" stroke="#777" stroke-width=".6" fill="none"/><rect x="-23.2" y="-34.2" width="1.7" height="3.4" fill="#222"/><rect x="-14.9" y="-34.2" width="1.7" height="3.4" fill="#222"/><path d="M8.6,-15 L10.8,-36 H25.6 L27.8,-15Z" fill="#a6a6a6" stroke="#505050" stroke-width=".6"/><path d="M7.4,-36 V-42.2 h3.3 v2.2 h2.8 v-2.2 h3.3 v2.2 h2.8 v-2.2 h3.3 v2.2 h2.8 v-2.2 h3.3 V-36Z" fill="#bababa" stroke="#4c4c4c" stroke-width=".6"/><rect x="7.4" y="-37.8" width="21.6" height="1.6" fill="#6e6e6e"/><path d="M14.6,-16.5 v-8 a3.6,4 0 0 1 7.2,0 v8Z" fill="#4e4e4e"/><path d="M16.6,-16.8 v-7 a2.3,2.8 0 0 1 4.6,0 v7Z" fill="#cfcfcf"/><path d="M17.2,-19h3.4M17.2,-21.4h3.4M17.4,-23.6h3" stroke="#777" stroke-width=".6" fill="none"/><rect x="13.2" y="-34.2" width="1.7" height="3.4" fill="#222"/><rect x="21.5" y="-34.2" width="1.7" height="3.4" fill="#222"/></g><path id="t12" d="M-61.48,74.87 A63.3,72.1 0 0 0 61.53,74.65" fill="none"/><text font-family="'Liberation Sans',sans-serif" font-size="22" font-weight="700" fill="#0c0c0c" text-anchor="middle" word-spacing="3"><textPath href="#t12" startOffset="50%" textLength="146.95" lengthAdjust="spacingAndGlyphs">VILA DE ALENQUER</textPath></text></g></svg>
</div></body></html>
